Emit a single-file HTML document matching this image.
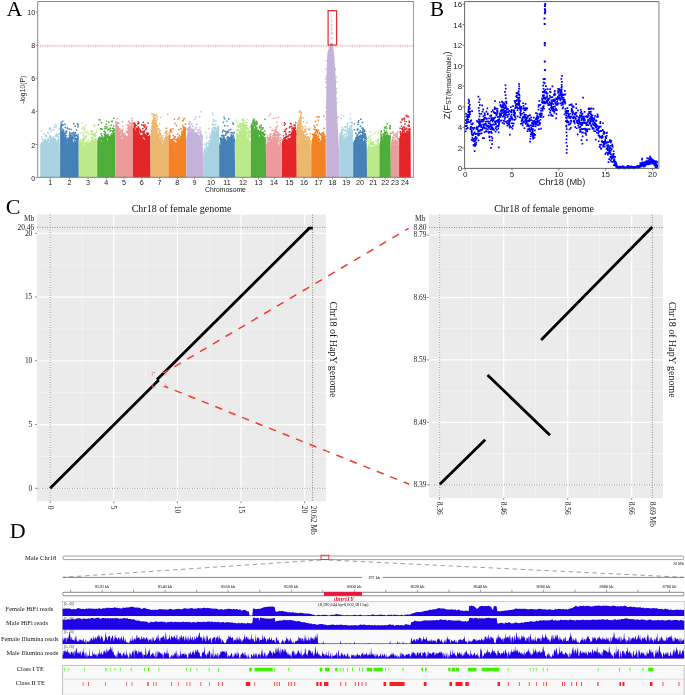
<!DOCTYPE html><html><head><meta charset="utf-8"><title>fig</title><style>
html,body{margin:0;padding:0;background:#fff;width:685px;height:695px;overflow:hidden}
svg{display:block;will-change:transform}
.s{font-family:"Liberation Sans",sans-serif}.r{font-family:"Liberation Serif",serif}
</style></head><body>
<svg width="685" height="695" viewBox="0 0 685 695">
<g id="A">
<path fill="#a9d3e3" d="M40.2 177.6 L40.2 145.5 L40.7 144.4 L41.2 143.6 L41.7 143.8 L42.2 145.5 L42.7 143.9 L43.2 141.4 L43.7 140.2 L44.2 139.1 L44.7 140.5 L45.2 139 L45.7 140.9 L46.2 143 L46.7 139.9 L47.2 140.2 L47.7 139.1 L48.2 142.9 L48.7 143 L49.2 142.2 L49.7 141.5 L50.2 139.1 L50.7 139.7 L51.2 137.8 L51.7 139 L52.2 138.1 L52.7 138.3 L53.2 139.2 L53.7 136.6 L54.2 138.2 L54.7 137.4 L55.2 141.3 L55.7 141.8 L56.2 142.3 L56.7 141.1 L57.2 140 L57.7 140.8 L58.2 141.4 L58.7 141.9 L59.2 142.9 L59.7 139.2 L60.1 177.6 Z"/>
<path fill="#a9d3e3" d="M43.6 142.5h1.5v1.5h-1.5zM41.6 138.4h1.5v1.5h-1.5zM42.9 142.4h1.5v1.5h-1.5zM47.7 132.2h1.5v1.5h-1.5zM42 141.8h1.5v1.5h-1.5zM50.6 130.6h1.5v1.5h-1.5zM55.5 133.4h1.5v1.5h-1.5zM45.6 139.6h1.5v1.5h-1.5zM47.1 132h1.5v1.5h-1.5zM58 141h1.5v1.5h-1.5zM43.7 141.8h1.5v1.5h-1.5zM44.8 139.4h1.5v1.5h-1.5zM51.3 138.2h1.5v1.5h-1.5zM40.6 143.2h1.5v1.5h-1.5zM47.3 137.6h1.5v1.5h-1.5zM57.9 136.7h1.5v1.5h-1.5zM49.9 136h1.5v1.5h-1.5zM52.9 139.6h1.5v1.5h-1.5zM57 135.6h1.5v1.5h-1.5zM56.5 135.5h1.5v1.5h-1.5zM47.7 138.9h1.5v1.5h-1.5zM42.4 139.7h1.5v1.5h-1.5zM41.6 144.3h1.5v1.5h-1.5zM44.3 141.7h1.5v1.5h-1.5zM46.7 141.2h1.5v1.5h-1.5zM40.5 144.9h1.5v1.5h-1.5zM42.4 142.1h1.5v1.5h-1.5zM41 136.3h1.5v1.5h-1.5zM51.7 138.7h1.5v1.5h-1.5zM45.1 140.3h1.5v1.5h-1.5zM47.2 140.7h1.5v1.5h-1.5zM49.4 140h1.5v1.5h-1.5zM42.4 142.2h1.5v1.5h-1.5zM45.3 134.4h1.5v1.5h-1.5zM43.5 143h1.5v1.5h-1.5zM57.9 138.5h1.5v1.5h-1.5zM43.2 140h1.5v1.5h-1.5zM41 141.9h1.5v1.5h-1.5zM58.4 133h1.5v1.5h-1.5zM53.2 138.8h1.5v1.5h-1.5zM47.2 140.5h1.5v1.5h-1.5zM54.6 138h1.5v1.5h-1.5zM54.8 139.7h1.5v1.5h-1.5zM44.6 135.2h1.5v1.5h-1.5zM58.5 133.3h1.5v1.5h-1.5zM55.3 134.5h1.5v1.5h-1.5zM54 139.7h1.5v1.5h-1.5zM50 138.2h1.5v1.5h-1.5zM41 145h1.5v1.5h-1.5zM45.6 140.6h1.5v1.5h-1.5zM53.2 126.6h1.5v1.5h-1.5zM48.7 128.7h1.5v1.5h-1.5zM58.6 128.1h1.5v1.5h-1.5zM47.2 140.2h1.5v1.5h-1.5zM44.7 141.4h1.5v1.5h-1.5zM44.2 138.3h1.5v1.5h-1.5zM57 134.3h1.5v1.5h-1.5zM49.3 135.8h1.5v1.5h-1.5zM55.1 141.3h1.5v1.5h-1.5zM52.6 129.2h1.5v1.5h-1.5zM54.8 135.5h1.5v1.5h-1.5zM49.2 139.6h1.5v1.5h-1.5zM54.9 139.8h1.5v1.5h-1.5zM55.2 126.4h1.5v1.5h-1.5zM47.7 138.8h1.5v1.5h-1.5zM57.8 136.3h1.5v1.5h-1.5zM43.6 142.4h1.5v1.5h-1.5zM43.3 133.2h1.5v1.5h-1.5zM55.3 141.1h1.5v1.5h-1.5zM55.6 125.2h1.5v1.5h-1.5zM52.5 137.7h1.5v1.5h-1.5zM50.5 139.3h1.5v1.5h-1.5zM40.8 130.1h1.5v1.5h-1.5zM52.4 136.2h1.5v1.5h-1.5zM57.6 139.5h1.5v1.5h-1.5zM56.5 134.8h1.5v1.5h-1.5zM44.4 141.2h1.5v1.5h-1.5zM45.9 140.6h1.5v1.5h-1.5zM51.2 138.3h1.5v1.5h-1.5zM48.2 140.3h1.5v1.5h-1.5zM57.2 140.2h1.5v1.5h-1.5zM48.9 136.8h1.5v1.5h-1.5zM57 139.8h1.5v1.5h-1.5zM57.3 139h1.5v1.5h-1.5zM50.2 136.8h1.5v1.5h-1.5zM40.8 142.8h1.5v1.5h-1.5zM43.9 142.8h1.5v1.5h-1.5zM55.1 140.9h1.5v1.5h-1.5zM49.2 134.9h1.5v1.5h-1.5zM50.7 138.1h1.5v1.5h-1.5zM50 136.6h1.5v1.5h-1.5zM54.9 141h1.5v1.5h-1.5zM50.8 138.6h1.5v1.5h-1.5zM45.6 135.6h1.5v1.5h-1.5zM49.8 127.6h1.4v1.4h-1.4zM54.4 124h1.4v1.4h-1.4zM48.6 127.3h1.4v1.4h-1.4zM49.8 128.2h1.4v1.4h-1.4zM53.2 128.7h1.4v1.4h-1.4zM50.3 128.4h1.4v1.4h-1.4z"/>
<path fill="#4381b6" d="M60.1 177.6 L60.1 123.1 L60.6 127.2 L61.1 125.5 L61.6 130 L62.1 131.1 L62.6 131.1 L63.1 128.7 L63.6 133.1 L64.1 133.6 L64.6 135.9 L65.1 137.2 L65.6 138.1 L66.1 137.4 L66.6 138.5 L67.1 141.1 L67.6 142.9 L68.1 139.4 L68.6 139.4 L69.1 140.1 L69.6 141.5 L70.1 136.3 L70.6 134.5 L71.1 134.1 L71.6 136.8 L72.1 136.4 L72.6 137 L73.1 142.7 L73.6 141.3 L74.1 138.8 L74.6 140.3 L75.1 141.5 L75.6 140.5 L76.1 138.6 L76.6 138.4 L77.1 137.4 L77.6 135 L78.1 133.5 L78.6 133.6 L78.8 177.6 Z"/>
<path fill="#4381b6" d="M76.2 137.9h1.5v1.5h-1.5zM62.6 129.4h1.5v1.5h-1.5zM64.5 136.2h1.5v1.5h-1.5zM63.2 133.9h1.5v1.5h-1.5zM63.9 134.3h1.5v1.5h-1.5zM65.6 132.1h1.5v1.5h-1.5zM65.4 134.9h1.5v1.5h-1.5zM63.4 133h1.5v1.5h-1.5zM60.7 126.3h1.5v1.5h-1.5zM60.7 121.8h1.5v1.5h-1.5zM69.8 138h1.5v1.5h-1.5zM68.5 128.3h1.5v1.5h-1.5zM62.2 124.2h1.5v1.5h-1.5zM67.8 137.7h1.5v1.5h-1.5zM74.7 138.4h1.5v1.5h-1.5zM69.1 134.5h1.5v1.5h-1.5zM77.2 136.2h1.5v1.5h-1.5zM74.6 135.2h1.5v1.5h-1.5zM71.3 135.4h1.5v1.5h-1.5zM66.3 139h1.5v1.5h-1.5zM62.6 132.3h1.5v1.5h-1.5zM73.1 137.8h1.5v1.5h-1.5zM63.2 133.8h1.5v1.5h-1.5zM74.8 131.8h1.5v1.5h-1.5zM71.9 136.6h1.5v1.5h-1.5zM64.5 135.3h1.5v1.5h-1.5zM68.3 139.5h1.5v1.5h-1.5zM68 139.2h1.5v1.5h-1.5zM76.8 123h1.5v1.5h-1.5zM69.8 137.7h1.5v1.5h-1.5zM76.9 136.8h1.5v1.5h-1.5zM66.5 139.4h1.5v1.5h-1.5zM66.9 137.2h1.5v1.5h-1.5zM69 138.6h1.5v1.5h-1.5zM69 139.6h1.5v1.5h-1.5zM64.9 136.9h1.5v1.5h-1.5zM67.2 140.2h1.5v1.5h-1.5zM60.8 126.2h1.5v1.5h-1.5zM64.4 132.8h1.5v1.5h-1.5zM69.4 133.2h1.5v1.5h-1.5zM71.6 132.4h1.5v1.5h-1.5zM75.4 138.2h1.5v1.5h-1.5zM72.8 134.4h1.5v1.5h-1.5zM61.1 124.4h1.5v1.5h-1.5zM72.9 131.8h1.5v1.5h-1.5zM62.8 129.9h1.5v1.5h-1.5zM69 131.8h1.5v1.5h-1.5zM74.2 132.5h1.5v1.5h-1.5zM70.4 128.8h1.5v1.5h-1.5zM72.1 133.1h1.5v1.5h-1.5zM64.3 136.4h1.5v1.5h-1.5zM62.7 130.9h1.5v1.5h-1.5zM62.2 123.7h1.5v1.5h-1.5zM70 134.5h1.5v1.5h-1.5zM71.1 132.8h1.5v1.5h-1.5zM68.8 139.8h1.5v1.5h-1.5zM74 134h1.5v1.5h-1.5zM69 136.3h1.5v1.5h-1.5zM71.7 137.6h1.5v1.5h-1.5zM73 137.8h1.5v1.5h-1.5zM61.7 128.8h1.5v1.5h-1.5zM72.9 137.9h1.5v1.5h-1.5zM73.1 123.1h1.5v1.5h-1.5zM68.8 137.7h1.5v1.5h-1.5zM68.6 135h1.5v1.5h-1.5zM73.5 135.4h1.5v1.5h-1.5zM71.4 137.3h1.5v1.5h-1.5zM62.9 132.2h1.5v1.5h-1.5zM73.1 137.6h1.5v1.5h-1.5zM70.1 138.6h1.5v1.5h-1.5zM61.4 128.2h1.5v1.5h-1.5zM71.9 133h1.5v1.5h-1.5zM72 136.6h1.5v1.5h-1.5zM69.2 136.7h1.5v1.5h-1.5zM68.4 139.6h1.5v1.5h-1.5zM75.7 139.1h1.5v1.5h-1.5zM77.1 126.3h1.5v1.5h-1.5zM60.7 124.9h1.5v1.5h-1.5zM74.4 125.5h1.5v1.5h-1.5zM68.1 139.1h1.5v1.5h-1.5zM64 123.6h1.5v1.5h-1.5zM64 132.4h1.5v1.5h-1.5zM62.8 130h1.5v1.5h-1.5zM76.7 138.1h1.5v1.5h-1.5zM74.4 137.2h1.5v1.5h-1.5zM75.6 135h1.5v1.5h-1.5zM64.4 126.8h1.5v1.5h-1.5zM68.7 139.7h1.5v1.5h-1.5zM60.5 124h1.5v1.5h-1.5zM68.1 138.8h1.5v1.5h-1.5zM62.8 131.3h1.5v1.5h-1.5zM65.8 130.6h1.5v1.5h-1.5zM60.4 121.9h1.5v1.5h-1.5zM76.2 133.9h1.5v1.5h-1.5zM75.8 129.3h1.4v1.4h-1.4zM66.8 127.9h1.4v1.4h-1.4zM77.5 124.3h1.4v1.4h-1.4zM66.6 127.2h1.4v1.4h-1.4zM65.1 130.4h1.4v1.4h-1.4zM62.1 120.5h1.4v1.4h-1.4z"/>
<path fill="#bcea8a" d="M78.8 177.6 L78.8 144.5 L79.3 140.8 L79.8 140.5 L80.3 139.4 L80.8 142 L81.3 142.2 L81.8 144.2 L82.3 140 L82.8 138.4 L83.3 142.7 L83.8 145.1 L84.3 146.9 L84.8 143.4 L85.3 144.1 L85.8 144.8 L86.3 146.1 L86.8 145.4 L87.3 146.1 L87.8 145 L88.3 146.3 L88.8 145.2 L89.3 143.2 L89.8 140.5 L90.3 142.4 L90.8 142.5 L91.3 140.9 L91.8 140.5 L92.3 138.5 L92.8 137.7 L93.3 138.5 L93.8 139.4 L94.3 140.7 L94.8 140.9 L95.3 141.1 L95.8 140.3 L96.3 141.6 L96.8 141.4 L97.2 177.6 Z"/>
<path fill="#bcea8a" d="M91 132.1h1.5v1.5h-1.5zM87.1 141.5h1.5v1.5h-1.5zM79.1 142.1h1.5v1.5h-1.5zM94.7 133.1h1.5v1.5h-1.5zM93.5 124.2h1.5v1.5h-1.5zM83.3 141.8h1.5v1.5h-1.5zM81.7 138.7h1.5v1.5h-1.5zM90.6 130h1.5v1.5h-1.5zM91.2 137.1h1.5v1.5h-1.5zM91.9 138.3h1.5v1.5h-1.5zM88.4 144h1.5v1.5h-1.5zM92.2 139.5h1.5v1.5h-1.5zM94.6 136h1.5v1.5h-1.5zM84.2 142.9h1.5v1.5h-1.5zM83.3 138h1.5v1.5h-1.5zM90.8 141.4h1.5v1.5h-1.5zM80.3 140h1.5v1.5h-1.5zM88.9 141.6h1.5v1.5h-1.5zM82.9 137.7h1.5v1.5h-1.5zM79.3 142.5h1.5v1.5h-1.5zM86.8 131.8h1.5v1.5h-1.5zM89.9 133.5h1.5v1.5h-1.5zM87.1 144.2h1.5v1.5h-1.5zM83.3 128.3h1.5v1.5h-1.5zM90.9 140.3h1.5v1.5h-1.5zM79.5 140.9h1.5v1.5h-1.5zM90.4 140h1.5v1.5h-1.5zM83.4 137.7h1.5v1.5h-1.5zM94.6 139.4h1.5v1.5h-1.5zM79.7 141.9h1.5v1.5h-1.5zM86.2 141.2h1.5v1.5h-1.5zM82.4 134.4h1.5v1.5h-1.5zM91.5 138.3h1.5v1.5h-1.5zM82.5 126.2h1.5v1.5h-1.5zM84.3 136.3h1.5v1.5h-1.5zM83 140.8h1.5v1.5h-1.5zM91.9 139.5h1.5v1.5h-1.5zM95.1 138h1.5v1.5h-1.5zM82.2 140.3h1.5v1.5h-1.5zM86.1 141.4h1.5v1.5h-1.5zM95 140.2h1.5v1.5h-1.5zM85.7 144.5h1.5v1.5h-1.5zM95.5 140.6h1.5v1.5h-1.5zM80 143.2h1.5v1.5h-1.5zM85.7 135.7h1.5v1.5h-1.5zM93.9 134.2h1.5v1.5h-1.5zM95.9 130.1h1.5v1.5h-1.5zM84.6 143.2h1.5v1.5h-1.5zM94.8 134.8h1.5v1.5h-1.5zM79.6 139h1.5v1.5h-1.5zM85.5 143.2h1.5v1.5h-1.5zM84.7 143.4h1.5v1.5h-1.5zM79.1 142.8h1.5v1.5h-1.5zM85 131.2h1.5v1.5h-1.5zM81.2 128h1.5v1.5h-1.5zM82.6 139.4h1.5v1.5h-1.5zM92.9 132.7h1.5v1.5h-1.5zM86.4 145.8h1.5v1.5h-1.5zM87.1 143.3h1.5v1.5h-1.5zM94.5 139.5h1.5v1.5h-1.5zM85.2 135.1h1.5v1.5h-1.5zM79.6 141.5h1.5v1.5h-1.5zM92.7 134h1.5v1.5h-1.5zM79.8 143.5h1.5v1.5h-1.5zM80.2 132.4h1.5v1.5h-1.5zM83.4 136.5h1.5v1.5h-1.5zM94.2 138.4h1.5v1.5h-1.5zM83.7 129.2h1.5v1.5h-1.5zM89.5 141.9h1.5v1.5h-1.5zM91.1 140h1.5v1.5h-1.5zM83.7 142.9h1.5v1.5h-1.5zM91.8 130.4h1.5v1.5h-1.5zM89.8 130.6h1.5v1.5h-1.5zM79.5 142.7h1.5v1.5h-1.5zM87.1 131.8h1.5v1.5h-1.5zM95.1 138.9h1.5v1.5h-1.5zM83.3 139.9h1.5v1.5h-1.5zM87.4 133.7h1.5v1.5h-1.5zM82.2 134.5h1.5v1.5h-1.5zM91.5 133.9h1.5v1.5h-1.5zM92.1 136.8h1.5v1.5h-1.5zM84.6 142.4h1.5v1.5h-1.5zM85.2 138.3h1.5v1.5h-1.5zM80.4 142.1h1.5v1.5h-1.5zM91.7 139.9h1.5v1.5h-1.5zM80.2 143.1h1.5v1.5h-1.5zM88.4 142.5h1.5v1.5h-1.5zM95.6 132.1h1.5v1.5h-1.5zM95.7 140.2h1.5v1.5h-1.5zM80.5 142.5h1.5v1.5h-1.5zM87.5 139.6h1.5v1.5h-1.5zM86.6 144.6h1.5v1.5h-1.5zM86.1 141.9h1.5v1.5h-1.5zM90.4 136.4h1.5v1.5h-1.5zM93.3 135h1.5v1.5h-1.5zM81.1 122.2h1.4v1.4h-1.4zM84 127h1.4v1.4h-1.4zM85.4 124.6h1.4v1.4h-1.4zM82.4 130.9h1.4v1.4h-1.4zM83.2 133.1h1.4v1.4h-1.4zM94 125.4h1.4v1.4h-1.4z"/>
<path fill="#4fad3a" d="M97.2 177.6 L97.2 139.1 L97.7 141.3 L98.2 139.4 L98.7 137.3 L99.2 139.2 L99.7 138.8 L100.2 136.4 L100.7 138.9 L101.2 142.2 L101.7 139.2 L102.2 137.3 L102.7 135.4 L103.2 137.9 L103.7 136 L104.2 136.6 L104.7 136.4 L105.2 134.9 L105.7 134.7 L106.2 132.5 L106.7 138.2 L107.2 138.7 L107.7 141.5 L108.2 137.5 L108.7 138.6 L109.2 137 L109.7 134.8 L110.2 137.7 L110.7 135.1 L111.2 133.5 L111.7 133.1 L112.2 134.6 L112.7 134.9 L113.2 131.8 L113.7 132.2 L114.2 130.3 L114.7 133.3 L115.2 132.9 L115.3 177.6 Z"/>
<path fill="#4fad3a" d="M105.1 135.7h1.5v1.5h-1.5zM97.7 138.6h1.5v1.5h-1.5zM108.1 128.8h1.5v1.5h-1.5zM99 136.7h1.5v1.5h-1.5zM103.6 133.6h1.5v1.5h-1.5zM99.9 138.6h1.5v1.5h-1.5zM106.1 126.2h1.5v1.5h-1.5zM99.3 137.7h1.5v1.5h-1.5zM110.8 120.8h1.5v1.5h-1.5zM100.8 138.7h1.5v1.5h-1.5zM113.1 117.6h1.5v1.5h-1.5zM105.5 136.6h1.5v1.5h-1.5zM112.8 131.6h1.5v1.5h-1.5zM112.4 129.7h1.5v1.5h-1.5zM111.1 134.3h1.5v1.5h-1.5zM110.5 134.8h1.5v1.5h-1.5zM104.2 128.1h1.5v1.5h-1.5zM111.2 134.1h1.5v1.5h-1.5zM101.1 136.8h1.5v1.5h-1.5zM106 135.3h1.5v1.5h-1.5zM99.5 139.2h1.5v1.5h-1.5zM109.5 127.5h1.5v1.5h-1.5zM98.2 138.1h1.5v1.5h-1.5zM110 136.4h1.5v1.5h-1.5zM111.3 134.2h1.5v1.5h-1.5zM107.4 135.2h1.5v1.5h-1.5zM107.8 137.4h1.5v1.5h-1.5zM104.4 132.1h1.5v1.5h-1.5zM104.5 131.3h1.5v1.5h-1.5zM104.9 133.8h1.5v1.5h-1.5zM97.9 137.7h1.5v1.5h-1.5zM105.6 135.8h1.5v1.5h-1.5zM110.1 129.9h1.5v1.5h-1.5zM105.1 135.6h1.5v1.5h-1.5zM105.3 136.2h1.5v1.5h-1.5zM99.6 137.9h1.5v1.5h-1.5zM99 138.3h1.5v1.5h-1.5zM105.9 137.1h1.5v1.5h-1.5zM108 138.8h1.5v1.5h-1.5zM109.6 130.6h1.5v1.5h-1.5zM105.9 137h1.5v1.5h-1.5zM105.8 135.1h1.5v1.5h-1.5zM113.2 132.9h1.5v1.5h-1.5zM111.6 120.4h1.5v1.5h-1.5zM100.7 122.1h1.5v1.5h-1.5zM105.6 123.5h1.5v1.5h-1.5zM112.6 133h1.5v1.5h-1.5zM110.5 124.4h1.5v1.5h-1.5zM98.6 139.4h1.5v1.5h-1.5zM110 135.8h1.5v1.5h-1.5zM112.3 132.6h1.5v1.5h-1.5zM111 134.6h1.5v1.5h-1.5zM105.8 126.3h1.5v1.5h-1.5zM100.9 137.8h1.5v1.5h-1.5zM105.8 135.5h1.5v1.5h-1.5zM98.1 140.8h1.5v1.5h-1.5zM100.2 128h1.5v1.5h-1.5zM108.7 128.6h1.5v1.5h-1.5zM100.3 133.1h1.5v1.5h-1.5zM99.4 137.2h1.5v1.5h-1.5zM108 137.2h1.5v1.5h-1.5zM111.9 130.7h1.5v1.5h-1.5zM107.1 129.1h1.5v1.5h-1.5zM99.2 119.3h1.5v1.5h-1.5zM107.9 136.9h1.5v1.5h-1.5zM110.7 134.3h1.5v1.5h-1.5zM113.8 129.5h1.5v1.5h-1.5zM103.4 130.6h1.5v1.5h-1.5zM104.8 135.4h1.5v1.5h-1.5zM109.8 136.6h1.5v1.5h-1.5zM111 133.9h1.5v1.5h-1.5zM108 121.4h1.5v1.5h-1.5zM107.2 133.7h1.5v1.5h-1.5zM102.7 137.5h1.5v1.5h-1.5zM98.1 141h1.5v1.5h-1.5zM107.7 136.4h1.5v1.5h-1.5zM106 127.6h1.5v1.5h-1.5zM99.7 139.1h1.5v1.5h-1.5zM108.3 138.8h1.5v1.5h-1.5zM97.5 140.3h1.5v1.5h-1.5zM99.3 138.7h1.5v1.5h-1.5zM101.2 135.1h1.5v1.5h-1.5zM107.2 137.5h1.5v1.5h-1.5zM107.8 136.2h1.5v1.5h-1.5zM99.7 128.3h1.5v1.5h-1.5zM101.5 137.9h1.5v1.5h-1.5zM99.1 136.4h1.5v1.5h-1.5zM111.9 127.6h1.5v1.5h-1.5zM104.1 134.9h1.5v1.5h-1.5zM97.7 137.6h1.5v1.5h-1.5zM106.8 136.2h1.5v1.5h-1.5zM108.2 136.6h1.5v1.5h-1.5zM113 128h1.5v1.5h-1.5zM101.6 128.4h1.5v1.5h-1.5zM98.2 138.3h1.5v1.5h-1.5zM104.2 126h1.4v1.4h-1.4zM98.5 119.1h1.4v1.4h-1.4zM97.7 124h1.4v1.4h-1.4zM113 125.3h1.4v1.4h-1.4zM100.8 121.7h1.4v1.4h-1.4zM105.9 120.4h1.4v1.4h-1.4z"/>
<path fill="#ec9a9a" d="M115.3 177.6 L115.3 119.7 L115.8 121.9 L116.3 124.1 L116.8 125 L117.3 123 L117.8 126.5 L118.3 129.2 L118.8 132.7 L119.3 130.6 L119.8 132.4 L120.3 134 L120.8 136.3 L121.3 137.7 L121.8 139.1 L122.3 139.2 L122.8 137.5 L123.3 138.2 L123.8 137.1 L124.3 138.6 L124.8 136.3 L125.3 138 L125.8 139.6 L126.3 138.4 L126.8 135.8 L127.3 136.7 L127.8 135 L128.3 132.4 L128.8 131.1 L129.3 130.3 L129.8 126.8 L130.3 125.6 L130.8 125.5 L131.3 123.1 L131.8 122.5 L132.3 121.3 L132.8 119 L132.8 177.6 Z"/>
<path fill="#ec9a9a" d="M116.6 121.9h1.5v1.5h-1.5zM121.4 130.5h1.5v1.5h-1.5zM128.6 121.6h1.5v1.5h-1.5zM116.6 122.7h1.5v1.5h-1.5zM117.3 127h1.5v1.5h-1.5zM117.4 128.1h1.5v1.5h-1.5zM129.1 122.9h1.5v1.5h-1.5zM125.7 130.4h1.5v1.5h-1.5zM125.6 136.5h1.5v1.5h-1.5zM117.2 127.1h1.5v1.5h-1.5zM127.6 132.5h1.5v1.5h-1.5zM120.7 134.1h1.5v1.5h-1.5zM115.9 122.1h1.5v1.5h-1.5zM120.1 129.9h1.5v1.5h-1.5zM121.5 136.3h1.5v1.5h-1.5zM130.9 122.7h1.5v1.5h-1.5zM129.1 125.8h1.5v1.5h-1.5zM116.1 121.7h1.5v1.5h-1.5zM122.5 133h1.5v1.5h-1.5zM121.1 132h1.5v1.5h-1.5zM124.2 137.6h1.5v1.5h-1.5zM129.3 129.2h1.5v1.5h-1.5zM128.6 130.4h1.5v1.5h-1.5zM115.6 121.4h1.5v1.5h-1.5zM123.4 136.1h1.5v1.5h-1.5zM128.3 131.2h1.5v1.5h-1.5zM123.5 137.1h1.5v1.5h-1.5zM128.8 129.4h1.5v1.5h-1.5zM130.6 125.1h1.5v1.5h-1.5zM119 128.1h1.5v1.5h-1.5zM123.5 138.5h1.5v1.5h-1.5zM125.7 137.6h1.5v1.5h-1.5zM128.1 127.2h1.5v1.5h-1.5zM128.1 128.2h1.5v1.5h-1.5zM121.3 135.3h1.5v1.5h-1.5zM121.9 129.2h1.5v1.5h-1.5zM118.9 131.7h1.5v1.5h-1.5zM129.9 125.1h1.5v1.5h-1.5zM121.6 129h1.5v1.5h-1.5zM119.3 131.2h1.5v1.5h-1.5zM124.1 132.7h1.5v1.5h-1.5zM127.6 129.2h1.5v1.5h-1.5zM121.1 135.6h1.5v1.5h-1.5zM118.1 122.5h1.5v1.5h-1.5zM126.1 131.3h1.5v1.5h-1.5zM118.3 128.8h1.5v1.5h-1.5zM127.9 129.2h1.5v1.5h-1.5zM117.6 126.3h1.5v1.5h-1.5zM129.7 127.6h1.5v1.5h-1.5zM118.6 130.9h1.5v1.5h-1.5zM126.8 127.6h1.5v1.5h-1.5zM118.1 129.7h1.5v1.5h-1.5zM119.5 132.6h1.5v1.5h-1.5zM123.9 138h1.5v1.5h-1.5zM120.8 135.8h1.5v1.5h-1.5zM131.1 119.7h1.5v1.5h-1.5zM121.7 120.7h1.5v1.5h-1.5zM128.2 126.4h1.5v1.5h-1.5zM122.5 138.5h1.5v1.5h-1.5zM125.7 137.4h1.5v1.5h-1.5zM118.9 131h1.5v1.5h-1.5zM116.1 121.9h1.5v1.5h-1.5zM128.2 127.2h1.5v1.5h-1.5zM123.6 134.6h1.5v1.5h-1.5zM123 138.6h1.5v1.5h-1.5zM125.2 135.9h1.5v1.5h-1.5zM127.4 123.9h1.5v1.5h-1.5zM122.4 135.8h1.5v1.5h-1.5zM127.5 131.5h1.5v1.5h-1.5zM119.2 128.2h1.5v1.5h-1.5zM129.6 122.5h1.5v1.5h-1.5zM126.7 127.4h1.5v1.5h-1.5zM126.4 132h1.5v1.5h-1.5zM122.8 137.7h1.5v1.5h-1.5zM125.6 137.5h1.5v1.5h-1.5zM122.3 132.9h1.5v1.5h-1.5zM126.9 130.9h1.5v1.5h-1.5zM119.6 132h1.5v1.5h-1.5zM122.8 135.1h1.5v1.5h-1.5zM122.1 134.3h1.5v1.5h-1.5zM130.4 126.2h1.5v1.5h-1.5zM126 130.9h1.5v1.5h-1.5zM121.8 135.7h1.5v1.5h-1.5zM131.1 125.2h1.5v1.5h-1.5zM124.2 137.9h1.5v1.5h-1.5zM128 120.5h1.5v1.5h-1.5zM123.9 138.3h1.5v1.5h-1.5zM124.7 135h1.5v1.5h-1.5zM127 131.9h1.5v1.5h-1.5zM125.8 130.3h1.5v1.5h-1.5zM123.9 136.5h1.5v1.5h-1.5zM130.7 125.3h1.5v1.5h-1.5zM126.5 124.4h1.4v1.4h-1.4zM127.7 125.4h1.4v1.4h-1.4zM131.3 117.7h1.4v1.4h-1.4zM116.5 118h1.4v1.4h-1.4zM122 132.1h1.4v1.4h-1.4zM122.3 125.9h1.4v1.4h-1.4z"/>
<path fill="#e4262a" d="M132.8 177.6 L132.8 126.8 L133.3 128.8 L133.8 128.2 L134.3 126.6 L134.8 126.7 L135.3 130.4 L135.8 129.3 L136.3 128 L136.8 128 L137.3 128.8 L137.8 128.7 L138.3 129.9 L138.8 128.9 L139.3 132.4 L139.8 133.3 L140.3 135.4 L140.8 134.5 L141.3 134.9 L141.8 134.7 L142.3 136.1 L142.8 136.7 L143.3 139.2 L143.8 138.2 L144.3 139.8 L144.8 139.5 L145.3 137 L145.8 134.7 L146.3 135.1 L146.8 139.1 L147.3 135.6 L147.8 137.5 L148.3 138.3 L148.8 138.3 L149.3 138.2 L149.8 139.3 L150.3 140.4 L150.6 177.6 Z"/>
<path fill="#e4262a" d="M147.6 133h1.5v1.5h-1.5zM146.7 138.1h1.5v1.5h-1.5zM144.3 134.7h1.5v1.5h-1.5zM145.1 135.8h1.5v1.5h-1.5zM147.4 136.1h1.5v1.5h-1.5zM137.4 127.9h1.5v1.5h-1.5zM135.4 124.7h1.5v1.5h-1.5zM134 124.9h1.5v1.5h-1.5zM135.4 124.7h1.5v1.5h-1.5zM141.2 131h1.5v1.5h-1.5zM147.1 139.2h1.5v1.5h-1.5zM146.7 136.3h1.5v1.5h-1.5zM142.2 131.1h1.5v1.5h-1.5zM146.7 137h1.5v1.5h-1.5zM143.4 133.1h1.5v1.5h-1.5zM133.6 123.6h1.5v1.5h-1.5zM144.2 126.3h1.5v1.5h-1.5zM141 124.2h1.5v1.5h-1.5zM133.6 122.2h1.5v1.5h-1.5zM143.2 135.4h1.5v1.5h-1.5zM147.1 137.3h1.5v1.5h-1.5zM140.8 130.6h1.5v1.5h-1.5zM145.6 137.5h1.5v1.5h-1.5zM140.2 130.5h1.5v1.5h-1.5zM142.1 128h1.5v1.5h-1.5zM137.8 122.1h1.5v1.5h-1.5zM139.6 129.2h1.5v1.5h-1.5zM137.5 126.2h1.5v1.5h-1.5zM148.9 136.4h1.5v1.5h-1.5zM145.9 137h1.5v1.5h-1.5zM138.2 128.7h1.5v1.5h-1.5zM142.6 132h1.5v1.5h-1.5zM145.8 138.5h1.5v1.5h-1.5zM144.8 128.8h1.5v1.5h-1.5zM141.9 135.2h1.5v1.5h-1.5zM138 129.8h1.5v1.5h-1.5zM143.8 131h1.5v1.5h-1.5zM147.8 135.9h1.5v1.5h-1.5zM143.1 132.8h1.5v1.5h-1.5zM144.4 134.1h1.5v1.5h-1.5zM144.1 136.8h1.5v1.5h-1.5zM143.9 135.1h1.5v1.5h-1.5zM145.5 138h1.5v1.5h-1.5zM136 127.5h1.5v1.5h-1.5zM145.6 128h1.5v1.5h-1.5zM143.7 135.7h1.5v1.5h-1.5zM146.4 132.3h1.5v1.5h-1.5zM142.2 134.5h1.5v1.5h-1.5zM138 127.5h1.5v1.5h-1.5zM138.3 127.8h1.5v1.5h-1.5zM143.5 125.9h1.5v1.5h-1.5zM134 124h1.5v1.5h-1.5zM133.7 127.1h1.5v1.5h-1.5zM146.2 135.1h1.5v1.5h-1.5zM148 137.5h1.5v1.5h-1.5zM133.3 125.5h1.5v1.5h-1.5zM142.7 124.5h1.5v1.5h-1.5zM149 138.2h1.5v1.5h-1.5zM139.8 131.9h1.5v1.5h-1.5zM143.5 136.6h1.5v1.5h-1.5zM135.6 127.6h1.5v1.5h-1.5zM133.2 122.7h1.5v1.5h-1.5zM147.2 138.7h1.5v1.5h-1.5zM133.4 122.2h1.5v1.5h-1.5zM137 122.9h1.5v1.5h-1.5zM136.1 127.4h1.5v1.5h-1.5zM145.6 133.2h1.5v1.5h-1.5zM147 133.5h1.5v1.5h-1.5zM134.5 123.4h1.5v1.5h-1.5zM144.6 135.4h1.5v1.5h-1.5zM148.2 139h1.5v1.5h-1.5zM148.7 135.3h1.5v1.5h-1.5zM133.3 127.6h1.5v1.5h-1.5zM143.6 130.3h1.5v1.5h-1.5zM134.4 126h1.5v1.5h-1.5zM144.9 137.4h1.5v1.5h-1.5zM147 136.3h1.5v1.5h-1.5zM134.1 125.6h1.5v1.5h-1.5zM142.4 133.6h1.5v1.5h-1.5zM144.1 137.1h1.5v1.5h-1.5zM146 136.8h1.5v1.5h-1.5zM143.5 133.3h1.5v1.5h-1.5zM139.9 130.4h1.5v1.5h-1.5zM145.8 126.2h1.5v1.5h-1.5zM145.8 135h1.5v1.5h-1.5zM137.8 129.4h1.5v1.5h-1.5zM148.9 135.7h1.5v1.5h-1.5zM146.5 137.2h1.5v1.5h-1.5zM142.9 124.3h1.5v1.5h-1.5zM138.1 127.6h1.5v1.5h-1.5zM147.5 137.6h1.5v1.5h-1.5zM144.2 124.3h1.4v1.4h-1.4zM147.6 122.3h1.4v1.4h-1.4zM137.7 122.8h1.4v1.4h-1.4zM137.4 121.2h1.4v1.4h-1.4zM142.6 121.5h1.4v1.4h-1.4zM147.5 132.4h1.4v1.4h-1.4z"/>
<path fill="#ecb86e" d="M150.6 177.6 L150.6 128 L151.1 129.7 L151.6 125.1 L152.1 126.1 L152.6 124.1 L153.1 119.6 L153.6 118.4 L154.1 120.8 L154.6 120.4 L155.1 120.9 L155.6 121.7 L156.1 123.4 L156.6 124.3 L157.1 126.9 L157.6 129.3 L158.1 133.5 L158.6 133.9 L159.1 132.6 L159.6 136.8 L160.1 140.1 L160.6 139 L161.1 139.8 L161.6 141.4 L162.1 143.9 L162.6 143.7 L163.1 141.4 L163.6 140.6 L164.1 142 L164.6 140.8 L165.1 137.6 L165.6 134.4 L166.1 138.2 L166.6 139 L167.1 136.8 L167.6 136 L168.1 134.8 L168.4 177.6 Z"/>
<path fill="#ecb86e" d="M151.7 123h1.5v1.5h-1.5zM165 138.2h1.5v1.5h-1.5zM166.2 127.6h1.5v1.5h-1.5zM151.9 121.9h1.5v1.5h-1.5zM157.3 128h1.5v1.5h-1.5zM166.4 136.2h1.5v1.5h-1.5zM160 133.8h1.5v1.5h-1.5zM166.4 132.8h1.5v1.5h-1.5zM157.3 125.8h1.5v1.5h-1.5zM153.5 114.2h1.5v1.5h-1.5zM151.5 125.8h1.5v1.5h-1.5zM156.6 116.5h1.5v1.5h-1.5zM165.6 131.7h1.5v1.5h-1.5zM151.7 120h1.5v1.5h-1.5zM162.4 137.8h1.5v1.5h-1.5zM166.9 136.2h1.5v1.5h-1.5zM153.2 116.2h1.5v1.5h-1.5zM166.1 133.4h1.5v1.5h-1.5zM155.7 120.2h1.5v1.5h-1.5zM163.2 141.5h1.5v1.5h-1.5zM156.1 123.9h1.5v1.5h-1.5zM152.9 120.3h1.5v1.5h-1.5zM153.6 120h1.5v1.5h-1.5zM153.2 117.4h1.5v1.5h-1.5zM151.1 122.8h1.5v1.5h-1.5zM154.1 119.8h1.5v1.5h-1.5zM165.9 137.6h1.5v1.5h-1.5zM166 129.8h1.5v1.5h-1.5zM165.3 139.5h1.5v1.5h-1.5zM158.1 130.7h1.5v1.5h-1.5zM165.9 130.7h1.5v1.5h-1.5zM161.1 139.5h1.5v1.5h-1.5zM156.4 118.5h1.5v1.5h-1.5zM158.6 128.8h1.5v1.5h-1.5zM153.2 121.2h1.5v1.5h-1.5zM151.8 120.8h1.5v1.5h-1.5zM159.9 136.9h1.5v1.5h-1.5zM165 139.5h1.5v1.5h-1.5zM157.6 128.5h1.5v1.5h-1.5zM155.3 115h1.5v1.5h-1.5zM156.3 124.9h1.5v1.5h-1.5zM158.9 132.2h1.5v1.5h-1.5zM165.5 139.1h1.5v1.5h-1.5zM166.8 136.5h1.5v1.5h-1.5zM165.4 135.1h1.5v1.5h-1.5zM154.3 117.3h1.5v1.5h-1.5zM155.5 122.2h1.5v1.5h-1.5zM154.2 117.7h1.5v1.5h-1.5zM167 113.5h1.5v1.5h-1.5zM155.6 113.9h1.5v1.5h-1.5zM151.8 120.6h1.5v1.5h-1.5zM164 139.8h1.5v1.5h-1.5zM153.2 122.4h1.5v1.5h-1.5zM164.4 138.2h1.5v1.5h-1.5zM153.9 117.9h1.5v1.5h-1.5zM165.7 138.2h1.5v1.5h-1.5zM160.2 138h1.5v1.5h-1.5zM153.8 114.3h1.5v1.5h-1.5zM162.4 141.4h1.5v1.5h-1.5zM152.2 124.8h1.5v1.5h-1.5zM160.8 138h1.5v1.5h-1.5zM155.3 122h1.5v1.5h-1.5zM160.8 135.8h1.5v1.5h-1.5zM164 137.8h1.5v1.5h-1.5zM154.2 119.4h1.5v1.5h-1.5zM162.8 139.9h1.5v1.5h-1.5zM162.6 142h1.5v1.5h-1.5zM164 139.8h1.5v1.5h-1.5zM164.5 132.7h1.5v1.5h-1.5zM158.9 133.9h1.5v1.5h-1.5zM165.6 136.5h1.5v1.5h-1.5zM165 139.4h1.5v1.5h-1.5zM153.5 119.4h1.5v1.5h-1.5zM160.5 140.1h1.5v1.5h-1.5zM159.3 133h1.5v1.5h-1.5zM159.3 134.8h1.5v1.5h-1.5zM162.5 135h1.5v1.5h-1.5zM164.9 139.3h1.5v1.5h-1.5zM162.4 140.2h1.5v1.5h-1.5zM163.1 141.7h1.5v1.5h-1.5zM165 127.5h1.5v1.5h-1.5zM158.9 131h1.5v1.5h-1.5zM159.5 132.9h1.5v1.5h-1.5zM151.2 113.1h1.5v1.5h-1.5zM154.5 119.8h1.5v1.5h-1.5zM152.6 122.9h1.5v1.5h-1.5zM164.1 141.4h1.5v1.5h-1.5zM152.5 119.2h1.5v1.5h-1.5zM154.1 119.9h1.5v1.5h-1.5zM160.6 136.7h1.5v1.5h-1.5zM159.4 130.5h1.5v1.5h-1.5zM152.6 115.4h1.5v1.5h-1.5zM162.5 142.1h1.5v1.5h-1.5zM152.9 114h1.4v1.4h-1.4zM159 123.2h1.4v1.4h-1.4zM152.9 114.5h1.4v1.4h-1.4zM153.1 113.3h1.4v1.4h-1.4zM164.8 131.1h1.4v1.4h-1.4zM160.2 116.7h1.4v1.4h-1.4z"/>
<path fill="#f28226" d="M168.4 177.6 L168.4 135.4 L168.9 133.8 L169.4 134.3 L169.9 136.8 L170.4 141.9 L170.9 138.8 L171.4 141.6 L171.9 140.8 L172.4 139.5 L172.9 141.5 L173.4 142.1 L173.9 142.2 L174.4 144.7 L174.9 143.3 L175.4 142.1 L175.9 142.6 L176.4 141.5 L176.9 143.7 L177.4 142.1 L177.9 143 L178.4 145 L178.9 142 L179.4 139.7 L179.9 139.4 L180.4 139.5 L180.9 136.1 L181.4 136.9 L181.9 133.8 L182.4 131.6 L182.9 130.7 L183.4 131.1 L183.9 131.1 L184.4 128.3 L184.9 126.5 L185.4 126.7 L185.9 130.5 L186.2 177.6 Z"/>
<path fill="#f28226" d="M178.6 138.3h1.5v1.5h-1.5zM179.2 139.9h1.5v1.5h-1.5zM180.2 135.9h1.5v1.5h-1.5zM177.6 139.2h1.5v1.5h-1.5zM176.3 143.5h1.5v1.5h-1.5zM172.6 141h1.5v1.5h-1.5zM177 142h1.5v1.5h-1.5zM178.2 142.4h1.5v1.5h-1.5zM174.4 136.1h1.5v1.5h-1.5zM172.6 138.5h1.5v1.5h-1.5zM176.7 143.1h1.5v1.5h-1.5zM184.7 129.5h1.5v1.5h-1.5zM181.2 135.5h1.5v1.5h-1.5zM169.8 130.3h1.5v1.5h-1.5zM175.8 145.5h1.5v1.5h-1.5zM175 142.9h1.5v1.5h-1.5zM180.6 137.1h1.5v1.5h-1.5zM172.3 128h1.5v1.5h-1.5zM180.7 136.8h1.5v1.5h-1.5zM174.2 142.4h1.5v1.5h-1.5zM179.6 135.8h1.5v1.5h-1.5zM182.5 125.9h1.5v1.5h-1.5zM177.1 138.2h1.5v1.5h-1.5zM180.7 131.2h1.5v1.5h-1.5zM176.4 138.3h1.5v1.5h-1.5zM180.2 128h1.5v1.5h-1.5zM170.8 131.3h1.5v1.5h-1.5zM168.8 132h1.5v1.5h-1.5zM178.2 139.5h1.5v1.5h-1.5zM184.3 127.7h1.5v1.5h-1.5zM175.5 139.5h1.5v1.5h-1.5zM182.8 128.7h1.5v1.5h-1.5zM174.8 142.6h1.5v1.5h-1.5zM176.1 139.8h1.5v1.5h-1.5zM173.4 141.1h1.5v1.5h-1.5zM177.7 141h1.5v1.5h-1.5zM173.9 137.3h1.5v1.5h-1.5zM182.5 130.3h1.5v1.5h-1.5zM175.9 144.8h1.5v1.5h-1.5zM173.6 142.8h1.5v1.5h-1.5zM178 138.9h1.5v1.5h-1.5zM170.1 128.6h1.5v1.5h-1.5zM173.9 136h1.5v1.5h-1.5zM182.3 120h1.5v1.5h-1.5zM172 138.9h1.5v1.5h-1.5zM183.5 132.1h1.5v1.5h-1.5zM169.5 135.3h1.5v1.5h-1.5zM176.8 133.5h1.5v1.5h-1.5zM181.2 132.9h1.5v1.5h-1.5zM184.9 127.7h1.5v1.5h-1.5zM177.1 139h1.5v1.5h-1.5zM175 143.5h1.5v1.5h-1.5zM178.3 140.4h1.5v1.5h-1.5zM184.1 126.7h1.5v1.5h-1.5zM177.2 143.4h1.5v1.5h-1.5zM174.8 142.9h1.5v1.5h-1.5zM177.8 139.3h1.5v1.5h-1.5zM183 118.3h1.5v1.5h-1.5zM176.6 142.2h1.5v1.5h-1.5zM177.3 136.4h1.5v1.5h-1.5zM171.5 139.1h1.5v1.5h-1.5zM184.6 123.6h1.5v1.5h-1.5zM177 143.6h1.5v1.5h-1.5zM183.2 127.4h1.5v1.5h-1.5zM182 120.1h1.5v1.5h-1.5zM171.2 139h1.5v1.5h-1.5zM177 141.1h1.5v1.5h-1.5zM171.7 140.1h1.5v1.5h-1.5zM178.9 137.5h1.5v1.5h-1.5zM174.4 122.8h1.5v1.5h-1.5zM179 141.1h1.5v1.5h-1.5zM175.4 139.3h1.5v1.5h-1.5zM173.7 138.5h1.5v1.5h-1.5zM168.8 136.7h1.5v1.5h-1.5zM182.3 129.8h1.5v1.5h-1.5zM179.5 139.2h1.5v1.5h-1.5zM176.8 141h1.5v1.5h-1.5zM173 138.2h1.5v1.5h-1.5zM177.3 118.5h1.5v1.5h-1.5zM178 140.4h1.5v1.5h-1.5zM170.7 139.3h1.5v1.5h-1.5zM181 136.2h1.5v1.5h-1.5zM170.3 138.9h1.5v1.5h-1.5zM177.2 136.4h1.5v1.5h-1.5zM178.6 134.7h1.5v1.5h-1.5zM169.7 139h1.5v1.5h-1.5zM181.2 134.6h1.5v1.5h-1.5zM180.3 136.5h1.5v1.5h-1.5zM171.4 139.4h1.5v1.5h-1.5zM170.3 129.6h1.5v1.5h-1.5zM178.1 140.7h1.5v1.5h-1.5zM176 143.4h1.5v1.5h-1.5zM169.6 129.5h1.5v1.5h-1.5zM178.1 128.7h1.5v1.5h-1.5zM175.8 125h1.4v1.4h-1.4zM172.7 134.8h1.4v1.4h-1.4zM183.8 117.7h1.4v1.4h-1.4zM173.8 118.5h1.4v1.4h-1.4zM181.9 124.4h1.4v1.4h-1.4zM178.5 117.1h1.4v1.4h-1.4z"/>
<path fill="#c5b2da" d="M186.2 177.6 L186.2 139 L186.7 136.3 L187.2 133.7 L187.7 132.8 L188.2 132.4 L188.7 132.3 L189.2 132.6 L189.7 129.9 L190.2 133.5 L190.7 131.9 L191.2 132.5 L191.7 130.6 L192.2 133.3 L192.7 131.2 L193.2 131.5 L193.7 133.3 L194.2 134 L194.7 135 L195.2 135.3 L195.7 135.9 L196.2 134.7 L196.7 134.9 L197.2 133.8 L197.7 133.5 L198.2 135.4 L198.7 136.2 L199.2 135.5 L199.7 136.9 L200.2 137.7 L200.7 138.4 L201.2 140.8 L201.7 141.6 L202.2 141.1 L202.7 139.7 L203.1 177.6 Z"/>
<path fill="#c5b2da" d="M195.2 133.2h1.5v1.5h-1.5zM192.5 133.1h1.5v1.5h-1.5zM189.2 124.3h1.5v1.5h-1.5zM191.4 128.3h1.5v1.5h-1.5zM188.2 129.9h1.5v1.5h-1.5zM192 130.3h1.5v1.5h-1.5zM191 132.5h1.5v1.5h-1.5zM191.3 131.8h1.5v1.5h-1.5zM188.4 127.8h1.5v1.5h-1.5zM190.8 130.5h1.5v1.5h-1.5zM200.4 133.3h1.5v1.5h-1.5zM200 130.6h1.5v1.5h-1.5zM188.5 131.7h1.5v1.5h-1.5zM187 129.8h1.5v1.5h-1.5zM196.7 133.8h1.5v1.5h-1.5zM192.8 129h1.5v1.5h-1.5zM197.2 135h1.5v1.5h-1.5zM199.5 136.6h1.5v1.5h-1.5zM196.1 134.4h1.5v1.5h-1.5zM188.3 122.9h1.5v1.5h-1.5zM197.7 131.4h1.5v1.5h-1.5zM187.1 134.3h1.5v1.5h-1.5zM189 131.7h1.5v1.5h-1.5zM191.1 130.8h1.5v1.5h-1.5zM187.1 132.9h1.5v1.5h-1.5zM196.3 134.5h1.5v1.5h-1.5zM199.3 134.7h1.5v1.5h-1.5zM197.5 135.2h1.5v1.5h-1.5zM193.2 128.9h1.5v1.5h-1.5zM191.8 133.2h1.5v1.5h-1.5zM199.3 131.8h1.5v1.5h-1.5zM190.9 132.5h1.5v1.5h-1.5zM199.6 134.5h1.5v1.5h-1.5zM187.2 133.2h1.5v1.5h-1.5zM188.2 126.7h1.5v1.5h-1.5zM189.7 121.6h1.5v1.5h-1.5zM198 136.6h1.5v1.5h-1.5zM197.1 134h1.5v1.5h-1.5zM197.9 129.4h1.5v1.5h-1.5zM190.8 132.3h1.5v1.5h-1.5zM201 138.2h1.5v1.5h-1.5zM200.7 135.1h1.5v1.5h-1.5zM197.8 129.2h1.5v1.5h-1.5zM196.1 132.7h1.5v1.5h-1.5zM187.3 129.1h1.5v1.5h-1.5zM193.1 130.7h1.5v1.5h-1.5zM200.7 139.6h1.5v1.5h-1.5zM198.2 137h1.5v1.5h-1.5zM197.3 129.2h1.5v1.5h-1.5zM190.5 129.1h1.5v1.5h-1.5zM201.3 136.7h1.5v1.5h-1.5zM194.8 133.4h1.5v1.5h-1.5zM187.4 132.3h1.5v1.5h-1.5zM192.8 132.7h1.5v1.5h-1.5zM191.3 132.3h1.5v1.5h-1.5zM197.3 131.6h1.5v1.5h-1.5zM190.1 131.2h1.5v1.5h-1.5zM194.4 131.9h1.5v1.5h-1.5zM200.8 138.5h1.5v1.5h-1.5zM191.1 123.5h1.5v1.5h-1.5zM188.7 129.4h1.5v1.5h-1.5zM191.6 125.8h1.5v1.5h-1.5zM194.9 128.5h1.5v1.5h-1.5zM189.1 127.8h1.5v1.5h-1.5zM195.7 132.4h1.5v1.5h-1.5zM198.2 129.6h1.5v1.5h-1.5zM188.3 131.9h1.5v1.5h-1.5zM192 132.3h1.5v1.5h-1.5zM187.4 132.8h1.5v1.5h-1.5zM189.5 126.9h1.5v1.5h-1.5zM193.4 133.4h1.5v1.5h-1.5zM191.5 130.3h1.5v1.5h-1.5zM192.1 132.5h1.5v1.5h-1.5zM187.6 134h1.5v1.5h-1.5zM201.7 135.6h1.5v1.5h-1.5zM187.8 128.4h1.5v1.5h-1.5zM201.5 137.7h1.5v1.5h-1.5zM188.2 130.6h1.5v1.5h-1.5zM193.1 132.9h1.5v1.5h-1.5zM194.8 134.6h1.5v1.5h-1.5zM200.6 135.5h1.5v1.5h-1.5zM196.1 123.5h1.5v1.5h-1.5zM196.5 134.3h1.5v1.5h-1.5zM190.3 131.8h1.5v1.5h-1.5zM186.9 128.3h1.5v1.5h-1.5zM199.3 136.8h1.5v1.5h-1.5zM189.3 127.9h1.5v1.5h-1.5zM199.4 127.2h1.5v1.5h-1.5zM189.1 126h1.5v1.5h-1.5zM199.2 132.4h1.5v1.5h-1.5zM191.5 132.1h1.5v1.5h-1.5zM199.1 136.5h1.5v1.5h-1.5zM192.1 129.9h1.5v1.5h-1.5zM192.1 125.7h1.5v1.5h-1.5zM190.2 132.2h1.5v1.5h-1.5zM195.2 116.6h1.4v1.4h-1.4zM199 116.1h1.4v1.4h-1.4zM200.3 111h1.4v1.4h-1.4zM194.1 118.7h1.4v1.4h-1.4zM188.9 121.2h1.4v1.4h-1.4zM195.4 126.8h1.4v1.4h-1.4z"/>
<path fill="#a9d3e3" d="M203.1 177.6 L203.1 151.6 L203.6 151.7 L204.1 154.7 L204.6 151.7 L205.1 150.3 L205.6 151.3 L206.1 150.8 L206.6 149.5 L207.1 149.1 L207.6 147.6 L208.1 144.2 L208.6 147.3 L209.1 144.8 L209.6 145.5 L210.1 142.4 L210.6 136 L211.1 137.4 L211.6 134.3 L212.1 131.3 L212.6 127.3 L213.1 129.6 L213.6 131.4 L214.1 130.9 L214.6 131.6 L215.1 133 L215.6 131.8 L216.1 134 L216.6 133.2 L217.1 131.9 L217.6 129.7 L218.1 128 L218.6 125.7 L219.1 122.7 L219.2 177.6 Z"/>
<path fill="#a9d3e3" d="M215.9 133.2h1.5v1.5h-1.5zM204.8 148.7h1.5v1.5h-1.5zM207 146.7h1.5v1.5h-1.5zM211.4 133.7h1.5v1.5h-1.5zM211.7 132.9h1.5v1.5h-1.5zM210.8 134h1.5v1.5h-1.5zM204.6 149.8h1.5v1.5h-1.5zM204.5 149.6h1.5v1.5h-1.5zM215.9 131h1.5v1.5h-1.5zM213.8 123.9h1.5v1.5h-1.5zM205.1 131.7h1.5v1.5h-1.5zM213.9 129.8h1.5v1.5h-1.5zM215.4 131.3h1.5v1.5h-1.5zM205.9 137.5h1.5v1.5h-1.5zM211.6 127.7h1.5v1.5h-1.5zM205.4 145.2h1.5v1.5h-1.5zM204.2 151h1.5v1.5h-1.5zM208.8 146h1.5v1.5h-1.5zM212 130.7h1.5v1.5h-1.5zM207.7 142.9h1.5v1.5h-1.5zM209.6 134.9h1.5v1.5h-1.5zM212.4 120.9h1.5v1.5h-1.5zM211.6 123.4h1.5v1.5h-1.5zM216 133.7h1.5v1.5h-1.5zM214.2 129.1h1.5v1.5h-1.5zM214.5 126.6h1.5v1.5h-1.5zM215.4 132.8h1.5v1.5h-1.5zM208.8 140.3h1.5v1.5h-1.5zM217.1 126.1h1.5v1.5h-1.5zM204 148.3h1.5v1.5h-1.5zM204.8 148.5h1.5v1.5h-1.5zM215 132.1h1.5v1.5h-1.5zM216.8 127.6h1.5v1.5h-1.5zM207.1 148.6h1.5v1.5h-1.5zM209.9 134.9h1.5v1.5h-1.5zM211.8 132.2h1.5v1.5h-1.5zM203.7 152h1.5v1.5h-1.5zM215 131.7h1.5v1.5h-1.5zM211.4 133.3h1.5v1.5h-1.5zM213.4 127.1h1.5v1.5h-1.5zM205.5 142.6h1.5v1.5h-1.5zM211.2 130.9h1.5v1.5h-1.5zM215.1 120h1.5v1.5h-1.5zM203.6 150.7h1.5v1.5h-1.5zM205.6 148.5h1.5v1.5h-1.5zM216.1 127.4h1.5v1.5h-1.5zM203.9 151.5h1.5v1.5h-1.5zM215.3 128.2h1.5v1.5h-1.5zM209.1 142.6h1.5v1.5h-1.5zM205.7 143.4h1.5v1.5h-1.5zM209.1 136.5h1.5v1.5h-1.5zM212.3 130.2h1.5v1.5h-1.5zM208.2 146.3h1.5v1.5h-1.5zM216.4 129.8h1.5v1.5h-1.5zM204 151.5h1.5v1.5h-1.5zM208.6 143.6h1.5v1.5h-1.5zM211.8 130.9h1.5v1.5h-1.5zM208.5 146.6h1.5v1.5h-1.5zM211.8 131.1h1.5v1.5h-1.5zM203.7 149.8h1.5v1.5h-1.5zM217.7 129.9h1.5v1.5h-1.5zM205.5 146.8h1.5v1.5h-1.5zM207.4 147.6h1.5v1.5h-1.5zM210.7 137.5h1.5v1.5h-1.5zM211.6 130.4h1.5v1.5h-1.5zM211.5 127.9h1.5v1.5h-1.5zM216 128h1.5v1.5h-1.5zM212.6 124.5h1.5v1.5h-1.5zM208.7 144.9h1.5v1.5h-1.5zM214.9 123.5h1.5v1.5h-1.5zM217 127h1.5v1.5h-1.5zM207.8 141.9h1.5v1.5h-1.5zM214.1 127.7h1.5v1.5h-1.5zM212.6 126.9h1.5v1.5h-1.5zM211.4 132.8h1.5v1.5h-1.5zM204.3 150.4h1.5v1.5h-1.5zM208.1 128.3h1.5v1.5h-1.5zM210.4 138.2h1.5v1.5h-1.5zM206.9 148.7h1.5v1.5h-1.5zM208.5 146.1h1.5v1.5h-1.5zM203.5 143.8h1.5v1.5h-1.5zM210 139.8h1.5v1.5h-1.5zM211.6 132.1h1.5v1.5h-1.5zM205.8 151.1h1.5v1.5h-1.5zM207.8 146.5h1.5v1.5h-1.5zM213.9 126.9h1.5v1.5h-1.5zM217 130.2h1.5v1.5h-1.5zM216.8 128.8h1.5v1.5h-1.5zM204.6 151.2h1.5v1.5h-1.5zM211.8 114h1.5v1.5h-1.5zM208.6 140.1h1.5v1.5h-1.5zM209.6 135.4h1.5v1.5h-1.5zM204.4 149.3h1.5v1.5h-1.5zM216.4 132h1.5v1.5h-1.5zM207.1 142.1h1.4v1.4h-1.4zM205.8 135.4h1.4v1.4h-1.4zM213.6 120.2h1.4v1.4h-1.4zM209.2 132.8h1.4v1.4h-1.4zM212.1 111.8h1.4v1.4h-1.4zM212.8 119.1h1.4v1.4h-1.4z"/>
<path fill="#4381b6" d="M219.2 177.6 L219.2 142.5 L219.7 143.6 L220.2 145.2 L220.7 142.6 L221.2 141.7 L221.7 139.5 L222.2 141.5 L222.7 140.7 L223.2 138.4 L223.7 139.5 L224.2 137.1 L224.7 137.9 L225.2 141 L225.7 140.2 L226.2 140.8 L226.7 141.5 L227.2 138.5 L227.7 140.5 L228.2 140.6 L228.7 141.3 L229.2 140.7 L229.7 138 L230.2 137.4 L230.7 136.5 L231.2 135.9 L231.7 137 L232.2 136.9 L232.7 139.7 L233.2 140.6 L233.7 140.4 L234.2 142.4 L234.7 141.6 L235.1 177.6 Z"/>
<path fill="#4381b6" d="M226.3 137h1.5v1.5h-1.5zM230.6 137.5h1.5v1.5h-1.5zM233.7 140.3h1.5v1.5h-1.5zM230.3 139.1h1.5v1.5h-1.5zM219.9 142h1.5v1.5h-1.5zM220.4 138.9h1.5v1.5h-1.5zM227.4 140.2h1.5v1.5h-1.5zM232.9 138.3h1.5v1.5h-1.5zM221.6 139h1.5v1.5h-1.5zM230 128.7h1.5v1.5h-1.5zM221.8 139.5h1.5v1.5h-1.5zM230.6 138.2h1.5v1.5h-1.5zM233.5 138.3h1.5v1.5h-1.5zM228.6 138.6h1.5v1.5h-1.5zM230.9 136.6h1.5v1.5h-1.5zM224.1 130.5h1.5v1.5h-1.5zM221 135.1h1.5v1.5h-1.5zM220.4 137.3h1.5v1.5h-1.5zM225.2 133.1h1.5v1.5h-1.5zM220.4 138.3h1.5v1.5h-1.5zM225.4 131h1.5v1.5h-1.5zM233 136.2h1.5v1.5h-1.5zM222.7 137.8h1.5v1.5h-1.5zM223.3 137.2h1.5v1.5h-1.5zM222.8 138.2h1.5v1.5h-1.5zM230.4 135.1h1.5v1.5h-1.5zM223.8 117.9h1.5v1.5h-1.5zM222.6 135.3h1.5v1.5h-1.5zM221.7 131.1h1.5v1.5h-1.5zM231.9 137.4h1.5v1.5h-1.5zM230.2 132.1h1.5v1.5h-1.5zM223.5 138.2h1.5v1.5h-1.5zM226.4 132h1.5v1.5h-1.5zM221.8 134.7h1.5v1.5h-1.5zM228 138.1h1.5v1.5h-1.5zM227.8 131.6h1.5v1.5h-1.5zM222.5 129.6h1.5v1.5h-1.5zM224.7 134.6h1.5v1.5h-1.5zM231.8 137.9h1.5v1.5h-1.5zM219.8 142.1h1.5v1.5h-1.5zM233.4 141h1.5v1.5h-1.5zM232.5 139h1.5v1.5h-1.5zM230 139.3h1.5v1.5h-1.5zM221.9 134.5h1.5v1.5h-1.5zM220.8 139.4h1.5v1.5h-1.5zM232.6 134.4h1.5v1.5h-1.5zM232.1 122.2h1.5v1.5h-1.5zM220 141.3h1.5v1.5h-1.5zM230.8 134.2h1.5v1.5h-1.5zM220 139.3h1.5v1.5h-1.5zM222.8 136.7h1.5v1.5h-1.5zM221 140.8h1.5v1.5h-1.5zM233.7 139.8h1.5v1.5h-1.5zM232.1 138.4h1.5v1.5h-1.5zM226.5 140.9h1.5v1.5h-1.5zM225.6 141.1h1.5v1.5h-1.5zM229.3 139.4h1.5v1.5h-1.5zM230.1 136.7h1.5v1.5h-1.5zM221.1 138.8h1.5v1.5h-1.5zM226.6 130.7h1.5v1.5h-1.5zM224.5 139.9h1.5v1.5h-1.5zM233.3 131.7h1.5v1.5h-1.5zM230 138.4h1.5v1.5h-1.5zM222 137.9h1.5v1.5h-1.5zM220.5 141.5h1.5v1.5h-1.5zM226.8 139.1h1.5v1.5h-1.5zM227.5 139.1h1.5v1.5h-1.5zM219.7 138h1.5v1.5h-1.5zM228.8 136.9h1.5v1.5h-1.5zM227.3 136h1.5v1.5h-1.5zM233.5 132.3h1.5v1.5h-1.5zM229.8 137.6h1.5v1.5h-1.5zM224.1 138.1h1.5v1.5h-1.5zM233.4 138.9h1.5v1.5h-1.5zM225 139.2h1.5v1.5h-1.5zM228.2 129.4h1.5v1.5h-1.5zM223.1 135.4h1.5v1.5h-1.5zM224.9 140.1h1.5v1.5h-1.5zM222.3 138.2h1.5v1.5h-1.5zM231.6 132.3h1.5v1.5h-1.5zM232.5 139.4h1.5v1.5h-1.5zM229.4 138.3h1.5v1.5h-1.5zM228.7 136.9h1.5v1.5h-1.5zM224 125.1h1.5v1.5h-1.5zM219.5 137.3h1.5v1.5h-1.5zM231.7 135.7h1.5v1.5h-1.5zM228 118.2h1.5v1.5h-1.5zM222.9 134.9h1.5v1.5h-1.5zM230.1 137.6h1.5v1.5h-1.5zM229.7 137.7h1.5v1.5h-1.5zM227 137.2h1.5v1.5h-1.5zM229.2 138.5h1.5v1.5h-1.5zM228.5 137.1h1.5v1.5h-1.5zM222.7 121.6h1.4v1.4h-1.4zM223.3 116.4h1.4v1.4h-1.4zM226.3 120.4h1.4v1.4h-1.4zM227 125.2h1.4v1.4h-1.4zM222.7 129.9h1.4v1.4h-1.4zM232.8 123.5h1.4v1.4h-1.4z"/>
<path fill="#bcea8a" d="M235.1 177.6 L235.1 139.2 L235.6 140.4 L236.1 138.5 L236.6 137.1 L237.1 137 L237.6 134.3 L238.1 131.4 L238.6 134.6 L239.1 132.3 L239.6 129.2 L240.1 132.7 L240.6 130.1 L241.1 128 L241.6 129.9 L242.1 126.4 L242.6 126.3 L243.1 125.9 L243.6 126.3 L244.1 124.3 L244.6 123.3 L245.1 125.9 L245.6 127 L246.1 130 L246.6 131.8 L247.1 132.9 L247.6 138.7 L248.1 133.8 L248.6 136 L249.1 137.9 L249.6 141.7 L250.1 140.4 L250.6 140.3 L250.8 177.6 Z"/>
<path fill="#bcea8a" d="M246.8 130.5h1.5v1.5h-1.5zM240.8 125.4h1.5v1.5h-1.5zM248.4 135.3h1.5v1.5h-1.5zM249.1 132.2h1.5v1.5h-1.5zM240.7 124.8h1.5v1.5h-1.5zM240 130.4h1.5v1.5h-1.5zM246.1 128.3h1.5v1.5h-1.5zM242.8 124.2h1.5v1.5h-1.5zM248.1 129.4h1.5v1.5h-1.5zM235.8 134.6h1.5v1.5h-1.5zM241.9 125h1.5v1.5h-1.5zM247.2 131.2h1.5v1.5h-1.5zM242.1 118.1h1.5v1.5h-1.5zM241.6 124.9h1.5v1.5h-1.5zM242.6 119.8h1.5v1.5h-1.5zM244.9 121.4h1.5v1.5h-1.5zM241.1 128.4h1.5v1.5h-1.5zM245 124h1.5v1.5h-1.5zM246.2 124.5h1.5v1.5h-1.5zM237.1 135.4h1.5v1.5h-1.5zM236.5 130h1.5v1.5h-1.5zM236.8 136.4h1.5v1.5h-1.5zM246 126.7h1.5v1.5h-1.5zM236.2 132.9h1.5v1.5h-1.5zM245.4 125.8h1.5v1.5h-1.5zM236.2 132.8h1.5v1.5h-1.5zM241.3 124.4h1.5v1.5h-1.5zM249.5 131.1h1.5v1.5h-1.5zM247.7 134h1.5v1.5h-1.5zM240.1 127.5h1.5v1.5h-1.5zM235.5 119.6h1.5v1.5h-1.5zM239.3 131.1h1.5v1.5h-1.5zM239.8 130h1.5v1.5h-1.5zM247.5 130.7h1.5v1.5h-1.5zM242.6 125h1.5v1.5h-1.5zM236.1 136.4h1.5v1.5h-1.5zM247.6 127.5h1.5v1.5h-1.5zM247.5 132.8h1.5v1.5h-1.5zM238.2 134.3h1.5v1.5h-1.5zM243 125.1h1.5v1.5h-1.5zM241.9 124.8h1.5v1.5h-1.5zM243.6 124.8h1.5v1.5h-1.5zM246.7 131.1h1.5v1.5h-1.5zM248.4 132.6h1.5v1.5h-1.5zM236.1 136.3h1.5v1.5h-1.5zM242.9 124.9h1.5v1.5h-1.5zM243.4 125.2h1.5v1.5h-1.5zM239.3 125.6h1.5v1.5h-1.5zM239.5 126.6h1.5v1.5h-1.5zM246.7 128.2h1.5v1.5h-1.5zM247.8 134.6h1.5v1.5h-1.5zM241.5 123.5h1.5v1.5h-1.5zM236.1 129.4h1.5v1.5h-1.5zM236.4 133.6h1.5v1.5h-1.5zM237.9 124h1.5v1.5h-1.5zM243.3 120h1.5v1.5h-1.5zM242.4 122.6h1.5v1.5h-1.5zM244.9 125.8h1.5v1.5h-1.5zM238.4 126.4h1.5v1.5h-1.5zM237.5 125.1h1.5v1.5h-1.5zM238.3 133.9h1.5v1.5h-1.5zM236.7 130.3h1.5v1.5h-1.5zM248.8 134.7h1.5v1.5h-1.5zM244.7 125.5h1.5v1.5h-1.5zM248.2 130.7h1.5v1.5h-1.5zM237.6 135.4h1.5v1.5h-1.5zM245.2 127.9h1.5v1.5h-1.5zM247.2 131.8h1.5v1.5h-1.5zM238.7 129.9h1.5v1.5h-1.5zM239.9 127.5h1.5v1.5h-1.5zM237.6 125.2h1.5v1.5h-1.5zM240 123h1.5v1.5h-1.5zM237.5 128.8h1.5v1.5h-1.5zM249.2 135.7h1.5v1.5h-1.5zM235.9 136.3h1.5v1.5h-1.5zM244.4 125.3h1.5v1.5h-1.5zM243.1 126.6h1.5v1.5h-1.5zM241.9 122h1.5v1.5h-1.5zM241.5 123h1.5v1.5h-1.5zM237 128.9h1.5v1.5h-1.5zM237.1 125.3h1.5v1.5h-1.5zM249.4 126.3h1.5v1.5h-1.5zM242.8 125.7h1.5v1.5h-1.5zM240.3 124.2h1.5v1.5h-1.5zM242.2 118.9h1.5v1.5h-1.5zM243.8 123.3h1.5v1.5h-1.5zM236.6 136.4h1.5v1.5h-1.5zM239.2 122.9h1.5v1.5h-1.5zM247.3 132.6h1.5v1.5h-1.5zM248.4 136.1h1.5v1.5h-1.5zM248.7 132.2h1.5v1.5h-1.5zM236.1 136.2h1.5v1.5h-1.5zM241.7 119.5h1.4v1.4h-1.4zM245.9 121.7h1.4v1.4h-1.4zM246.5 121.9h1.4v1.4h-1.4zM236.4 121.8h1.4v1.4h-1.4zM236.7 121.7h1.4v1.4h-1.4zM246.5 118.8h1.4v1.4h-1.4z"/>
<path fill="#4fad3a" d="M250.8 177.6 L250.8 123.2 L251.3 124.1 L251.8 124.3 L252.3 125.1 L252.8 124.1 L253.3 125.6 L253.8 125.6 L254.3 128.9 L254.8 127.6 L255.3 130.1 L255.8 127.6 L256.3 128.6 L256.8 128.7 L257.3 129.8 L257.8 130.9 L258.3 131.5 L258.8 135.5 L259.3 136.9 L259.8 136 L260.3 133.5 L260.8 133.9 L261.3 133.4 L261.8 135.7 L262.3 137.2 L262.8 138.9 L263.3 139.5 L263.8 138.8 L264.3 140.8 L264.8 141.8 L265.3 141.8 L265.8 139.9 L266.1 177.6 Z"/>
<path fill="#4fad3a" d="M264.6 140.2h1.5v1.5h-1.5zM259.6 130.5h1.5v1.5h-1.5zM262.3 136.9h1.5v1.5h-1.5zM262.2 136h1.5v1.5h-1.5zM263.7 139.9h1.5v1.5h-1.5zM264 137.8h1.5v1.5h-1.5zM256.7 130.5h1.5v1.5h-1.5zM254.5 121.6h1.5v1.5h-1.5zM260.4 136h1.5v1.5h-1.5zM255.8 128.8h1.5v1.5h-1.5zM253.8 125.2h1.5v1.5h-1.5zM255.6 123.6h1.5v1.5h-1.5zM257.7 129.5h1.5v1.5h-1.5zM261.8 127.9h1.5v1.5h-1.5zM261.4 133.4h1.5v1.5h-1.5zM253.8 122h1.5v1.5h-1.5zM262.7 132.5h1.5v1.5h-1.5zM261.3 137h1.5v1.5h-1.5zM262.4 127h1.5v1.5h-1.5zM263.5 133.9h1.5v1.5h-1.5zM262.5 132h1.5v1.5h-1.5zM259.2 132.5h1.5v1.5h-1.5zM262.4 132.2h1.5v1.5h-1.5zM263 138h1.5v1.5h-1.5zM264.3 136.9h1.5v1.5h-1.5zM264.1 139.6h1.5v1.5h-1.5zM264.4 133.6h1.5v1.5h-1.5zM253.8 123.6h1.5v1.5h-1.5zM254.3 124.2h1.5v1.5h-1.5zM263.5 134.8h1.5v1.5h-1.5zM260.8 135h1.5v1.5h-1.5zM261.8 131.4h1.5v1.5h-1.5zM260.5 124.5h1.5v1.5h-1.5zM262.4 136.6h1.5v1.5h-1.5zM252.3 120.1h1.5v1.5h-1.5zM262.6 137.2h1.5v1.5h-1.5zM259.2 127.3h1.5v1.5h-1.5zM262 138.4h1.5v1.5h-1.5zM257.8 132.6h1.5v1.5h-1.5zM259.4 132.6h1.5v1.5h-1.5zM255.7 128.2h1.5v1.5h-1.5zM255.9 121.7h1.5v1.5h-1.5zM259.6 134.1h1.5v1.5h-1.5zM252.3 123.3h1.5v1.5h-1.5zM260.7 134.5h1.5v1.5h-1.5zM260.2 129.3h1.5v1.5h-1.5zM252.8 120.2h1.5v1.5h-1.5zM263.3 137.5h1.5v1.5h-1.5zM264.6 139.5h1.5v1.5h-1.5zM262.5 138.2h1.5v1.5h-1.5zM258.3 133.5h1.5v1.5h-1.5zM262.2 137.4h1.5v1.5h-1.5zM255.9 129.2h1.5v1.5h-1.5zM258.7 125.6h1.5v1.5h-1.5zM258.1 131.2h1.5v1.5h-1.5zM263.8 130.3h1.5v1.5h-1.5zM260.2 136.2h1.5v1.5h-1.5zM259.6 133.2h1.5v1.5h-1.5zM264.2 138.2h1.5v1.5h-1.5zM260.2 132.1h1.5v1.5h-1.5zM256.2 127h1.5v1.5h-1.5zM260.4 126.4h1.5v1.5h-1.5zM257.9 130.9h1.5v1.5h-1.5zM264.5 140.1h1.5v1.5h-1.5zM262.5 134h1.5v1.5h-1.5zM258.7 131.7h1.5v1.5h-1.5zM261.4 128.2h1.5v1.5h-1.5zM261.1 131.5h1.5v1.5h-1.5zM251.6 122.1h1.5v1.5h-1.5zM253 120.4h1.5v1.5h-1.5zM259.1 131.2h1.5v1.5h-1.5zM251.7 121.9h1.5v1.5h-1.5zM261.3 133.3h1.5v1.5h-1.5zM254.9 121.9h1.5v1.5h-1.5zM255.1 124.9h1.5v1.5h-1.5zM262.1 133.7h1.5v1.5h-1.5zM256.3 123.1h1.5v1.5h-1.5zM254.9 127.2h1.5v1.5h-1.5zM259 127.1h1.5v1.5h-1.5zM262 136.5h1.5v1.5h-1.5zM253 122.3h1.5v1.5h-1.5zM263.1 138.8h1.5v1.5h-1.5zM261.2 136.8h1.5v1.5h-1.5zM255.4 128.5h1.5v1.5h-1.5zM255.2 126.4h1.5v1.5h-1.5zM264.3 118.6h1.4v1.4h-1.4zM253.7 119h1.4v1.4h-1.4zM264 130.4h1.4v1.4h-1.4zM255.5 120.4h1.4v1.4h-1.4zM252.6 118.2h1.4v1.4h-1.4zM256.5 121.7h1.4v1.4h-1.4z"/>
<path fill="#ec9a9a" d="M266.1 177.6 L266.1 143.7 L266.6 144.1 L267.1 143.4 L267.6 139.5 L268.1 144.9 L268.6 142.7 L269.1 143.4 L269.6 143.3 L270.1 142.2 L270.6 139.6 L271.1 138.6 L271.6 140.3 L272.1 139.6 L272.6 138.7 L273.1 138.1 L273.6 138.4 L274.1 138.6 L274.6 135.2 L275.1 137 L275.6 135.3 L276.1 137.4 L276.6 138.7 L277.1 138.7 L277.6 139.4 L278.1 140.7 L278.6 143.3 L279.1 146.2 L279.6 142 L280.1 143.4 L280.6 142.7 L281.1 142.8 L281.6 144.2 L282 177.6 Z"/>
<path fill="#ec9a9a" d="M272.2 134.7h1.5v1.5h-1.5zM270.3 133.2h1.5v1.5h-1.5zM277.7 132.6h1.5v1.5h-1.5zM268.6 138.8h1.5v1.5h-1.5zM277.2 136.5h1.5v1.5h-1.5zM279.2 133.7h1.5v1.5h-1.5zM277 131.7h1.5v1.5h-1.5zM275.7 127.2h1.5v1.5h-1.5zM268.3 138.6h1.5v1.5h-1.5zM276.5 133.9h1.5v1.5h-1.5zM270.3 140.9h1.5v1.5h-1.5zM275 129.1h1.5v1.5h-1.5zM270.3 140.2h1.5v1.5h-1.5zM269.6 141.9h1.5v1.5h-1.5zM276.1 121.3h1.5v1.5h-1.5zM277.9 138.9h1.5v1.5h-1.5zM276.4 137.5h1.5v1.5h-1.5zM278.4 140.3h1.5v1.5h-1.5zM266.4 141.5h1.5v1.5h-1.5zM268.4 142.4h1.5v1.5h-1.5zM267.2 142.4h1.5v1.5h-1.5zM274.3 129.8h1.5v1.5h-1.5zM267 137.7h1.5v1.5h-1.5zM268 143.1h1.5v1.5h-1.5zM275.4 134.6h1.5v1.5h-1.5zM271.1 136.3h1.5v1.5h-1.5zM269.5 135.7h1.5v1.5h-1.5zM269.4 134.8h1.5v1.5h-1.5zM278 137.8h1.5v1.5h-1.5zM266.8 138.9h1.5v1.5h-1.5zM266.8 142.4h1.5v1.5h-1.5zM272.5 137.6h1.5v1.5h-1.5zM275.4 130.8h1.5v1.5h-1.5zM274.8 134.5h1.5v1.5h-1.5zM273.7 133.4h1.5v1.5h-1.5zM269.6 133.6h1.5v1.5h-1.5zM280.6 138.7h1.5v1.5h-1.5zM280.1 143.2h1.5v1.5h-1.5zM280.5 145.2h1.5v1.5h-1.5zM273.2 136.9h1.5v1.5h-1.5zM272.9 132.7h1.5v1.5h-1.5zM276.5 135.5h1.5v1.5h-1.5zM271.3 138.8h1.5v1.5h-1.5zM272.2 136.9h1.5v1.5h-1.5zM269.2 137.2h1.5v1.5h-1.5zM273.8 134.7h1.5v1.5h-1.5zM269.2 137.7h1.5v1.5h-1.5zM269.2 141.6h1.5v1.5h-1.5zM274.4 131.7h1.5v1.5h-1.5zM280.3 139.3h1.5v1.5h-1.5zM280 133.8h1.5v1.5h-1.5zM276.7 133h1.5v1.5h-1.5zM267.3 143.9h1.5v1.5h-1.5zM266.6 137.1h1.5v1.5h-1.5zM276.7 134.2h1.5v1.5h-1.5zM270.2 139.6h1.5v1.5h-1.5zM268.7 139.1h1.5v1.5h-1.5zM280.6 144h1.5v1.5h-1.5zM267 144.4h1.5v1.5h-1.5zM271.5 129.5h1.5v1.5h-1.5zM277.9 138.3h1.5v1.5h-1.5zM267.9 143.8h1.5v1.5h-1.5zM268.6 137.1h1.5v1.5h-1.5zM273.1 117.5h1.5v1.5h-1.5zM279.4 137h1.5v1.5h-1.5zM273.2 130.1h1.5v1.5h-1.5zM268.2 143.4h1.5v1.5h-1.5zM274.5 133.8h1.5v1.5h-1.5zM269.4 141.4h1.5v1.5h-1.5zM266.7 135.2h1.5v1.5h-1.5zM276.6 125.6h1.5v1.5h-1.5zM280.4 142.9h1.5v1.5h-1.5zM276.9 136.7h1.5v1.5h-1.5zM278 133.2h1.5v1.5h-1.5zM268.3 143.8h1.5v1.5h-1.5zM269.5 138.8h1.5v1.5h-1.5zM271.8 138.8h1.5v1.5h-1.5zM278.3 135.1h1.5v1.5h-1.5zM273 137.4h1.5v1.5h-1.5zM279.1 140h1.5v1.5h-1.5zM267.4 143.1h1.5v1.5h-1.5zM275.3 127.1h1.5v1.5h-1.5zM273.3 133h1.5v1.5h-1.5zM269.3 141.5h1.5v1.5h-1.5zM279.4 141.6h1.5v1.5h-1.5zM267.9 140.4h1.5v1.5h-1.5zM268.2 143h1.5v1.5h-1.5zM272.9 133.8h1.5v1.5h-1.5zM275.5 131h1.5v1.5h-1.5zM272.7 137.5h1.5v1.5h-1.5zM276.8 138.3h1.5v1.5h-1.5zM273.1 135.3h1.5v1.5h-1.5zM276 131.6h1.5v1.5h-1.5zM269.8 137.5h1.5v1.5h-1.5zM276.3 134.8h1.5v1.5h-1.5zM268.4 115.2h1.4v1.4h-1.4zM275 128.9h1.4v1.4h-1.4zM269.8 113.3h1.4v1.4h-1.4zM269.7 126.8h1.4v1.4h-1.4zM277.7 116.7h1.4v1.4h-1.4zM275.5 117.4h1.4v1.4h-1.4z"/>
<path fill="#e4262a" d="M282 177.6 L282 141.3 L282.5 140.6 L283 138.6 L283.5 139.9 L284 139.7 L284.5 139.4 L285 140.7 L285.5 138.2 L286 139.2 L286.5 139.2 L287 139.3 L287.5 143.3 L288 141.5 L288.5 142.8 L289 139.8 L289.5 138.3 L290 137.7 L290.5 137.8 L291 132.9 L291.5 134.3 L292 132.3 L292.5 130.3 L293 128.4 L293.5 128.1 L294 127.6 L294.5 129.4 L295 128.3 L295.5 133.5 L296 131.7 L296.5 135.7 L296.8 177.6 Z"/>
<path fill="#e4262a" d="M287.2 142.1h1.5v1.5h-1.5zM292.4 133h1.5v1.5h-1.5zM290.3 123h1.5v1.5h-1.5zM283.3 141.6h1.5v1.5h-1.5zM291.4 131.4h1.5v1.5h-1.5zM289.2 138.4h1.5v1.5h-1.5zM287.7 140.2h1.5v1.5h-1.5zM290.9 125.6h1.5v1.5h-1.5zM292 127.5h1.5v1.5h-1.5zM294.3 124.6h1.5v1.5h-1.5zM291.8 134.6h1.5v1.5h-1.5zM291.3 127.4h1.5v1.5h-1.5zM288 135.3h1.5v1.5h-1.5zM284.7 129h1.5v1.5h-1.5zM288.1 138.6h1.5v1.5h-1.5zM285.6 140.4h1.5v1.5h-1.5zM286.9 141.7h1.5v1.5h-1.5zM283.6 139.5h1.5v1.5h-1.5zM295.2 129.8h1.5v1.5h-1.5zM294.6 126.8h1.5v1.5h-1.5zM293.3 124.3h1.5v1.5h-1.5zM285.6 139.6h1.5v1.5h-1.5zM282.6 141.4h1.5v1.5h-1.5zM292.5 127.1h1.5v1.5h-1.5zM294 124.9h1.5v1.5h-1.5zM289.3 140.1h1.5v1.5h-1.5zM293.2 130.7h1.5v1.5h-1.5zM290.6 135.1h1.5v1.5h-1.5zM289.4 125.9h1.5v1.5h-1.5zM284.4 138.2h1.5v1.5h-1.5zM290.9 132.9h1.5v1.5h-1.5zM294.7 130.9h1.5v1.5h-1.5zM294.4 127.4h1.5v1.5h-1.5zM295.1 133.6h1.5v1.5h-1.5zM285.1 139.9h1.5v1.5h-1.5zM294.3 132.2h1.5v1.5h-1.5zM285.7 136.6h1.5v1.5h-1.5zM295.4 133.8h1.5v1.5h-1.5zM288.1 139.1h1.5v1.5h-1.5zM291.4 129.4h1.5v1.5h-1.5zM292.2 132.7h1.5v1.5h-1.5zM285.7 141.9h1.5v1.5h-1.5zM291.4 134.3h1.5v1.5h-1.5zM285.7 127.7h1.5v1.5h-1.5zM290.8 132.6h1.5v1.5h-1.5zM291 132.2h1.5v1.5h-1.5zM291.5 133.7h1.5v1.5h-1.5zM283.1 141.9h1.5v1.5h-1.5zM282.5 140.6h1.5v1.5h-1.5zM284.2 141.1h1.5v1.5h-1.5zM288.8 127h1.5v1.5h-1.5zM291.4 134h1.5v1.5h-1.5zM292.5 132.7h1.5v1.5h-1.5zM283.6 140.4h1.5v1.5h-1.5zM287.7 139.2h1.5v1.5h-1.5zM288.2 138.2h1.5v1.5h-1.5zM283.6 130.4h1.5v1.5h-1.5zM286.8 135.6h1.5v1.5h-1.5zM282.7 134.9h1.5v1.5h-1.5zM285.3 133.2h1.5v1.5h-1.5zM292.9 128.1h1.5v1.5h-1.5zM286 142.3h1.5v1.5h-1.5zM284.8 131.2h1.5v1.5h-1.5zM284.4 136.9h1.5v1.5h-1.5zM290 133.9h1.5v1.5h-1.5zM284.7 140.7h1.5v1.5h-1.5zM283.6 124.5h1.5v1.5h-1.5zM287.4 139.3h1.5v1.5h-1.5zM289.8 138.1h1.5v1.5h-1.5zM283.2 142.1h1.5v1.5h-1.5zM293.6 131.1h1.5v1.5h-1.5zM295 131.9h1.5v1.5h-1.5zM291.8 134h1.5v1.5h-1.5zM292.7 131.9h1.5v1.5h-1.5zM287.1 140.4h1.5v1.5h-1.5zM283.8 140.6h1.5v1.5h-1.5zM292.8 131.5h1.5v1.5h-1.5zM287.3 137.6h1.5v1.5h-1.5zM285.3 140.6h1.5v1.5h-1.5zM285.2 139.4h1.5v1.5h-1.5zM287.1 139.2h1.5v1.5h-1.5zM288.5 134h1.5v1.5h-1.5zM283 137.6h1.5v1.5h-1.5zM293.3 130.9h1.5v1.5h-1.5zM282.7 140h1.5v1.5h-1.5zM283.8 139.2h1.5v1.5h-1.5zM291.7 134.4h1.5v1.5h-1.5zM283.9 139h1.5v1.5h-1.5zM284.6 140.3h1.5v1.5h-1.5zM288.1 143.4h1.5v1.5h-1.5zM283.2 140.2h1.5v1.5h-1.5zM288.5 131h1.5v1.5h-1.5zM289.6 139.4h1.5v1.5h-1.5zM285.2 135.6h1.5v1.5h-1.5zM289.7 122.8h1.4v1.4h-1.4zM295 122.2h1.4v1.4h-1.4zM283.8 122.1h1.4v1.4h-1.4zM289.2 131.1h1.4v1.4h-1.4zM284.6 123.2h1.4v1.4h-1.4zM285.1 133.6h1.4v1.4h-1.4z"/>
<path fill="#ecb86e" d="M296.8 177.6 L296.8 127.7 L297.3 122 L297.8 126.2 L298.3 124 L298.8 120.8 L299.3 119.1 L299.8 121.5 L300.3 122.8 L300.8 126.8 L301.3 129.4 L301.8 128.5 L302.3 129 L302.8 132.5 L303.3 134.2 L303.8 132.5 L304.3 135.5 L304.8 136.9 L305.3 139.3 L305.8 140.6 L306.3 140.9 L306.8 141.7 L307.3 141.8 L307.8 143 L308.3 143.3 L308.8 142.1 L309.3 143 L309.8 142 L310.3 144.5 L310.8 144.3 L311.2 177.6 Z"/>
<path fill="#ecb86e" d="M309.9 140.2h1.5v1.5h-1.5zM302.3 131.6h1.5v1.5h-1.5zM305.7 139.7h1.5v1.5h-1.5zM301.9 130.7h1.5v1.5h-1.5zM307.7 142.1h1.5v1.5h-1.5zM304.9 137.3h1.5v1.5h-1.5zM302.9 131.6h1.5v1.5h-1.5zM306.2 139.8h1.5v1.5h-1.5zM300.2 123.1h1.5v1.5h-1.5zM309.4 142.1h1.5v1.5h-1.5zM298.9 120h1.5v1.5h-1.5zM304.5 128.6h1.5v1.5h-1.5zM297.8 124.4h1.5v1.5h-1.5zM299.2 118.5h1.5v1.5h-1.5zM302.9 132.9h1.5v1.5h-1.5zM308.5 138.2h1.5v1.5h-1.5zM308.1 129.1h1.5v1.5h-1.5zM300.5 113h1.5v1.5h-1.5zM302.3 133.2h1.5v1.5h-1.5zM308.8 142.4h1.5v1.5h-1.5zM297.3 125.3h1.5v1.5h-1.5zM300.8 111.8h1.5v1.5h-1.5zM308.2 140.4h1.5v1.5h-1.5zM303.9 128.7h1.5v1.5h-1.5zM307.4 137.3h1.5v1.5h-1.5zM303.7 135.9h1.5v1.5h-1.5zM300.2 119.2h1.5v1.5h-1.5zM304.6 131.1h1.5v1.5h-1.5zM308.6 128.7h1.5v1.5h-1.5zM299.6 121.3h1.5v1.5h-1.5zM308.6 139.2h1.5v1.5h-1.5zM299.4 116.9h1.5v1.5h-1.5zM300.4 123.4h1.5v1.5h-1.5zM301.8 127.8h1.5v1.5h-1.5zM305.8 139.6h1.5v1.5h-1.5zM306.6 136.6h1.5v1.5h-1.5zM303.1 130.8h1.5v1.5h-1.5zM307.3 141.7h1.5v1.5h-1.5zM303.2 130.8h1.5v1.5h-1.5zM306.2 135.9h1.5v1.5h-1.5zM299.4 110.9h1.5v1.5h-1.5zM302.6 121h1.5v1.5h-1.5zM299.8 119.4h1.5v1.5h-1.5zM309.4 132.9h1.5v1.5h-1.5zM300.1 117.4h1.5v1.5h-1.5zM301.7 125.9h1.5v1.5h-1.5zM306.9 140.6h1.5v1.5h-1.5zM299.9 121.5h1.5v1.5h-1.5zM300.5 125h1.5v1.5h-1.5zM298.8 121h1.5v1.5h-1.5zM302.5 133.9h1.5v1.5h-1.5zM304.6 125.7h1.5v1.5h-1.5zM304.5 136h1.5v1.5h-1.5zM306.1 137.8h1.5v1.5h-1.5zM299.3 119.3h1.5v1.5h-1.5zM297.3 121.9h1.5v1.5h-1.5zM299.2 120.5h1.5v1.5h-1.5zM309.4 136.6h1.5v1.5h-1.5zM307.8 137.8h1.5v1.5h-1.5zM305.2 133.9h1.5v1.5h-1.5zM309.5 141.9h1.5v1.5h-1.5zM306.9 139.7h1.5v1.5h-1.5zM300.4 117.1h1.5v1.5h-1.5zM304.8 130.3h1.5v1.5h-1.5zM308.3 139h1.5v1.5h-1.5zM299.6 121.4h1.5v1.5h-1.5zM303.9 131.4h1.5v1.5h-1.5zM300.6 125.2h1.5v1.5h-1.5zM297.2 126.3h1.5v1.5h-1.5zM306 140.2h1.5v1.5h-1.5zM300 121.7h1.5v1.5h-1.5zM306.2 121.7h1.5v1.5h-1.5zM297.3 126.2h1.5v1.5h-1.5zM309.1 127.8h1.5v1.5h-1.5zM299 121.1h1.5v1.5h-1.5zM303.8 135h1.5v1.5h-1.5zM302.4 131.2h1.5v1.5h-1.5zM300.4 124.4h1.5v1.5h-1.5zM298.2 124h1.5v1.5h-1.5zM298.3 120.4h1.5v1.5h-1.5zM306 138.9h1.5v1.5h-1.5zM307.2 136h1.5v1.5h-1.5zM301.5 126.7h1.5v1.5h-1.5zM299.5 110.3h1.5v1.5h-1.5zM304.3 137.3h1.5v1.5h-1.5zM299.1 117.7h1.5v1.5h-1.5zM302 126.7h1.5v1.5h-1.5zM300 116.1h1.5v1.5h-1.5zM307.4 141.3h1.5v1.5h-1.5zM304.6 137.2h1.5v1.5h-1.5zM306.2 133.3h1.5v1.5h-1.5zM307.2 140.5h1.5v1.5h-1.5zM298.3 119.8h1.5v1.5h-1.5zM304.3 137h1.5v1.5h-1.5zM299.6 111h1.4v1.4h-1.4zM298.5 111.5h1.4v1.4h-1.4zM300.2 114.7h1.4v1.4h-1.4zM302.5 117.3h1.4v1.4h-1.4zM306.4 133.2h1.4v1.4h-1.4zM306.4 128.3h1.4v1.4h-1.4z"/>
<path fill="#f28226" d="M311.2 177.6 L311.2 144.1 L311.7 142 L312.2 138.2 L312.7 137.6 L313.2 138.7 L313.7 135.2 L314.2 136.1 L314.7 137.2 L315.2 134.5 L315.7 135.7 L316.2 136.2 L316.7 136.1 L317.2 135.6 L317.7 136.7 L318.2 140.6 L318.7 138 L319.2 140.5 L319.7 142.8 L320.2 141.7 L320.7 140.8 L321.2 140.9 L321.7 141.4 L322.2 141.9 L322.7 138.6 L323.2 138.2 L323.7 137.8 L324.2 137 L324.7 136.3 L325.2 139.5 L325.7 141.3 L325.9 177.6 Z"/>
<path fill="#f28226" d="M317.6 135.4h1.5v1.5h-1.5zM315.4 136.5h1.5v1.5h-1.5zM321.3 135.9h1.5v1.5h-1.5zM317.2 138.6h1.5v1.5h-1.5zM316.7 137.8h1.5v1.5h-1.5zM324.1 140.8h1.5v1.5h-1.5zM315.3 130.4h1.5v1.5h-1.5zM313.3 136.9h1.5v1.5h-1.5zM312.4 138.5h1.5v1.5h-1.5zM318.5 133.3h1.5v1.5h-1.5zM313.7 135.5h1.5v1.5h-1.5zM321.5 139.6h1.5v1.5h-1.5zM315.9 136.8h1.5v1.5h-1.5zM314.7 120.7h1.5v1.5h-1.5zM313 136.6h1.5v1.5h-1.5zM321.2 132.8h1.5v1.5h-1.5zM323.3 137.8h1.5v1.5h-1.5zM324 137h1.5v1.5h-1.5zM315.3 134h1.5v1.5h-1.5zM320.9 137h1.5v1.5h-1.5zM313.2 136.6h1.5v1.5h-1.5zM324.1 140.5h1.5v1.5h-1.5zM322.2 139.5h1.5v1.5h-1.5zM314.7 134.8h1.5v1.5h-1.5zM317.6 119.6h1.5v1.5h-1.5zM313.4 128.7h1.5v1.5h-1.5zM315.7 136.3h1.5v1.5h-1.5zM321.3 140.5h1.5v1.5h-1.5zM314 133.5h1.5v1.5h-1.5zM322.3 132.6h1.5v1.5h-1.5zM319 142h1.5v1.5h-1.5zM321.5 138h1.5v1.5h-1.5zM323.3 127.5h1.5v1.5h-1.5zM315.8 129.1h1.5v1.5h-1.5zM322.2 139.9h1.5v1.5h-1.5zM316.3 135.8h1.5v1.5h-1.5zM316.1 135.6h1.5v1.5h-1.5zM312.9 137h1.5v1.5h-1.5zM323.4 138.3h1.5v1.5h-1.5zM319.8 134h1.5v1.5h-1.5zM321.4 140.9h1.5v1.5h-1.5zM323.5 133.7h1.5v1.5h-1.5zM324.5 135.6h1.5v1.5h-1.5zM321.4 134.9h1.5v1.5h-1.5zM314.8 131.6h1.5v1.5h-1.5zM316.5 130.2h1.5v1.5h-1.5zM313.3 134.1h1.5v1.5h-1.5zM315.9 130h1.5v1.5h-1.5zM316 129.5h1.5v1.5h-1.5zM322.6 131.7h1.5v1.5h-1.5zM313.3 125.3h1.5v1.5h-1.5zM321.2 137.4h1.5v1.5h-1.5zM320 143.4h1.5v1.5h-1.5zM322.9 137h1.5v1.5h-1.5zM317.5 137.6h1.5v1.5h-1.5zM321.8 135.2h1.5v1.5h-1.5zM322.9 139.4h1.5v1.5h-1.5zM316 136.2h1.5v1.5h-1.5zM312.8 136.7h1.5v1.5h-1.5zM311.8 133.7h1.5v1.5h-1.5zM314.5 135.5h1.5v1.5h-1.5zM312.4 133.5h1.5v1.5h-1.5zM314.1 132.8h1.5v1.5h-1.5zM316.8 131.4h1.5v1.5h-1.5zM324 139.4h1.5v1.5h-1.5zM319.8 133.6h1.5v1.5h-1.5zM317.7 129.8h1.5v1.5h-1.5zM321.1 140.8h1.5v1.5h-1.5zM322.9 136.7h1.5v1.5h-1.5zM312.9 134.4h1.5v1.5h-1.5zM322.4 137.9h1.5v1.5h-1.5zM317.8 137.7h1.5v1.5h-1.5zM323 135.7h1.5v1.5h-1.5zM314.2 133.6h1.5v1.5h-1.5zM316.3 124.1h1.5v1.5h-1.5zM320.6 142.4h1.5v1.5h-1.5zM323.5 140.5h1.5v1.5h-1.5zM319.2 139.9h1.5v1.5h-1.5zM320.9 140.3h1.5v1.5h-1.5zM312.7 135.4h1.5v1.5h-1.5zM322.2 134.5h1.5v1.5h-1.5zM316.2 136.6h1.5v1.5h-1.5zM321.3 135.3h1.5v1.5h-1.5zM314.4 126.4h1.5v1.5h-1.5zM324.5 138.8h1.5v1.5h-1.5zM316.5 132.7h1.5v1.5h-1.5zM323.7 139.8h1.5v1.5h-1.5zM315.5 135.2h1.5v1.5h-1.5zM321.1 141.6h1.5v1.5h-1.5zM318.7 138.4h1.5v1.5h-1.5zM320.3 142.7h1.5v1.5h-1.5zM321.9 140.7h1.5v1.5h-1.5zM323.4 137.2h1.5v1.5h-1.5zM321.4 133.3h1.5v1.5h-1.5zM316.2 116h1.4v1.4h-1.4zM314.2 128.5h1.4v1.4h-1.4zM318.1 116.6h1.4v1.4h-1.4zM323.3 115.6h1.4v1.4h-1.4zM318.2 116h1.4v1.4h-1.4zM318.8 132.1h1.4v1.4h-1.4z"/>
<path fill="#c5b2da" d="M326.2 177.6 L326.2 104.9 L326.5 79 L327.3 53 L329.5 46.5 L330.2 43.5 L332.4 43.5 L333 46.5 L334.1 53 L335.8 79 L336.7 104.9 L337.6 124 L339.1 152.8 L339.3 177.6 Z"/>
<path fill="#c5b2da" d="M331.4 43.8h1.1v1.1h-1.1zM331 43.4h1.1v1.1h-1.1zM331.2 33.2h1.1v1.1h-1.1zM331.3 20.8h1.1v1.1h-1.1zM331.6 28.7h1.1v1.1h-1.1zM331.1 27.6h1.1v1.1h-1.1zM330.7 43h1.1v1.1h-1.1zM331.3 23.8h1.1v1.1h-1.1zM331.1 18.9h1.1v1.1h-1.1zM331.3 38.5h1.1v1.1h-1.1zM331.3 25.6h1.1v1.1h-1.1zM331.4 30.4h1.1v1.1h-1.1zM331.5 31.9h1.1v1.1h-1.1zM330.9 16.4h1.1v1.1h-1.1zM331.7 43.6h1.1v1.1h-1.1zM331.4 44.5h1.1v1.1h-1.1zM331.5 32.7h1.1v1.1h-1.1zM331.3 42.3h1.1v1.1h-1.1zM331.4 46.3h1.1v1.1h-1.1zM331 44.7h1.1v1.1h-1.1zM331.6 44.8h1.1v1.1h-1.1zM330.3 37.4h1.1v1.1h-1.1zM331.5 37.2h1.1v1.1h-1.1zM331 18.9h1.1v1.1h-1.1zM331.2 33.6h1.1v1.1h-1.1zM331.3 45.5h1.1v1.1h-1.1zM325.7 75.7h1.3v1.3h-1.3zM336 101.6h1.3v1.3h-1.3zM335.2 75.4h1.3v1.3h-1.3zM326 93.3h1.3v1.3h-1.3zM334.6 69.5h1.3v1.3h-1.3zM335.8 81h1.3v1.3h-1.3zM325.6 81.8h1.3v1.3h-1.3zM325.2 78.6h1.3v1.3h-1.3zM337.1 117.1h1.3v1.3h-1.3zM336.2 98.3h1.3v1.3h-1.3zM335.5 77.5h1.3v1.3h-1.3zM337 116.3h1.3v1.3h-1.3zM325.3 106.7h1.3v1.3h-1.3zM325.5 68.3h1.3v1.3h-1.3zM334.7 67.9h1.3v1.3h-1.3zM325.7 100.9h1.3v1.3h-1.3zM335.8 88.3h1.3v1.3h-1.3zM335.5 92.4h1.3v1.3h-1.3zM334.8 82.5h1.3v1.3h-1.3zM325.7 68.4h1.3v1.3h-1.3zM325.8 60h1.3v1.3h-1.3zM335.9 103.2h1.3v1.3h-1.3zM325.9 76.6h1.3v1.3h-1.3zM325.9 112.3h1.3v1.3h-1.3zM325.7 111h1.3v1.3h-1.3zM325.2 118.9h1.3v1.3h-1.3zM325.4 86.9h1.3v1.3h-1.3zM326 116.9h1.3v1.3h-1.3zM335.6 90.9h1.3v1.3h-1.3zM325.5 81.1h1.3v1.3h-1.3z"/>
<path fill="#a9d3e3" d="M339.2 177.6 L339.2 134 L339.7 134.1 L340.2 136.4 L340.7 135.6 L341.2 135.7 L341.7 134.7 L342.2 136.4 L342.7 137.2 L343.2 138.8 L343.7 138.9 L344.2 138.4 L344.7 139.8 L345.2 140.4 L345.7 137.3 L346.2 137.8 L346.7 136.5 L347.2 136.8 L347.7 136.8 L348.2 134 L348.7 134 L349.2 127.5 L349.7 126.2 L350.2 127.9 L350.7 130.3 L351.2 130.7 L351.7 133.6 L352.2 134.8 L352.7 138.1 L353.2 140.8 L353.2 177.6 Z"/>
<path fill="#a9d3e3" d="M344.6 126.4h1.5v1.5h-1.5zM351.3 123h1.5v1.5h-1.5zM347.1 136h1.5v1.5h-1.5zM344.2 138.6h1.5v1.5h-1.5zM350.7 124.9h1.5v1.5h-1.5zM349.3 125.7h1.5v1.5h-1.5zM351.8 131.2h1.5v1.5h-1.5zM343.4 133.5h1.5v1.5h-1.5zM342.8 135.1h1.5v1.5h-1.5zM341.5 129.7h1.5v1.5h-1.5zM345.6 138.1h1.5v1.5h-1.5zM350.9 132.3h1.5v1.5h-1.5zM351 127h1.5v1.5h-1.5zM341.3 131.8h1.5v1.5h-1.5zM346.6 128h1.5v1.5h-1.5zM346.8 135.6h1.5v1.5h-1.5zM351.1 132.8h1.5v1.5h-1.5zM349.1 133h1.5v1.5h-1.5zM342.9 138.7h1.5v1.5h-1.5zM350.3 128.2h1.5v1.5h-1.5zM348.5 133.6h1.5v1.5h-1.5zM348.6 130.3h1.5v1.5h-1.5zM340.7 134.3h1.5v1.5h-1.5zM348.5 134h1.5v1.5h-1.5zM347.6 135.6h1.5v1.5h-1.5zM344.1 129.1h1.5v1.5h-1.5zM346.6 131.1h1.5v1.5h-1.5zM348.9 131.3h1.5v1.5h-1.5zM350.2 128.7h1.5v1.5h-1.5zM351.3 131.3h1.5v1.5h-1.5zM341 131.5h1.5v1.5h-1.5zM341.3 133h1.5v1.5h-1.5zM340.2 117.4h1.5v1.5h-1.5zM346.2 132.9h1.5v1.5h-1.5zM341.1 133.3h1.5v1.5h-1.5zM344.2 138.8h1.5v1.5h-1.5zM349.6 132.2h1.5v1.5h-1.5zM345.4 139.2h1.5v1.5h-1.5zM350.1 121.6h1.5v1.5h-1.5zM339.9 133.6h1.5v1.5h-1.5zM345.3 134.3h1.5v1.5h-1.5zM348.5 133h1.5v1.5h-1.5zM351.1 132.3h1.5v1.5h-1.5zM341.2 130.5h1.5v1.5h-1.5zM341 136.6h1.5v1.5h-1.5zM345.7 137.5h1.5v1.5h-1.5zM341.5 126.7h1.5v1.5h-1.5zM345.4 133h1.5v1.5h-1.5zM342.6 128.6h1.5v1.5h-1.5zM342.2 128.7h1.5v1.5h-1.5zM347.1 122.4h1.5v1.5h-1.5zM349.1 129.3h1.5v1.5h-1.5zM346.1 130.5h1.5v1.5h-1.5zM345 139.7h1.5v1.5h-1.5zM350.8 125.2h1.5v1.5h-1.5zM348 130.3h1.5v1.5h-1.5zM342.4 136.3h1.5v1.5h-1.5zM349.7 118h1.5v1.5h-1.5zM350.9 131.9h1.5v1.5h-1.5zM348 132.7h1.5v1.5h-1.5zM344.5 139.4h1.5v1.5h-1.5zM341.2 135h1.5v1.5h-1.5zM345.6 138.1h1.5v1.5h-1.5zM344.1 136.4h1.5v1.5h-1.5zM348.9 130h1.5v1.5h-1.5zM341.5 128.8h1.5v1.5h-1.5zM344.1 126.1h1.5v1.5h-1.5zM351.7 135h1.5v1.5h-1.5zM346.7 123.4h1.5v1.5h-1.5zM344.3 136.6h1.5v1.5h-1.5zM343.4 139.4h1.5v1.5h-1.5zM342 138.2h1.5v1.5h-1.5zM343 135h1.5v1.5h-1.5zM346.5 125.6h1.5v1.5h-1.5zM348 134.2h1.5v1.5h-1.5zM351.3 129.7h1.5v1.5h-1.5zM346.2 130.1h1.5v1.5h-1.5zM347.8 134.6h1.5v1.5h-1.5zM347 136.2h1.5v1.5h-1.5zM351.5 133.9h1.5v1.5h-1.5zM351.6 135h1.5v1.5h-1.5zM339.6 132.4h1.5v1.5h-1.5zM342.1 135.7h1.5v1.5h-1.5zM341 129.7h1.5v1.5h-1.5zM347.8 131.6h1.5v1.5h-1.5zM348.3 135.3h1.5v1.5h-1.5zM340.1 134.1h1.5v1.5h-1.5zM351.5 133.4h1.5v1.5h-1.5zM346.5 138.3h1.5v1.5h-1.5zM344.7 130.3h1.5v1.5h-1.5zM346.8 130.5h1.5v1.5h-1.5zM339.7 135h1.5v1.5h-1.5zM341.7 130.7h1.5v1.5h-1.5zM340.8 114.2h1.4v1.4h-1.4zM342.8 115.4h1.4v1.4h-1.4zM345.9 126.2h1.4v1.4h-1.4zM351.5 122.1h1.4v1.4h-1.4zM348.1 128.1h1.4v1.4h-1.4zM349.8 113.3h1.4v1.4h-1.4z"/>
<path fill="#4381b6" d="M353.2 177.6 L353.2 142.7 L353.7 141.4 L354.2 141.5 L354.7 141 L355.2 141.5 L355.7 139.9 L356.2 134.2 L356.7 138.8 L357.2 137 L357.7 137.1 L358.2 137.8 L358.7 138.1 L359.2 136.9 L359.7 139.2 L360.2 138.9 L360.7 134.3 L361.2 135.2 L361.7 134.6 L362.2 134.4 L362.7 135.5 L363.2 139.8 L363.7 141.2 L364.2 139.7 L364.7 138.2 L365.2 141.7 L365.7 141.5 L366.2 143.5 L366.7 142.2 L367 177.6 Z"/>
<path fill="#4381b6" d="M359.7 125.4h1.5v1.5h-1.5zM356.5 139.8h1.5v1.5h-1.5zM357.2 138h1.5v1.5h-1.5zM364.6 134.7h1.5v1.5h-1.5zM358.7 137.1h1.5v1.5h-1.5zM354.1 142.9h1.5v1.5h-1.5zM363.8 134.6h1.5v1.5h-1.5zM355.4 137.6h1.5v1.5h-1.5zM354.2 140.2h1.5v1.5h-1.5zM357.6 138.8h1.5v1.5h-1.5zM362.6 132.1h1.5v1.5h-1.5zM359.7 136.5h1.5v1.5h-1.5zM361.7 134h1.5v1.5h-1.5zM361.6 135.9h1.5v1.5h-1.5zM364.5 139.8h1.5v1.5h-1.5zM356.2 138.7h1.5v1.5h-1.5zM355.9 140.8h1.5v1.5h-1.5zM356.7 135.5h1.5v1.5h-1.5zM356.2 138.7h1.5v1.5h-1.5zM361.9 134.3h1.5v1.5h-1.5zM355.4 141.5h1.5v1.5h-1.5zM360.1 118.5h1.5v1.5h-1.5zM359.6 134.5h1.5v1.5h-1.5zM355.9 136.5h1.5v1.5h-1.5zM359.5 130.3h1.5v1.5h-1.5zM357.1 128.2h1.5v1.5h-1.5zM363.4 135.8h1.5v1.5h-1.5zM355.2 139.2h1.5v1.5h-1.5zM355.1 137.3h1.5v1.5h-1.5zM362 133.1h1.5v1.5h-1.5zM365.4 140.7h1.5v1.5h-1.5zM362.2 130.2h1.5v1.5h-1.5zM354.9 140.8h1.5v1.5h-1.5zM354.2 139.6h1.5v1.5h-1.5zM362.3 135.4h1.5v1.5h-1.5zM362 134.9h1.5v1.5h-1.5zM362.2 135.7h1.5v1.5h-1.5zM365.4 138.5h1.5v1.5h-1.5zM353.5 143.7h1.5v1.5h-1.5zM362.4 128.7h1.5v1.5h-1.5zM361.3 135.6h1.5v1.5h-1.5zM364.1 134h1.5v1.5h-1.5zM354.9 140.4h1.5v1.5h-1.5zM361.7 136.5h1.5v1.5h-1.5zM354 141.6h1.5v1.5h-1.5zM364.6 133.3h1.5v1.5h-1.5zM364.1 135.5h1.5v1.5h-1.5zM365.3 136.4h1.5v1.5h-1.5zM365.1 136.9h1.5v1.5h-1.5zM355.9 138.1h1.5v1.5h-1.5zM359.4 135.7h1.5v1.5h-1.5zM358.1 135.6h1.5v1.5h-1.5zM360.7 135.6h1.5v1.5h-1.5zM356.9 137.1h1.5v1.5h-1.5zM359.6 135h1.5v1.5h-1.5zM361.6 135.5h1.5v1.5h-1.5zM360 135.7h1.5v1.5h-1.5zM362.9 132.7h1.5v1.5h-1.5zM363 134.9h1.5v1.5h-1.5zM356.5 129.3h1.5v1.5h-1.5zM359.7 135.2h1.5v1.5h-1.5zM357 137.7h1.5v1.5h-1.5zM362.1 129.7h1.5v1.5h-1.5zM359.4 131.8h1.5v1.5h-1.5zM356.1 138.4h1.5v1.5h-1.5zM357.9 137.3h1.5v1.5h-1.5zM357.9 132.8h1.5v1.5h-1.5zM362.4 136.4h1.5v1.5h-1.5zM356.4 134.1h1.5v1.5h-1.5zM361.5 131.4h1.5v1.5h-1.5zM361.2 131.3h1.5v1.5h-1.5zM356.8 139.9h1.5v1.5h-1.5zM357.9 138.7h1.5v1.5h-1.5zM365.2 137.5h1.5v1.5h-1.5zM361.7 121.8h1.5v1.5h-1.5zM363.3 137.3h1.5v1.5h-1.5zM357.6 138.7h1.5v1.5h-1.5zM363.2 132.5h1.5v1.5h-1.5zM359.4 135.5h1.5v1.5h-1.5zM356.8 137.3h1.5v1.5h-1.5zM362.2 127.4h1.5v1.5h-1.5zM363.9 130.4h1.5v1.5h-1.5zM358.9 135.4h1.5v1.5h-1.5zM357.3 123.8h1.5v1.5h-1.5zM355.7 140.7h1.5v1.5h-1.5zM356.9 129h1.5v1.5h-1.5zM363.9 137.4h1.5v1.5h-1.5zM363.9 129.6h1.5v1.5h-1.5zM358.7 137h1.5v1.5h-1.5zM362.9 135.9h1.5v1.5h-1.5zM355 132.4h1.5v1.5h-1.5zM358.9 135.6h1.5v1.5h-1.5zM360.8 135.4h1.5v1.5h-1.5zM353.7 129.1h1.4v1.4h-1.4zM358.1 131.8h1.4v1.4h-1.4zM358 120.1h1.4v1.4h-1.4zM357.6 121.6h1.4v1.4h-1.4zM361.1 127.3h1.4v1.4h-1.4zM353.7 123.2h1.4v1.4h-1.4z"/>
<path fill="#bcea8a" d="M367 177.6 L367 147.4 L367.5 148.7 L368 146 L368.5 143.6 L369 145.6 L369.5 146.7 L370 149.6 L370.5 149.2 L371 150.7 L371.5 149.5 L372 151.1 L372.5 147.8 L373 149.6 L373.5 150.2 L374 149.3 L374.5 149 L375 148.4 L375.5 147.6 L376 149.4 L376.5 144.6 L377 142.2 L377.5 140.5 L378 145 L378.5 143 L379 145.8 L379.5 145.7 L379.5 177.6 Z"/>
<path fill="#bcea8a" d="M368.3 147.4h1.5v1.5h-1.5zM371.3 147.4h1.5v1.5h-1.5zM372.8 148.8h1.5v1.5h-1.5zM375 146.6h1.5v1.5h-1.5zM378 146.8h1.5v1.5h-1.5zM372.9 147.4h1.5v1.5h-1.5zM371.4 141.4h1.5v1.5h-1.5zM369.6 139.7h1.5v1.5h-1.5zM371.2 148h1.5v1.5h-1.5zM374 146.7h1.5v1.5h-1.5zM370.4 148.9h1.5v1.5h-1.5zM377.7 145.5h1.5v1.5h-1.5zM368.5 143.4h1.5v1.5h-1.5zM373.1 148.6h1.5v1.5h-1.5zM370.9 141.5h1.5v1.5h-1.5zM371 147.3h1.5v1.5h-1.5zM377.7 145.5h1.5v1.5h-1.5zM371.7 149.3h1.5v1.5h-1.5zM374.5 145.6h1.5v1.5h-1.5zM372.2 148.1h1.5v1.5h-1.5zM369.8 142.1h1.5v1.5h-1.5zM372.3 142.6h1.5v1.5h-1.5zM371.4 144.2h1.5v1.5h-1.5zM367.6 146.3h1.5v1.5h-1.5zM377.8 142.6h1.5v1.5h-1.5zM374.7 147.1h1.5v1.5h-1.5zM372.4 149.3h1.5v1.5h-1.5zM369.2 144h1.5v1.5h-1.5zM374.9 148.5h1.5v1.5h-1.5zM374.3 149.7h1.5v1.5h-1.5zM374 149.5h1.5v1.5h-1.5zM372.9 148.7h1.5v1.5h-1.5zM373.3 149.7h1.5v1.5h-1.5zM372.6 146.2h1.5v1.5h-1.5zM368.8 146.6h1.5v1.5h-1.5zM374.7 146.6h1.5v1.5h-1.5zM374 143.8h1.5v1.5h-1.5zM373.5 149.2h1.5v1.5h-1.5zM372.1 142.7h1.5v1.5h-1.5zM373.5 144.3h1.5v1.5h-1.5zM371.3 147.2h1.5v1.5h-1.5zM377.9 140.1h1.5v1.5h-1.5zM374.4 149.8h1.5v1.5h-1.5zM374 150.1h1.5v1.5h-1.5zM377.5 131.9h1.5v1.5h-1.5zM375.2 148h1.5v1.5h-1.5zM376.5 146.8h1.5v1.5h-1.5zM376.3 144.7h1.5v1.5h-1.5zM367.5 137.8h1.5v1.5h-1.5zM372.1 142.7h1.5v1.5h-1.5zM374.8 146.6h1.5v1.5h-1.5zM376.7 146.4h1.5v1.5h-1.5zM377.1 145.3h1.5v1.5h-1.5zM367.6 145.6h1.5v1.5h-1.5zM368 147.3h1.5v1.5h-1.5zM374.1 149.7h1.5v1.5h-1.5zM369 146.8h1.5v1.5h-1.5zM370.3 138.3h1.5v1.5h-1.5zM377.2 138.3h1.5v1.5h-1.5zM378.1 145.2h1.5v1.5h-1.5zM376 146.9h1.5v1.5h-1.5zM377.4 140.1h1.5v1.5h-1.5zM375.3 148.1h1.5v1.5h-1.5zM368.3 136.7h1.5v1.5h-1.5zM373.3 146.2h1.5v1.5h-1.5zM376.7 146.7h1.5v1.5h-1.5zM374.9 147h1.5v1.5h-1.5zM375.9 145.9h1.5v1.5h-1.5zM369.4 135.1h1.5v1.5h-1.5zM370.4 143.3h1.5v1.5h-1.5zM376.4 146.6h1.5v1.5h-1.5zM374.9 147.6h1.5v1.5h-1.5zM369.7 147.7h1.5v1.5h-1.5zM377.7 145.5h1.5v1.5h-1.5zM372.9 147.3h1.5v1.5h-1.5zM367.6 141.3h1.5v1.5h-1.5zM375.4 140.1h1.5v1.5h-1.5zM371.2 148.7h1.5v1.5h-1.5zM371.1 144h1.5v1.5h-1.5zM374.5 148.1h1.5v1.5h-1.5zM373 149.6h1.5v1.5h-1.5zM377.3 144.4h1.5v1.5h-1.5zM372.8 143.6h1.5v1.5h-1.5zM369.5 143.1h1.5v1.5h-1.5zM371.2 142.5h1.5v1.5h-1.5zM368.3 146.5h1.5v1.5h-1.5zM374.2 147.5h1.5v1.5h-1.5zM371.4 146.2h1.5v1.5h-1.5zM369.7 146.3h1.5v1.5h-1.5zM367.3 140.3h1.5v1.5h-1.5zM370.1 141.4h1.5v1.5h-1.5zM373.3 146.3h1.5v1.5h-1.5zM374.1 149.7h1.5v1.5h-1.5zM375.8 147.1h1.5v1.5h-1.5zM376.7 140.7h1.5v1.5h-1.5zM374.7 132.2h1.4v1.4h-1.4zM372.1 134.2h1.4v1.4h-1.4zM377.7 138.7h1.4v1.4h-1.4zM368.4 136.5h1.4v1.4h-1.4zM372.9 141.6h1.4v1.4h-1.4zM369.7 131.3h1.4v1.4h-1.4z"/>
<path fill="#4fad3a" d="M379.5 177.6 L379.5 144.6 L380 142.8 L380.5 142.2 L381 139 L381.5 138.6 L382 138.3 L382.5 139.6 L383 138.7 L383.5 141.8 L384 138.1 L384.5 134 L385 137 L385.5 137.6 L386 138.4 L386.5 138.4 L387 140.6 L387.5 139.7 L388 139.2 L388.5 137.9 L389 138.3 L389.5 137.5 L390 137 L390.5 137.9 L390.9 177.6 Z"/>
<path fill="#4fad3a" d="M380.9 141.4h1.5v1.5h-1.5zM379.9 142.2h1.5v1.5h-1.5zM380.9 137.4h1.5v1.5h-1.5zM380.2 137.5h1.5v1.5h-1.5zM383.8 126.7h1.5v1.5h-1.5zM383.6 136.9h1.5v1.5h-1.5zM380.5 130.3h1.5v1.5h-1.5zM384.8 135.9h1.5v1.5h-1.5zM384.1 131.6h1.5v1.5h-1.5zM387.9 135.6h1.5v1.5h-1.5zM381.5 139.3h1.5v1.5h-1.5zM388.5 135.7h1.5v1.5h-1.5zM386.3 136h1.5v1.5h-1.5zM384.3 134.4h1.5v1.5h-1.5zM382.2 137.1h1.5v1.5h-1.5zM388.3 137.8h1.5v1.5h-1.5zM383.4 129.7h1.5v1.5h-1.5zM389.4 137.3h1.5v1.5h-1.5zM385.9 134.9h1.5v1.5h-1.5zM388.1 135.6h1.5v1.5h-1.5zM381.1 140.7h1.5v1.5h-1.5zM386.8 133.6h1.5v1.5h-1.5zM381.8 136.7h1.5v1.5h-1.5zM386.2 134.8h1.5v1.5h-1.5zM380 141.2h1.5v1.5h-1.5zM383 135.5h1.5v1.5h-1.5zM383.1 138.7h1.5v1.5h-1.5zM386.4 138.1h1.5v1.5h-1.5zM387.5 137.1h1.5v1.5h-1.5zM385.1 131.6h1.5v1.5h-1.5zM380.9 136.8h1.5v1.5h-1.5zM380.5 131.2h1.5v1.5h-1.5zM380 138.2h1.5v1.5h-1.5zM383.4 138h1.5v1.5h-1.5zM383.7 135.5h1.5v1.5h-1.5zM383.9 137.6h1.5v1.5h-1.5zM384.9 137h1.5v1.5h-1.5zM389.3 135.3h1.5v1.5h-1.5zM384.1 136.8h1.5v1.5h-1.5zM389.3 135.7h1.5v1.5h-1.5zM386.1 131.7h1.5v1.5h-1.5zM383.7 132.4h1.5v1.5h-1.5zM382.5 139.6h1.5v1.5h-1.5zM380.2 140.9h1.5v1.5h-1.5zM388.4 137.1h1.5v1.5h-1.5zM384.1 131.7h1.5v1.5h-1.5zM382.5 139.4h1.5v1.5h-1.5zM384.9 136.1h1.5v1.5h-1.5zM389 127.8h1.5v1.5h-1.5zM382.1 137.1h1.5v1.5h-1.5zM383.9 138h1.5v1.5h-1.5zM384.2 127.3h1.5v1.5h-1.5zM382.8 136h1.5v1.5h-1.5zM386.8 138.9h1.5v1.5h-1.5zM388.9 137.2h1.5v1.5h-1.5zM382.8 134.4h1.5v1.5h-1.5zM380 141.8h1.5v1.5h-1.5zM381 139.5h1.5v1.5h-1.5zM380 143.1h1.5v1.5h-1.5zM382 140.5h1.5v1.5h-1.5zM380.7 141.8h1.5v1.5h-1.5zM384.9 137.8h1.5v1.5h-1.5zM387.8 136.1h1.5v1.5h-1.5zM382.3 139.3h1.5v1.5h-1.5zM388 138.1h1.5v1.5h-1.5zM387.1 138.6h1.5v1.5h-1.5zM389.1 135.3h1.5v1.5h-1.5zM385.7 130.5h1.5v1.5h-1.5zM380.8 142.4h1.5v1.5h-1.5zM386.6 135.5h1.5v1.5h-1.5zM386.9 137.8h1.5v1.5h-1.5zM384.7 137.4h1.5v1.5h-1.5zM384.1 136.5h1.5v1.5h-1.5zM385.5 137.4h1.5v1.5h-1.5zM382.5 135.7h1.5v1.5h-1.5zM380.6 135.9h1.5v1.5h-1.5zM384.7 137.2h1.5v1.5h-1.5zM380.9 139.4h1.5v1.5h-1.5zM384.7 132.9h1.5v1.5h-1.5zM383.5 136.5h1.5v1.5h-1.5zM388.5 136.6h1.5v1.5h-1.5zM389.4 127.7h1.5v1.5h-1.5zM389.5 124.9h1.5v1.5h-1.5zM382.3 133.2h1.5v1.5h-1.5zM385.8 138.2h1.5v1.5h-1.5zM389.6 132.7h1.5v1.5h-1.5zM387.7 135h1.5v1.5h-1.5zM380.6 134.4h1.5v1.5h-1.5zM381.5 140.3h1.5v1.5h-1.5zM385.8 138.2h1.5v1.5h-1.5zM384.3 132.7h1.5v1.5h-1.5zM380.7 138h1.5v1.5h-1.5zM380.8 139.8h1.5v1.5h-1.5zM386.2 134.4h1.5v1.5h-1.5zM380.2 133.6h1.4v1.4h-1.4zM389.2 126.5h1.4v1.4h-1.4zM384 127h1.4v1.4h-1.4zM386.6 123.1h1.4v1.4h-1.4zM386.2 127.5h1.4v1.4h-1.4zM385.4 125.8h1.4v1.4h-1.4z"/>
<path fill="#ec9a9a" d="M390.9 177.6 L390.9 147.5 L391.4 144.5 L391.9 139.7 L392.4 138 L392.9 141.6 L393.4 142.6 L393.9 146.4 L394.4 146.9 L394.9 146.6 L395.4 146.2 L395.9 147.4 L396.4 144.5 L396.9 146.7 L397.4 145 L397.9 147.6 L398.4 146.3 L398.9 149.5 L399.1 177.6 Z"/>
<path fill="#ec9a9a" d="M396.8 144.8h1.5v1.5h-1.5zM393 142.8h1.5v1.5h-1.5zM391.3 143.8h1.5v1.5h-1.5zM393.7 147.2h1.5v1.5h-1.5zM396.9 144.4h1.5v1.5h-1.5zM391.2 132.5h1.5v1.5h-1.5zM392.7 142.9h1.5v1.5h-1.5zM391.4 145.6h1.5v1.5h-1.5zM395.9 141.6h1.5v1.5h-1.5zM394.5 146.7h1.5v1.5h-1.5zM397.7 137.9h1.5v1.5h-1.5zM392 136.6h1.5v1.5h-1.5zM391.3 140.8h1.5v1.5h-1.5zM396.5 140.9h1.5v1.5h-1.5zM394.8 140.1h1.5v1.5h-1.5zM392.2 141h1.5v1.5h-1.5zM393 142.7h1.5v1.5h-1.5zM392.5 138.5h1.5v1.5h-1.5zM395 140.5h1.5v1.5h-1.5zM395.3 142.3h1.5v1.5h-1.5zM397.3 139.6h1.5v1.5h-1.5zM394.9 145.4h1.5v1.5h-1.5zM397.3 144.8h1.5v1.5h-1.5zM391.9 143.3h1.5v1.5h-1.5zM395.9 133.8h1.5v1.5h-1.5zM395.5 141.4h1.5v1.5h-1.5zM397.4 140.4h1.5v1.5h-1.5zM394.1 145.9h1.5v1.5h-1.5zM396.2 144.1h1.5v1.5h-1.5zM391.9 140.8h1.5v1.5h-1.5zM396.5 144.8h1.5v1.5h-1.5zM395.7 135.9h1.5v1.5h-1.5zM392 144h1.5v1.5h-1.5zM394.5 146.3h1.5v1.5h-1.5zM396.4 141.6h1.5v1.5h-1.5zM391.7 142.8h1.5v1.5h-1.5zM391.3 143.3h1.5v1.5h-1.5zM393.9 134.6h1.5v1.5h-1.5zM393.9 139.7h1.5v1.5h-1.5zM396.3 142.1h1.5v1.5h-1.5zM392.8 142.8h1.5v1.5h-1.5zM394.4 145.9h1.5v1.5h-1.5zM395.5 143h1.5v1.5h-1.5zM393.3 142.1h1.5v1.5h-1.5zM397.8 146.3h1.5v1.5h-1.5zM393.4 146.3h1.5v1.5h-1.5zM391.8 144.9h1.5v1.5h-1.5zM394 140.3h1.5v1.5h-1.5zM395.8 134.2h1.5v1.5h-1.5zM395 146.9h1.5v1.5h-1.5zM393.7 146h1.5v1.5h-1.5zM395.3 146.1h1.5v1.5h-1.5zM394.8 145.4h1.5v1.5h-1.5zM394.4 145.9h1.5v1.5h-1.5zM391.9 139.4h1.5v1.5h-1.5zM396.5 142.1h1.5v1.5h-1.5zM392 140.9h1.5v1.5h-1.5zM396.9 131.5h1.5v1.5h-1.5zM397 141.8h1.5v1.5h-1.5zM393 134.3h1.5v1.5h-1.5zM396.7 136.5h1.5v1.5h-1.5zM392.8 140.9h1.5v1.5h-1.5zM393.7 145.7h1.5v1.5h-1.5zM396.2 141.6h1.5v1.5h-1.5zM393.4 142.9h1.5v1.5h-1.5zM397.3 143.2h1.5v1.5h-1.5zM397.2 143.2h1.5v1.5h-1.5zM397.7 147.1h1.5v1.5h-1.5zM394.2 145.1h1.5v1.5h-1.5zM394.4 144h1.5v1.5h-1.5zM394.7 142.3h1.5v1.5h-1.5zM397.4 146.9h1.5v1.5h-1.5zM393.3 137h1.5v1.5h-1.5zM391.6 138.9h1.5v1.5h-1.5zM391.4 141.5h1.5v1.5h-1.5zM396.5 144.8h1.5v1.5h-1.5zM393.7 146.1h1.5v1.5h-1.5zM395.9 142.1h1.5v1.5h-1.5zM395.2 144.9h1.5v1.5h-1.5zM395.1 133.5h1.5v1.5h-1.5zM396.3 132.8h1.5v1.5h-1.5zM392.8 141.4h1.5v1.5h-1.5zM393.7 145.5h1.5v1.5h-1.5zM396.5 145.2h1.5v1.5h-1.5zM394.9 140.8h1.5v1.5h-1.5zM397.4 146.8h1.5v1.5h-1.5zM393 142.1h1.5v1.5h-1.5zM397.4 146.1h1.5v1.5h-1.5zM396.7 144.1h1.5v1.5h-1.5zM394.8 136h1.5v1.5h-1.5zM391.6 143.8h1.5v1.5h-1.5zM392.2 136.6h1.4v1.4h-1.4zM393.2 132.4h1.4v1.4h-1.4zM395 139h1.4v1.4h-1.4zM396.5 134.4h1.4v1.4h-1.4zM392.1 131.1h1.4v1.4h-1.4zM396.6 137.4h1.4v1.4h-1.4z"/>
<path fill="#e4262a" d="M399.1 177.6 L399.1 137.1 L399.6 137.9 L400.1 137.9 L400.6 135.6 L401.1 132.4 L401.6 135.8 L402.1 132.6 L402.6 132.6 L403.1 135.1 L403.6 139 L404.1 135.8 L404.6 139 L405.1 139 L405.6 134.1 L406.1 134.4 L406.6 135.3 L407.1 135.1 L407.6 135 L408.1 133.4 L408.6 134.5 L409.1 132.1 L409.6 131.5 L410.1 131.1 L410.6 131.8 L410.8 177.6 Z"/>
<path fill="#e4262a" d="M401.9 130.5h1.5v1.5h-1.5zM408.2 131h1.5v1.5h-1.5zM403.9 137.6h1.5v1.5h-1.5zM402.8 135.4h1.5v1.5h-1.5zM407.4 129.1h1.5v1.5h-1.5zM407.3 131.3h1.5v1.5h-1.5zM406.5 135.2h1.5v1.5h-1.5zM403.3 135.7h1.5v1.5h-1.5zM402.3 129.9h1.5v1.5h-1.5zM401.6 133.1h1.5v1.5h-1.5zM402.3 127.1h1.5v1.5h-1.5zM405.8 133.6h1.5v1.5h-1.5zM403.2 126.2h1.5v1.5h-1.5zM408.9 130h1.5v1.5h-1.5zM405.1 128.4h1.5v1.5h-1.5zM402 134.1h1.5v1.5h-1.5zM400.4 134.4h1.5v1.5h-1.5zM407.2 134h1.5v1.5h-1.5zM403.8 117.8h1.5v1.5h-1.5zM404.3 135.5h1.5v1.5h-1.5zM407.9 124.2h1.5v1.5h-1.5zM403.2 136.5h1.5v1.5h-1.5zM405.8 130.6h1.5v1.5h-1.5zM408.7 128.1h1.5v1.5h-1.5zM402.5 133h1.5v1.5h-1.5zM402.3 133.3h1.5v1.5h-1.5zM404.1 127.2h1.5v1.5h-1.5zM408.5 121.6h1.5v1.5h-1.5zM404.2 123.2h1.5v1.5h-1.5zM400.8 125.4h1.5v1.5h-1.5zM405.9 127.5h1.5v1.5h-1.5zM403.6 117.4h1.5v1.5h-1.5zM399.7 131.5h1.5v1.5h-1.5zM407.7 132h1.5v1.5h-1.5zM407.8 132.9h1.5v1.5h-1.5zM407 132.3h1.5v1.5h-1.5zM403.6 136.6h1.5v1.5h-1.5zM407.5 128.7h1.5v1.5h-1.5zM400.3 121.4h1.5v1.5h-1.5zM401.6 132.8h1.5v1.5h-1.5zM403.6 133.9h1.5v1.5h-1.5zM408.4 120.5h1.5v1.5h-1.5zM405.8 134.5h1.5v1.5h-1.5zM400.5 137h1.5v1.5h-1.5zM404.6 133.5h1.5v1.5h-1.5zM403.9 120.4h1.5v1.5h-1.5zM403.6 135.7h1.5v1.5h-1.5zM403.6 136.8h1.5v1.5h-1.5zM408.9 128.8h1.5v1.5h-1.5zM404.9 134.7h1.5v1.5h-1.5zM401.9 133.6h1.5v1.5h-1.5zM404.4 134.9h1.5v1.5h-1.5zM409.3 128.8h1.5v1.5h-1.5zM401.5 134.4h1.5v1.5h-1.5zM401 134h1.5v1.5h-1.5zM407.3 125.1h1.5v1.5h-1.5zM401.8 128.5h1.5v1.5h-1.5zM403.9 134.5h1.5v1.5h-1.5zM404.8 137h1.5v1.5h-1.5zM400.1 133.7h1.5v1.5h-1.5zM406.4 133.8h1.5v1.5h-1.5zM408.7 125.4h1.5v1.5h-1.5zM402.4 135.7h1.5v1.5h-1.5zM405 132.5h1.5v1.5h-1.5zM401.7 134.7h1.5v1.5h-1.5zM404.3 137.3h1.5v1.5h-1.5zM406.8 131h1.5v1.5h-1.5zM402.2 133.1h1.5v1.5h-1.5zM401.8 134.1h1.5v1.5h-1.5zM401.2 127.9h1.5v1.5h-1.5zM404 132.3h1.5v1.5h-1.5zM402.9 129.6h1.5v1.5h-1.5zM405.4 132.2h1.5v1.5h-1.5zM403.4 133.7h1.5v1.5h-1.5zM401.3 119.2h1.5v1.5h-1.5zM406.2 132.9h1.5v1.5h-1.5zM405.9 136h1.5v1.5h-1.5zM402.8 135.3h1.5v1.5h-1.5zM407.9 133.6h1.5v1.5h-1.5zM403.9 129.1h1.5v1.5h-1.5zM407.3 129.1h1.5v1.5h-1.5zM402.4 134.9h1.5v1.5h-1.5zM406.5 134.1h1.5v1.5h-1.5zM406.7 133.5h1.5v1.5h-1.5zM407.1 131.2h1.5v1.5h-1.5zM407.6 115.8h1.5v1.5h-1.5zM403.2 118.6h1.5v1.5h-1.5zM399.5 131h1.5v1.5h-1.5zM399.7 136.1h1.5v1.5h-1.5zM403.3 130.9h1.5v1.5h-1.5zM402.6 135.2h1.5v1.5h-1.5zM407.3 131.1h1.5v1.5h-1.5zM407 132h1.5v1.5h-1.5zM399.8 132.9h1.5v1.5h-1.5zM401.6 132.1h1.5v1.5h-1.5zM399.4 127.5h1.4v1.4h-1.4zM406.1 114.4h1.4v1.4h-1.4zM405.8 120.9h1.4v1.4h-1.4zM406.8 116h1.4v1.4h-1.4zM401.5 118.2h1.4v1.4h-1.4zM405.4 115.3h1.4v1.4h-1.4z"/>
<line x1="37.4" y1="45.9" x2="413.3" y2="45.9" stroke="#f07070" stroke-width="0.9" stroke-dasharray="1.3 1.1"/>
<rect x="328.1" y="10.6" width="8.5" height="34.4" fill="none" stroke="#e3302c" stroke-width="1.25"/>
<path d="M37.7 177.3 V1.5 H413.5 M37.7 177.3 H413.5" fill="none" stroke="#7c7c7c" stroke-width="0.9"/>
<path d="M413.5 1.1 V177.7" fill="none" stroke="#a2a2a2" stroke-width="1.1"/>
<line x1="35.6" y1="177.6" x2="37.7" y2="177.6" stroke="#666" stroke-width="0.7"/>
<text x="35.3" y="180.6" class="s" font-size="7.2" fill="#222" text-anchor="end">0</text>
<line x1="35.6" y1="144.5" x2="37.7" y2="144.5" stroke="#666" stroke-width="0.7"/>
<text x="35.3" y="147.5" class="s" font-size="7.2" fill="#222" text-anchor="end">2</text>
<line x1="35.6" y1="111.4" x2="37.7" y2="111.4" stroke="#666" stroke-width="0.7"/>
<text x="35.3" y="114.4" class="s" font-size="7.2" fill="#222" text-anchor="end">4</text>
<line x1="35.6" y1="78.3" x2="37.7" y2="78.3" stroke="#666" stroke-width="0.7"/>
<text x="35.3" y="81.3" class="s" font-size="7.2" fill="#222" text-anchor="end">6</text>
<line x1="35.6" y1="45.2" x2="37.7" y2="45.2" stroke="#666" stroke-width="0.7"/>
<text x="35.3" y="48.2" class="s" font-size="7.2" fill="#222" text-anchor="end">8</text>
<line x1="35.6" y1="12.1" x2="37.7" y2="12.1" stroke="#666" stroke-width="0.7"/>
<text x="35.3" y="15.1" class="s" font-size="7.2" fill="#222" text-anchor="end">10</text>
<line x1="50.2" y1="177.6" x2="50.2" y2="179.4" stroke="#555" stroke-width="0.6"/>
<text x="50.2" y="185.0" class="s" font-size="7.2" fill="#222" text-anchor="middle">1</text>
<line x1="69.5" y1="177.6" x2="69.5" y2="179.4" stroke="#555" stroke-width="0.6"/>
<text x="69.5" y="185.0" class="s" font-size="7.2" fill="#222" text-anchor="middle">2</text>
<line x1="88" y1="177.6" x2="88" y2="179.4" stroke="#555" stroke-width="0.6"/>
<text x="88" y="185.0" class="s" font-size="7.2" fill="#222" text-anchor="middle">3</text>
<line x1="106.2" y1="177.6" x2="106.2" y2="179.4" stroke="#555" stroke-width="0.6"/>
<text x="106.2" y="185.0" class="s" font-size="7.2" fill="#222" text-anchor="middle">4</text>
<line x1="124.1" y1="177.6" x2="124.1" y2="179.4" stroke="#555" stroke-width="0.6"/>
<text x="124.1" y="185.0" class="s" font-size="7.2" fill="#222" text-anchor="middle">5</text>
<line x1="141.7" y1="177.6" x2="141.7" y2="179.4" stroke="#555" stroke-width="0.6"/>
<text x="141.7" y="185.0" class="s" font-size="7.2" fill="#222" text-anchor="middle">6</text>
<line x1="159.5" y1="177.6" x2="159.5" y2="179.4" stroke="#555" stroke-width="0.6"/>
<text x="159.5" y="185.0" class="s" font-size="7.2" fill="#222" text-anchor="middle">7</text>
<line x1="177.3" y1="177.6" x2="177.3" y2="179.4" stroke="#555" stroke-width="0.6"/>
<text x="177.3" y="185.0" class="s" font-size="7.2" fill="#222" text-anchor="middle">8</text>
<line x1="194.6" y1="177.6" x2="194.6" y2="179.4" stroke="#555" stroke-width="0.6"/>
<text x="194.6" y="185.0" class="s" font-size="7.2" fill="#222" text-anchor="middle">9</text>
<line x1="211.1" y1="177.6" x2="211.1" y2="179.4" stroke="#555" stroke-width="0.6"/>
<text x="211.1" y="185.0" class="s" font-size="7.2" fill="#222" text-anchor="middle">10</text>
<line x1="227.1" y1="177.6" x2="227.1" y2="179.4" stroke="#555" stroke-width="0.6"/>
<text x="227.1" y="185.0" class="s" font-size="7.2" fill="#222" text-anchor="middle">11</text>
<line x1="242.9" y1="177.6" x2="242.9" y2="179.4" stroke="#555" stroke-width="0.6"/>
<text x="242.9" y="185.0" class="s" font-size="7.2" fill="#222" text-anchor="middle">12</text>
<line x1="258.5" y1="177.6" x2="258.5" y2="179.4" stroke="#555" stroke-width="0.6"/>
<text x="258.5" y="185.0" class="s" font-size="7.2" fill="#222" text-anchor="middle">13</text>
<line x1="274.1" y1="177.6" x2="274.1" y2="179.4" stroke="#555" stroke-width="0.6"/>
<text x="274.1" y="185.0" class="s" font-size="7.2" fill="#222" text-anchor="middle">14</text>
<line x1="289.4" y1="177.6" x2="289.4" y2="179.4" stroke="#555" stroke-width="0.6"/>
<text x="289.4" y="185.0" class="s" font-size="7.2" fill="#222" text-anchor="middle">15</text>
<line x1="304" y1="177.6" x2="304" y2="179.4" stroke="#555" stroke-width="0.6"/>
<text x="304" y="185.0" class="s" font-size="7.2" fill="#222" text-anchor="middle">16</text>
<line x1="318.5" y1="177.6" x2="318.5" y2="179.4" stroke="#555" stroke-width="0.6"/>
<text x="318.5" y="185.0" class="s" font-size="7.2" fill="#222" text-anchor="middle">17</text>
<line x1="332.5" y1="177.6" x2="332.5" y2="179.4" stroke="#555" stroke-width="0.6"/>
<text x="332.5" y="185.0" class="s" font-size="7.2" fill="#222" text-anchor="middle">18</text>
<line x1="346.2" y1="177.6" x2="346.2" y2="179.4" stroke="#555" stroke-width="0.6"/>
<text x="346.2" y="185.0" class="s" font-size="7.2" fill="#222" text-anchor="middle">19</text>
<line x1="360.1" y1="177.6" x2="360.1" y2="179.4" stroke="#555" stroke-width="0.6"/>
<text x="360.1" y="185.0" class="s" font-size="7.2" fill="#222" text-anchor="middle">20</text>
<line x1="373.2" y1="177.6" x2="373.2" y2="179.4" stroke="#555" stroke-width="0.6"/>
<text x="373.2" y="185.0" class="s" font-size="7.2" fill="#222" text-anchor="middle">21</text>
<line x1="385.2" y1="177.6" x2="385.2" y2="179.4" stroke="#555" stroke-width="0.6"/>
<text x="385.2" y="185.0" class="s" font-size="7.2" fill="#222" text-anchor="middle">22</text>
<line x1="395" y1="177.6" x2="395" y2="179.4" stroke="#555" stroke-width="0.6"/>
<text x="395" y="185.0" class="s" font-size="7.2" fill="#222" text-anchor="middle">23</text>
<line x1="405" y1="177.6" x2="405" y2="179.4" stroke="#555" stroke-width="0.6"/>
<text x="405" y="185.0" class="s" font-size="7.2" fill="#222" text-anchor="middle">24</text>
<text x="225.5" y="192.2" class="s" font-size="6.8" fill="#222" text-anchor="middle">Chromosome</text>
<text transform="translate(24.9 89.7) rotate(-90)" class="s" font-size="6.8" fill="#222" text-anchor="middle">-log10(P)</text>
</g>
<text x="6.5" y="15.8" class="r" font-size="22" fill="#000">A</text>
<path fill="#0000ff" d="M464.5 125.2h1.7v1.7h-1.7zM464.7 125.1h1.7v1.7h-1.7zM464.8 130.6h1.7v1.7h-1.7zM465 119.2h1.7v1.7h-1.7zM465.1 122.2h1.7v1.7h-1.7zM465.2 112.9h1.7v1.7h-1.7zM465.4 115.7h1.7v1.7h-1.7zM465.5 128h1.7v1.7h-1.7zM465.7 125.3h1.7v1.7h-1.7zM465.8 121.3h1.7v1.7h-1.7zM465.9 124.7h1.7v1.7h-1.7zM466.1 122.2h1.7v1.7h-1.7zM466.3 118.3h1.7v1.7h-1.7zM466.4 120.4h1.7v1.7h-1.7zM466.5 114.1h1.7v1.7h-1.7zM466.6 115.1h1.7v1.7h-1.7zM466.8 126.9h1.7v1.7h-1.7zM466.9 127.2h1.7v1.7h-1.7zM467.1 116.7h1.7v1.7h-1.7zM467.2 121h1.7v1.7h-1.7zM467.4 118.9h1.7v1.7h-1.7zM467.6 109.4h1.7v1.7h-1.7zM467.7 111.6h1.7v1.7h-1.7zM467.9 107.5h1.7v1.7h-1.7zM468 114.1h1.7v1.7h-1.7zM468.2 111.1h1.7v1.7h-1.7zM468.2 106h1.7v1.7h-1.7zM468.3 115.5h1.7v1.7h-1.7zM468.5 116h1.7v1.7h-1.7zM468.6 121.2h1.7v1.7h-1.7zM468.8 111.7h1.7v1.7h-1.7zM469 107.7h1.7v1.7h-1.7zM469.1 113.4h1.7v1.7h-1.7zM469.3 110.9h1.7v1.7h-1.7zM469.5 128.3h1.7v1.7h-1.7zM469.6 120.8h1.7v1.7h-1.7zM469.7 126.8h1.7v1.7h-1.7zM469.9 120h1.7v1.7h-1.7zM469.9 126.3h1.7v1.7h-1.7zM470.1 126.1h1.7v1.7h-1.7zM470.2 128.8h1.7v1.7h-1.7zM470.4 119.6h1.7v1.7h-1.7zM470.5 123.3h1.7v1.7h-1.7zM470.7 130.8h1.7v1.7h-1.7zM470.8 139h1.7v1.7h-1.7zM470.9 132h1.7v1.7h-1.7zM471.1 133.6h1.7v1.7h-1.7zM471.1 130.6h1.7v1.7h-1.7zM471.2 110.3h1.7v1.7h-1.7zM471.4 123.5h1.7v1.7h-1.7zM471.5 136.7h1.7v1.7h-1.7zM471.6 127h1.7v1.7h-1.7zM471.7 134.1h1.7v1.7h-1.7zM471.9 122.6h1.7v1.7h-1.7zM472.1 134h1.7v1.7h-1.7zM472.2 134.4h1.7v1.7h-1.7zM472.3 138.7h1.7v1.7h-1.7zM472.4 140.1h1.7v1.7h-1.7zM472.5 128.5h1.7v1.7h-1.7zM472.7 143.9h1.7v1.7h-1.7zM472.8 144.6h1.7v1.7h-1.7zM472.9 139.1h1.7v1.7h-1.7zM473 132.8h1.7v1.7h-1.7zM473.1 138h1.7v1.7h-1.7zM473.2 144.8h1.7v1.7h-1.7zM473.4 127h1.7v1.7h-1.7zM473.5 140.9h1.7v1.7h-1.7zM473.7 131.8h1.7v1.7h-1.7zM473.8 150.2h1.7v1.7h-1.7zM473.9 131.4h1.7v1.7h-1.7zM474.1 143.1h1.7v1.7h-1.7zM474.2 137.5h1.7v1.7h-1.7zM474.4 145h1.7v1.7h-1.7zM474.6 139.9h1.7v1.7h-1.7zM474.7 133.2h1.7v1.7h-1.7zM474.8 136.2h1.7v1.7h-1.7zM474.9 135.9h1.7v1.7h-1.7zM475.1 138.5h1.7v1.7h-1.7zM475.1 143.7h1.7v1.7h-1.7zM475.3 141.8h1.7v1.7h-1.7zM475.4 132.9h1.7v1.7h-1.7zM475.5 128.1h1.7v1.7h-1.7zM475.7 126.3h1.7v1.7h-1.7zM475.8 126.6h1.7v1.7h-1.7zM476 137.4h1.7v1.7h-1.7zM476.1 120.1h1.7v1.7h-1.7zM476.3 132.8h1.7v1.7h-1.7zM476.4 128.6h1.7v1.7h-1.7zM476.5 126.4h1.7v1.7h-1.7zM476.7 121h1.7v1.7h-1.7zM476.8 128.3h1.7v1.7h-1.7zM477 132.8h1.7v1.7h-1.7zM477.2 129.8h1.7v1.7h-1.7zM477.3 134.6h1.7v1.7h-1.7zM477.4 125.9h1.7v1.7h-1.7zM477.6 130.9h1.7v1.7h-1.7zM477.6 139.5h1.7v1.7h-1.7zM477.8 133h1.7v1.7h-1.7zM478 125.3h1.7v1.7h-1.7zM478.1 134.4h1.7v1.7h-1.7zM478.2 122.6h1.7v1.7h-1.7zM478.3 121h1.7v1.7h-1.7zM478.5 130.3h1.7v1.7h-1.7zM478.6 119.3h1.7v1.7h-1.7zM478.7 122.8h1.7v1.7h-1.7zM478.9 124.4h1.7v1.7h-1.7zM479 121.8h1.7v1.7h-1.7zM479.1 132.8h1.7v1.7h-1.7zM479.2 122.5h1.7v1.7h-1.7zM479.4 125.4h1.7v1.7h-1.7zM479.5 128.9h1.7v1.7h-1.7zM479.6 124.8h1.7v1.7h-1.7zM479.7 129.7h1.7v1.7h-1.7zM479.9 125.7h1.7v1.7h-1.7zM480 120.9h1.7v1.7h-1.7zM480.1 125.3h1.7v1.7h-1.7zM480.3 124.3h1.7v1.7h-1.7zM480.4 113h1.7v1.7h-1.7zM480.5 120.4h1.7v1.7h-1.7zM480.6 119h1.7v1.7h-1.7zM480.8 132.6h1.7v1.7h-1.7zM481 126.3h1.7v1.7h-1.7zM481.1 118.9h1.7v1.7h-1.7zM481.2 129h1.7v1.7h-1.7zM481.3 104.6h1.7v1.7h-1.7zM481.5 120.7h1.7v1.7h-1.7zM481.7 110.7h1.7v1.7h-1.7zM481.7 128.1h1.7v1.7h-1.7zM481.9 120.8h1.7v1.7h-1.7zM482 137.3h1.7v1.7h-1.7zM482.2 126.8h1.7v1.7h-1.7zM482.3 108.6h1.7v1.7h-1.7zM482.3 123.6h1.7v1.7h-1.7zM482.4 118.9h1.7v1.7h-1.7zM482.5 115.3h1.7v1.7h-1.7zM482.7 123.9h1.7v1.7h-1.7zM482.9 120h1.7v1.7h-1.7zM483 125h1.7v1.7h-1.7zM483.1 137.2h1.7v1.7h-1.7zM483.2 117.6h1.7v1.7h-1.7zM483.3 118.2h1.7v1.7h-1.7zM483.5 124.3h1.7v1.7h-1.7zM483.6 127.1h1.7v1.7h-1.7zM483.7 131.2h1.7v1.7h-1.7zM483.8 112.5h1.7v1.7h-1.7zM483.9 116.8h1.7v1.7h-1.7zM484 114.3h1.7v1.7h-1.7zM484.1 122.9h1.7v1.7h-1.7zM484.3 116.8h1.7v1.7h-1.7zM484.5 127.5h1.7v1.7h-1.7zM484.6 123.5h1.7v1.7h-1.7zM484.8 117h1.7v1.7h-1.7zM484.9 123h1.7v1.7h-1.7zM485 121.1h1.7v1.7h-1.7zM485.1 130.3h1.7v1.7h-1.7zM485.3 117.9h1.7v1.7h-1.7zM485.5 127.4h1.7v1.7h-1.7zM485.6 110.8h1.7v1.7h-1.7zM485.7 125.2h1.7v1.7h-1.7zM485.8 124.6h1.7v1.7h-1.7zM486 118.1h1.7v1.7h-1.7zM486.1 130.9h1.7v1.7h-1.7zM486.3 120.5h1.7v1.7h-1.7zM486.4 128.6h1.7v1.7h-1.7zM486.5 107.5h1.7v1.7h-1.7zM486.6 128.6h1.7v1.7h-1.7zM486.7 125.6h1.7v1.7h-1.7zM486.9 113.5h1.7v1.7h-1.7zM487 112.8h1.7v1.7h-1.7zM487.1 128.5h1.7v1.7h-1.7zM487.3 120.4h1.7v1.7h-1.7zM487.4 124.8h1.7v1.7h-1.7zM487.5 125.6h1.7v1.7h-1.7zM487.7 126.2h1.7v1.7h-1.7zM487.8 122.3h1.7v1.7h-1.7zM488 132h1.7v1.7h-1.7zM488.1 130.9h1.7v1.7h-1.7zM488.2 117.6h1.7v1.7h-1.7zM488.4 126.9h1.7v1.7h-1.7zM488.5 136.3h1.7v1.7h-1.7zM488.6 135.6h1.7v1.7h-1.7zM488.8 131.2h1.7v1.7h-1.7zM488.9 139.5h1.7v1.7h-1.7zM489 125.4h1.7v1.7h-1.7zM489.1 122.9h1.7v1.7h-1.7zM489.2 120.9h1.7v1.7h-1.7zM489.3 115.1h1.7v1.7h-1.7zM489.5 125.9h1.7v1.7h-1.7zM489.6 128.3h1.7v1.7h-1.7zM489.8 124.2h1.7v1.7h-1.7zM490 119.4h1.7v1.7h-1.7zM490.1 115.3h1.7v1.7h-1.7zM490.3 130.9h1.7v1.7h-1.7zM490.4 117.2h1.7v1.7h-1.7zM490.5 114.4h1.7v1.7h-1.7zM490.6 125.9h1.7v1.7h-1.7zM490.7 110.9h1.7v1.7h-1.7zM490.9 127.4h1.7v1.7h-1.7zM491 119.1h1.7v1.7h-1.7zM491.1 124.1h1.7v1.7h-1.7zM491.3 126.6h1.7v1.7h-1.7zM491.5 119.4h1.7v1.7h-1.7zM491.6 137.4h1.7v1.7h-1.7zM491.7 117.9h1.7v1.7h-1.7zM491.8 120.7h1.7v1.7h-1.7zM491.9 109.6h1.7v1.7h-1.7zM492 117.2h1.7v1.7h-1.7zM492.2 128.9h1.7v1.7h-1.7zM492.3 127.4h1.7v1.7h-1.7zM492.5 123.5h1.7v1.7h-1.7zM492.6 119.3h1.7v1.7h-1.7zM492.8 117.6h1.7v1.7h-1.7zM493 111.2h1.7v1.7h-1.7zM493.1 129.1h1.7v1.7h-1.7zM493.3 123.8h1.7v1.7h-1.7zM493.4 117.3h1.7v1.7h-1.7zM493.6 112.2h1.7v1.7h-1.7zM493.8 108.2h1.7v1.7h-1.7zM493.9 106.6h1.7v1.7h-1.7zM494 120.7h1.7v1.7h-1.7zM494.1 100.2h1.7v1.7h-1.7zM494.3 112h1.7v1.7h-1.7zM494.4 116.6h1.7v1.7h-1.7zM494.5 121.2h1.7v1.7h-1.7zM494.7 130.7h1.7v1.7h-1.7zM494.8 127.5h1.7v1.7h-1.7zM494.9 122.8h1.7v1.7h-1.7zM495.1 123.3h1.7v1.7h-1.7zM495.2 120.5h1.7v1.7h-1.7zM495.3 126h1.7v1.7h-1.7zM495.4 113.8h1.7v1.7h-1.7zM495.5 107.8h1.7v1.7h-1.7zM495.7 120h1.7v1.7h-1.7zM495.8 125.5h1.7v1.7h-1.7zM495.9 114.5h1.7v1.7h-1.7zM496 128.9h1.7v1.7h-1.7zM496.1 112.6h1.7v1.7h-1.7zM496.2 110.1h1.7v1.7h-1.7zM496.4 112.5h1.7v1.7h-1.7zM496.5 110.9h1.7v1.7h-1.7zM496.6 108h1.7v1.7h-1.7zM496.7 110.3h1.7v1.7h-1.7zM496.9 116.2h1.7v1.7h-1.7zM497 121.1h1.7v1.7h-1.7zM497.1 125h1.7v1.7h-1.7zM497.2 119.2h1.7v1.7h-1.7zM497.4 119.1h1.7v1.7h-1.7zM497.5 127.7h1.7v1.7h-1.7zM497.7 125.6h1.7v1.7h-1.7zM497.8 131.5h1.7v1.7h-1.7zM497.9 146.5h1.7v1.7h-1.7zM498 124h1.7v1.7h-1.7zM498.2 122.6h1.7v1.7h-1.7zM498.3 118.3h1.7v1.7h-1.7zM498.4 119.1h1.7v1.7h-1.7zM498.5 120.9h1.7v1.7h-1.7zM498.6 115.6h1.7v1.7h-1.7zM498.7 112.6h1.7v1.7h-1.7zM498.9 101.6h1.7v1.7h-1.7zM499 113.2h1.7v1.7h-1.7zM499.1 115h1.7v1.7h-1.7zM499.3 112.4h1.7v1.7h-1.7zM499.4 116.2h1.7v1.7h-1.7zM499.5 104.9h1.7v1.7h-1.7zM499.7 104h1.7v1.7h-1.7zM499.8 114.2h1.7v1.7h-1.7zM499.9 110.2h1.7v1.7h-1.7zM500.1 119.9h1.7v1.7h-1.7zM500.2 105.3h1.7v1.7h-1.7zM500.3 114h1.7v1.7h-1.7zM500.4 112.4h1.7v1.7h-1.7zM500.5 106.1h1.7v1.7h-1.7zM500.6 109.3h1.7v1.7h-1.7zM500.7 106.6h1.7v1.7h-1.7zM500.8 119.5h1.7v1.7h-1.7zM501 112.3h1.7v1.7h-1.7zM501.1 100.8h1.7v1.7h-1.7zM501.2 110.1h1.7v1.7h-1.7zM501.4 105.4h1.7v1.7h-1.7zM501.5 108.7h1.7v1.7h-1.7zM501.6 115.7h1.7v1.7h-1.7zM501.8 122.1h1.7v1.7h-1.7zM502 101.5h1.7v1.7h-1.7zM502.1 103.6h1.7v1.7h-1.7zM502.3 105h1.7v1.7h-1.7zM502.4 106.4h1.7v1.7h-1.7zM502.5 111.8h1.7v1.7h-1.7zM502.7 108.3h1.7v1.7h-1.7zM502.8 115.3h1.7v1.7h-1.7zM503 120h1.7v1.7h-1.7zM503.1 113.7h1.7v1.7h-1.7zM503.2 110h1.7v1.7h-1.7zM503.3 122.9h1.7v1.7h-1.7zM503.4 102.8h1.7v1.7h-1.7zM503.6 115.9h1.7v1.7h-1.7zM503.7 110.8h1.7v1.7h-1.7zM503.8 118h1.7v1.7h-1.7zM504 106.6h1.7v1.7h-1.7zM504.1 107.5h1.7v1.7h-1.7zM504.3 112.2h1.7v1.7h-1.7zM504.4 120.8h1.7v1.7h-1.7zM504.6 113.8h1.7v1.7h-1.7zM504.7 116.6h1.7v1.7h-1.7zM504.8 104.3h1.7v1.7h-1.7zM504.9 110h1.7v1.7h-1.7zM505 105.6h1.7v1.7h-1.7zM505.1 110.5h1.7v1.7h-1.7zM505.2 106.6h1.7v1.7h-1.7zM505.3 111.8h1.7v1.7h-1.7zM505.5 120.8h1.7v1.7h-1.7zM505.6 100.7h1.7v1.7h-1.7zM505.7 102.4h1.7v1.7h-1.7zM505.9 107.5h1.7v1.7h-1.7zM506 108.7h1.7v1.7h-1.7zM506.1 122.2h1.7v1.7h-1.7zM506.3 114.3h1.7v1.7h-1.7zM506.4 124.7h1.7v1.7h-1.7zM506.5 107.9h1.7v1.7h-1.7zM506.6 111.3h1.7v1.7h-1.7zM506.8 124.7h1.7v1.7h-1.7zM506.9 116h1.7v1.7h-1.7zM507.1 120.1h1.7v1.7h-1.7zM507.2 108.2h1.7v1.7h-1.7zM507.3 111.2h1.7v1.7h-1.7zM507.4 123.3h1.7v1.7h-1.7zM507.6 122.2h1.7v1.7h-1.7zM507.7 113.7h1.7v1.7h-1.7zM507.8 113.9h1.7v1.7h-1.7zM508 119.6h1.7v1.7h-1.7zM508.1 123.7h1.7v1.7h-1.7zM508.2 113.2h1.7v1.7h-1.7zM508.3 110h1.7v1.7h-1.7zM508.4 121.6h1.7v1.7h-1.7zM508.5 118.1h1.7v1.7h-1.7zM508.7 122.9h1.7v1.7h-1.7zM508.8 126.8h1.7v1.7h-1.7zM509 133.7h1.7v1.7h-1.7zM509.2 125.3h1.7v1.7h-1.7zM509.3 120h1.7v1.7h-1.7zM509.5 110.9h1.7v1.7h-1.7zM509.6 118h1.7v1.7h-1.7zM509.8 115.8h1.7v1.7h-1.7zM509.9 106.2h1.7v1.7h-1.7zM510.1 116h1.7v1.7h-1.7zM510.2 111.1h1.7v1.7h-1.7zM510.3 110.7h1.7v1.7h-1.7zM510.4 111.3h1.7v1.7h-1.7zM510.6 109.1h1.7v1.7h-1.7zM510.7 113.8h1.7v1.7h-1.7zM510.8 126.4h1.7v1.7h-1.7zM510.9 116.3h1.7v1.7h-1.7zM511 122.4h1.7v1.7h-1.7zM511.1 117.6h1.7v1.7h-1.7zM511.2 117.4h1.7v1.7h-1.7zM511.4 118.8h1.7v1.7h-1.7zM511.6 127.9h1.7v1.7h-1.7zM511.8 118.6h1.7v1.7h-1.7zM511.9 122.5h1.7v1.7h-1.7zM512 125.1h1.7v1.7h-1.7zM512.2 105.4h1.7v1.7h-1.7zM512.3 105.2h1.7v1.7h-1.7zM512.4 110h1.7v1.7h-1.7zM512.6 111.9h1.7v1.7h-1.7zM512.7 109.2h1.7v1.7h-1.7zM512.9 122.7h1.7v1.7h-1.7zM513 114.2h1.7v1.7h-1.7zM513.2 111.8h1.7v1.7h-1.7zM513.3 109.6h1.7v1.7h-1.7zM513.4 110h1.7v1.7h-1.7zM513.6 119.1h1.7v1.7h-1.7zM513.7 113.8h1.7v1.7h-1.7zM513.8 100.1h1.7v1.7h-1.7zM513.9 115.3h1.7v1.7h-1.7zM514.1 113.1h1.7v1.7h-1.7zM514.2 111.9h1.7v1.7h-1.7zM514.3 101.7h1.7v1.7h-1.7zM514.4 107.3h1.7v1.7h-1.7zM514.5 116.2h1.7v1.7h-1.7zM514.6 118.3h1.7v1.7h-1.7zM514.8 105.1h1.7v1.7h-1.7zM514.9 104.8h1.7v1.7h-1.7zM515.1 106.7h1.7v1.7h-1.7zM515.2 103.3h1.7v1.7h-1.7zM515.3 95.5h1.7v1.7h-1.7zM515.5 103.8h1.7v1.7h-1.7zM515.6 100.3h1.7v1.7h-1.7zM515.7 92.3h1.7v1.7h-1.7zM515.8 99.5h1.7v1.7h-1.7zM516 96.2h1.7v1.7h-1.7zM516.1 94.4h1.7v1.7h-1.7zM516.3 91.9h1.7v1.7h-1.7zM516.4 102.7h1.7v1.7h-1.7zM516.4 106.6h1.7v1.7h-1.7zM516.6 109.4h1.7v1.7h-1.7zM516.6 99.3h1.7v1.7h-1.7zM516.8 115.5h1.7v1.7h-1.7zM516.9 104.1h1.7v1.7h-1.7zM517.1 107.5h1.7v1.7h-1.7zM517.3 102.4h1.7v1.7h-1.7zM517.4 92.3h1.7v1.7h-1.7zM517.5 98.5h1.7v1.7h-1.7zM517.6 97h1.7v1.7h-1.7zM517.7 97.9h1.7v1.7h-1.7zM517.9 99.8h1.7v1.7h-1.7zM518 93.8h1.7v1.7h-1.7zM518.2 102.9h1.7v1.7h-1.7zM518.2 87.9h1.7v1.7h-1.7zM518.3 93.9h1.7v1.7h-1.7zM518.5 101.9h1.7v1.7h-1.7zM518.7 105h1.7v1.7h-1.7zM518.8 107.1h1.7v1.7h-1.7zM518.9 116.6h1.7v1.7h-1.7zM519.1 100.1h1.7v1.7h-1.7zM519.2 108.8h1.7v1.7h-1.7zM519.3 111.8h1.7v1.7h-1.7zM519.4 116.5h1.7v1.7h-1.7zM519.6 106.4h1.7v1.7h-1.7zM519.7 113.2h1.7v1.7h-1.7zM519.9 114.2h1.7v1.7h-1.7zM520 122.9h1.7v1.7h-1.7zM520.1 110.1h1.7v1.7h-1.7zM520.3 107.5h1.7v1.7h-1.7zM520.4 106.1h1.7v1.7h-1.7zM520.6 106.5h1.7v1.7h-1.7zM520.8 120.1h1.7v1.7h-1.7zM520.8 108.1h1.7v1.7h-1.7zM520.9 120.4h1.7v1.7h-1.7zM521.1 122.5h1.7v1.7h-1.7zM521.2 119.1h1.7v1.7h-1.7zM521.4 118.3h1.7v1.7h-1.7zM521.4 112.7h1.7v1.7h-1.7zM521.6 117.9h1.7v1.7h-1.7zM521.8 119.2h1.7v1.7h-1.7zM521.8 124.5h1.7v1.7h-1.7zM522 116.6h1.7v1.7h-1.7zM522.1 121.8h1.7v1.7h-1.7zM522.2 102.4h1.7v1.7h-1.7zM522.3 102.4h1.7v1.7h-1.7zM522.5 116h1.7v1.7h-1.7zM522.7 105h1.7v1.7h-1.7zM522.8 107.3h1.7v1.7h-1.7zM523 111.7h1.7v1.7h-1.7zM523.1 121.1h1.7v1.7h-1.7zM523.2 116.8h1.7v1.7h-1.7zM523.4 109h1.7v1.7h-1.7zM523.5 114h1.7v1.7h-1.7zM523.6 127.2h1.7v1.7h-1.7zM523.8 107.3h1.7v1.7h-1.7zM523.9 113.9h1.7v1.7h-1.7zM524 115.6h1.7v1.7h-1.7zM524.2 119.5h1.7v1.7h-1.7zM524.3 109.2h1.7v1.7h-1.7zM524.5 116.7h1.7v1.7h-1.7zM524.6 121.7h1.7v1.7h-1.7zM524.7 118.6h1.7v1.7h-1.7zM524.8 103.1h1.7v1.7h-1.7zM524.9 123h1.7v1.7h-1.7zM524.9 119.8h1.7v1.7h-1.7zM525.1 114h1.7v1.7h-1.7zM525.3 118.1h1.7v1.7h-1.7zM525.4 108.8h1.7v1.7h-1.7zM525.5 107.3h1.7v1.7h-1.7zM525.6 121.4h1.7v1.7h-1.7zM525.7 116.6h1.7v1.7h-1.7zM525.8 119.5h1.7v1.7h-1.7zM526 122.8h1.7v1.7h-1.7zM526.1 120.7h1.7v1.7h-1.7zM526.3 125.2h1.7v1.7h-1.7zM526.4 107.5h1.7v1.7h-1.7zM526.6 130.2h1.7v1.7h-1.7zM526.7 117h1.7v1.7h-1.7zM526.7 124.2h1.7v1.7h-1.7zM526.9 125.1h1.7v1.7h-1.7zM527 115.6h1.7v1.7h-1.7zM527.1 123.5h1.7v1.7h-1.7zM527.2 128.4h1.7v1.7h-1.7zM527.4 128.2h1.7v1.7h-1.7zM527.5 120.3h1.7v1.7h-1.7zM527.6 114.9h1.7v1.7h-1.7zM527.8 124.4h1.7v1.7h-1.7zM527.9 119.4h1.7v1.7h-1.7zM528.1 120.6h1.7v1.7h-1.7zM528.2 125.4h1.7v1.7h-1.7zM528.4 127.4h1.7v1.7h-1.7zM528.5 124.8h1.7v1.7h-1.7zM528.6 129.8h1.7v1.7h-1.7zM528.8 119.8h1.7v1.7h-1.7zM528.9 117.7h1.7v1.7h-1.7zM529.1 114.2h1.7v1.7h-1.7zM529.2 129.1h1.7v1.7h-1.7zM529.3 140.7h1.7v1.7h-1.7zM529.5 137.9h1.7v1.7h-1.7zM529.6 130.6h1.7v1.7h-1.7zM529.8 135.4h1.7v1.7h-1.7zM529.9 124.4h1.7v1.7h-1.7zM530 133.2h1.7v1.7h-1.7zM530.2 126.7h1.7v1.7h-1.7zM530.3 116.5h1.7v1.7h-1.7zM530.5 119.3h1.7v1.7h-1.7zM530.6 133.2h1.7v1.7h-1.7zM530.7 128.3h1.7v1.7h-1.7zM530.9 127.9h1.7v1.7h-1.7zM530.9 132.1h1.7v1.7h-1.7zM531.1 121.9h1.7v1.7h-1.7zM531.2 128.3h1.7v1.7h-1.7zM531.3 123h1.7v1.7h-1.7zM531.4 133.8h1.7v1.7h-1.7zM531.5 125.5h1.7v1.7h-1.7zM531.7 129.9h1.7v1.7h-1.7zM531.7 132.4h1.7v1.7h-1.7zM531.9 125.1h1.7v1.7h-1.7zM532 128.2h1.7v1.7h-1.7zM532.1 120.3h1.7v1.7h-1.7zM532.2 133.4h1.7v1.7h-1.7zM532.4 121.5h1.7v1.7h-1.7zM532.5 136.6h1.7v1.7h-1.7zM532.7 125.2h1.7v1.7h-1.7zM532.8 122.4h1.7v1.7h-1.7zM532.9 116.7h1.7v1.7h-1.7zM533 123.3h1.7v1.7h-1.7zM533.1 134.8h1.7v1.7h-1.7zM533.2 134.2h1.7v1.7h-1.7zM533.3 133h1.7v1.7h-1.7zM533.4 121.9h1.7v1.7h-1.7zM533.6 120.1h1.7v1.7h-1.7zM533.7 136.9h1.7v1.7h-1.7zM533.8 120.6h1.7v1.7h-1.7zM533.9 121.7h1.7v1.7h-1.7zM534.1 129.5h1.7v1.7h-1.7zM534.3 134h1.7v1.7h-1.7zM534.4 121.4h1.7v1.7h-1.7zM534.6 125.4h1.7v1.7h-1.7zM534.8 118.6h1.7v1.7h-1.7zM534.9 123.5h1.7v1.7h-1.7zM534.9 125.5h1.7v1.7h-1.7zM535.1 112.3h1.7v1.7h-1.7zM535.2 122.5h1.7v1.7h-1.7zM535.4 121.8h1.7v1.7h-1.7zM535.5 121.1h1.7v1.7h-1.7zM535.6 116.7h1.7v1.7h-1.7zM535.7 123.5h1.7v1.7h-1.7zM535.9 117.6h1.7v1.7h-1.7zM536 118.7h1.7v1.7h-1.7zM536.2 118.8h1.7v1.7h-1.7zM536.3 115h1.7v1.7h-1.7zM536.4 121.6h1.7v1.7h-1.7zM536.5 112.7h1.7v1.7h-1.7zM536.7 120.4h1.7v1.7h-1.7zM536.8 117.9h1.7v1.7h-1.7zM536.9 120.2h1.7v1.7h-1.7zM537 115.8h1.7v1.7h-1.7zM537.1 124.2h1.7v1.7h-1.7zM537.3 124.2h1.7v1.7h-1.7zM537.4 117.2h1.7v1.7h-1.7zM537.6 108.8h1.7v1.7h-1.7zM537.7 105.9h1.7v1.7h-1.7zM537.8 115.7h1.7v1.7h-1.7zM537.9 104.2h1.7v1.7h-1.7zM538.1 128.2h1.7v1.7h-1.7zM538.2 120.1h1.7v1.7h-1.7zM538.3 122.1h1.7v1.7h-1.7zM538.5 100.1h1.7v1.7h-1.7zM538.7 113.3h1.7v1.7h-1.7zM538.8 123.8h1.7v1.7h-1.7zM539 113.3h1.7v1.7h-1.7zM539.2 122h1.7v1.7h-1.7zM539.3 114.2h1.7v1.7h-1.7zM539.5 104h1.7v1.7h-1.7zM539.6 112.6h1.7v1.7h-1.7zM539.6 118.9h1.7v1.7h-1.7zM539.8 116h1.7v1.7h-1.7zM539.9 113.5h1.7v1.7h-1.7zM540.1 109.7h1.7v1.7h-1.7zM540.2 127.8h1.7v1.7h-1.7zM540.3 116.4h1.7v1.7h-1.7zM540.4 107.4h1.7v1.7h-1.7zM540.6 112.4h1.7v1.7h-1.7zM540.7 114.4h1.7v1.7h-1.7zM540.9 101.6h1.7v1.7h-1.7zM541 113h1.7v1.7h-1.7zM541.2 109.3h1.7v1.7h-1.7zM541.3 97.4h1.7v1.7h-1.7zM541.4 99h1.7v1.7h-1.7zM541.6 99.3h1.7v1.7h-1.7zM541.7 109.7h1.7v1.7h-1.7zM541.8 102h1.7v1.7h-1.7zM541.9 107.9h1.7v1.7h-1.7zM541.9 95.1h1.7v1.7h-1.7zM542 91.2h1.7v1.7h-1.7zM542.2 94.5h1.7v1.7h-1.7zM542.2 106h1.7v1.7h-1.7zM542.3 107.1h1.7v1.7h-1.7zM542.5 116h1.7v1.7h-1.7zM542.6 101.4h1.7v1.7h-1.7zM542.8 105.3h1.7v1.7h-1.7zM542.9 95.9h1.7v1.7h-1.7zM543.1 107.8h1.7v1.7h-1.7zM543.2 94.6h1.7v1.7h-1.7zM543.4 102.5h1.7v1.7h-1.7zM543.5 90.2h1.7v1.7h-1.7zM543.6 89.8h1.7v1.7h-1.7zM543.8 91.2h1.7v1.7h-1.7zM543.9 100.7h1.7v1.7h-1.7zM543.9 102.1h1.7v1.7h-1.7zM544.1 97h1.7v1.7h-1.7zM544.2 91.7h1.7v1.7h-1.7zM544.3 102.6h1.7v1.7h-1.7zM544.5 98.2h1.7v1.7h-1.7zM544.7 98.4h1.7v1.7h-1.7zM544.8 88.8h1.7v1.7h-1.7zM544.9 85.4h1.7v1.7h-1.7zM545 101.5h1.7v1.7h-1.7zM545.2 85.2h1.7v1.7h-1.7zM545.3 96.7h1.7v1.7h-1.7zM545.5 91.2h1.7v1.7h-1.7zM545.6 91.8h1.7v1.7h-1.7zM545.8 92.7h1.7v1.7h-1.7zM545.9 99.9h1.7v1.7h-1.7zM546.1 96.8h1.7v1.7h-1.7zM546.1 99.9h1.7v1.7h-1.7zM546.3 95.2h1.7v1.7h-1.7zM546.4 101.1h1.7v1.7h-1.7zM546.6 102.6h1.7v1.7h-1.7zM546.7 92.8h1.7v1.7h-1.7zM546.8 88.2h1.7v1.7h-1.7zM547 99.4h1.7v1.7h-1.7zM547.1 98.2h1.7v1.7h-1.7zM547.3 99.6h1.7v1.7h-1.7zM547.5 104.3h1.7v1.7h-1.7zM547.5 98.9h1.7v1.7h-1.7zM547.7 103.3h1.7v1.7h-1.7zM547.9 114.5h1.7v1.7h-1.7zM548.1 104.4h1.7v1.7h-1.7zM548.2 98.1h1.7v1.7h-1.7zM548.4 97.4h1.7v1.7h-1.7zM548.5 108.3h1.7v1.7h-1.7zM548.7 104.1h1.7v1.7h-1.7zM548.8 101.3h1.7v1.7h-1.7zM549 95h1.7v1.7h-1.7zM549.1 90.8h1.7v1.7h-1.7zM549.2 111.7h1.7v1.7h-1.7zM549.3 88.3h1.7v1.7h-1.7zM549.5 102.6h1.7v1.7h-1.7zM549.6 109.8h1.7v1.7h-1.7zM549.7 103.9h1.7v1.7h-1.7zM549.8 91.4h1.7v1.7h-1.7zM550 96.6h1.7v1.7h-1.7zM550.1 106.7h1.7v1.7h-1.7zM550.3 113.7h1.7v1.7h-1.7zM550.4 104h1.7v1.7h-1.7zM550.5 114.5h1.7v1.7h-1.7zM550.6 99.5h1.7v1.7h-1.7zM550.7 102.4h1.7v1.7h-1.7zM550.8 105.7h1.7v1.7h-1.7zM550.9 108.6h1.7v1.7h-1.7zM551.1 101.7h1.7v1.7h-1.7zM551.2 101.3h1.7v1.7h-1.7zM551.4 96.2h1.7v1.7h-1.7zM551.5 115h1.7v1.7h-1.7zM551.6 85.6h1.7v1.7h-1.7zM551.8 106.9h1.7v1.7h-1.7zM551.9 114.8h1.7v1.7h-1.7zM552.1 110h1.7v1.7h-1.7zM552.2 99.3h1.7v1.7h-1.7zM552.3 107h1.7v1.7h-1.7zM552.4 110h1.7v1.7h-1.7zM552.5 103.2h1.7v1.7h-1.7zM552.7 106.1h1.7v1.7h-1.7zM552.8 108.2h1.7v1.7h-1.7zM553 100.4h1.7v1.7h-1.7zM553.1 93.7h1.7v1.7h-1.7zM553.2 94.5h1.7v1.7h-1.7zM553.3 98.6h1.7v1.7h-1.7zM553.4 99.1h1.7v1.7h-1.7zM553.5 111.9h1.7v1.7h-1.7zM553.6 110.5h1.7v1.7h-1.7zM553.8 90.5h1.7v1.7h-1.7zM553.8 92.8h1.7v1.7h-1.7zM553.9 100.7h1.7v1.7h-1.7zM554 89.9h1.7v1.7h-1.7zM554.1 105.6h1.7v1.7h-1.7zM554.2 99.4h1.7v1.7h-1.7zM554.4 109h1.7v1.7h-1.7zM554.5 93.8h1.7v1.7h-1.7zM554.7 102.3h1.7v1.7h-1.7zM554.8 108.9h1.7v1.7h-1.7zM554.9 103.1h1.7v1.7h-1.7zM555 107.7h1.7v1.7h-1.7zM555.2 97.5h1.7v1.7h-1.7zM555.3 108.7h1.7v1.7h-1.7zM555.4 117.5h1.7v1.7h-1.7zM555.6 113.1h1.7v1.7h-1.7zM555.7 98.3h1.7v1.7h-1.7zM555.8 104.1h1.7v1.7h-1.7zM556 109.4h1.7v1.7h-1.7zM556.1 103.4h1.7v1.7h-1.7zM556.3 101h1.7v1.7h-1.7zM556.4 103.9h1.7v1.7h-1.7zM556.5 104.1h1.7v1.7h-1.7zM556.6 99.1h1.7v1.7h-1.7zM556.8 103.1h1.7v1.7h-1.7zM556.9 97.7h1.7v1.7h-1.7zM557 95.7h1.7v1.7h-1.7zM557.1 90.5h1.7v1.7h-1.7zM557.2 87.9h1.7v1.7h-1.7zM557.4 92h1.7v1.7h-1.7zM557.5 96.9h1.7v1.7h-1.7zM557.6 97.8h1.7v1.7h-1.7zM557.8 102.6h1.7v1.7h-1.7zM557.9 90.8h1.7v1.7h-1.7zM558.1 88.9h1.7v1.7h-1.7zM558.2 94.3h1.7v1.7h-1.7zM558.3 96.9h1.7v1.7h-1.7zM558.4 89.5h1.7v1.7h-1.7zM558.5 88.3h1.7v1.7h-1.7zM558.7 96.8h1.7v1.7h-1.7zM558.9 89h1.7v1.7h-1.7zM559 94.7h1.7v1.7h-1.7zM559.2 98.5h1.7v1.7h-1.7zM559.3 93.7h1.7v1.7h-1.7zM559.4 97.7h1.7v1.7h-1.7zM559.5 92.6h1.7v1.7h-1.7zM559.7 99.5h1.7v1.7h-1.7zM559.8 91.7h1.7v1.7h-1.7zM559.9 102.5h1.7v1.7h-1.7zM560.1 90.8h1.7v1.7h-1.7zM560.2 93.1h1.7v1.7h-1.7zM560.4 94.1h1.7v1.7h-1.7zM560.6 104.4h1.7v1.7h-1.7zM560.7 96.8h1.7v1.7h-1.7zM560.8 91.2h1.7v1.7h-1.7zM560.9 88.7h1.7v1.7h-1.7zM561 85.8h1.7v1.7h-1.7zM561.2 95.4h1.7v1.7h-1.7zM561.3 101.8h1.7v1.7h-1.7zM561.5 98.3h1.7v1.7h-1.7zM561.7 107.6h1.7v1.7h-1.7zM561.8 93.9h1.7v1.7h-1.7zM561.9 102.2h1.7v1.7h-1.7zM562.1 103.9h1.7v1.7h-1.7zM562.1 96.9h1.7v1.7h-1.7zM562.3 94.3h1.7v1.7h-1.7zM562.4 106.5h1.7v1.7h-1.7zM562.5 100.2h1.7v1.7h-1.7zM562.7 101.5h1.7v1.7h-1.7zM562.8 96.9h1.7v1.7h-1.7zM563 93.7h1.7v1.7h-1.7zM563.1 98.8h1.7v1.7h-1.7zM563.3 100.5h1.7v1.7h-1.7zM563.4 99.1h1.7v1.7h-1.7zM563.5 93.9h1.7v1.7h-1.7zM563.7 113.6h1.7v1.7h-1.7zM563.8 101.2h1.7v1.7h-1.7zM563.9 99.1h1.7v1.7h-1.7zM564 90.1h1.7v1.7h-1.7zM564.1 93.7h1.7v1.7h-1.7zM564.2 101h1.7v1.7h-1.7zM564.4 102.7h1.7v1.7h-1.7zM564.5 93.6h1.7v1.7h-1.7zM564.6 108.1h1.7v1.7h-1.7zM564.7 110.3h1.7v1.7h-1.7zM564.8 111.8h1.7v1.7h-1.7zM565 120.2h1.7v1.7h-1.7zM565.1 112h1.7v1.7h-1.7zM565.2 116.9h1.7v1.7h-1.7zM565.4 114.7h1.7v1.7h-1.7zM565.5 125.7h1.7v1.7h-1.7zM565.6 110.4h1.7v1.7h-1.7zM565.7 117.4h1.7v1.7h-1.7zM565.8 110.6h1.7v1.7h-1.7zM566 110.2h1.7v1.7h-1.7zM566.1 112.7h1.7v1.7h-1.7zM566.2 119.5h1.7v1.7h-1.7zM566.4 110h1.7v1.7h-1.7zM566.5 120.5h1.7v1.7h-1.7zM566.6 107.2h1.7v1.7h-1.7zM566.8 115.9h1.7v1.7h-1.7zM566.9 112.7h1.7v1.7h-1.7zM567.1 112.3h1.7v1.7h-1.7zM567.2 109.9h1.7v1.7h-1.7zM567.3 110.3h1.7v1.7h-1.7zM567.4 115.3h1.7v1.7h-1.7zM567.5 121.6h1.7v1.7h-1.7zM567.7 123.7h1.7v1.7h-1.7zM567.8 120.8h1.7v1.7h-1.7zM568 113.7h1.7v1.7h-1.7zM568.1 114.7h1.7v1.7h-1.7zM568.3 116.8h1.7v1.7h-1.7zM568.5 116.7h1.7v1.7h-1.7zM568.6 104.3h1.7v1.7h-1.7zM568.7 128.5h1.7v1.7h-1.7zM568.9 123.6h1.7v1.7h-1.7zM569 116.9h1.7v1.7h-1.7zM569.1 116.6h1.7v1.7h-1.7zM569.2 116.2h1.7v1.7h-1.7zM569.3 112.9h1.7v1.7h-1.7zM569.4 117.4h1.7v1.7h-1.7zM569.6 122.5h1.7v1.7h-1.7zM569.7 116.7h1.7v1.7h-1.7zM569.9 103.7h1.7v1.7h-1.7zM570 127h1.7v1.7h-1.7zM570.1 119.7h1.7v1.7h-1.7zM570.3 115.7h1.7v1.7h-1.7zM570.4 120.1h1.7v1.7h-1.7zM570.6 120.8h1.7v1.7h-1.7zM570.7 109.5h1.7v1.7h-1.7zM570.8 103.4h1.7v1.7h-1.7zM570.9 107.7h1.7v1.7h-1.7zM571.1 110.3h1.7v1.7h-1.7zM571.3 104.9h1.7v1.7h-1.7zM571.3 111.6h1.7v1.7h-1.7zM571.5 109.3h1.7v1.7h-1.7zM571.7 113.7h1.7v1.7h-1.7zM571.8 113.9h1.7v1.7h-1.7zM571.8 105h1.7v1.7h-1.7zM572 110.7h1.7v1.7h-1.7zM572.1 116.7h1.7v1.7h-1.7zM572.2 112.2h1.7v1.7h-1.7zM572.3 106.1h1.7v1.7h-1.7zM572.4 117.5h1.7v1.7h-1.7zM572.6 116.7h1.7v1.7h-1.7zM572.7 116h1.7v1.7h-1.7zM572.9 106.1h1.7v1.7h-1.7zM573 120.6h1.7v1.7h-1.7zM573.2 119.9h1.7v1.7h-1.7zM573.4 120.8h1.7v1.7h-1.7zM573.5 116.3h1.7v1.7h-1.7zM573.6 116.7h1.7v1.7h-1.7zM573.8 122.5h1.7v1.7h-1.7zM574 113.8h1.7v1.7h-1.7zM574.1 116.3h1.7v1.7h-1.7zM574.3 112.6h1.7v1.7h-1.7zM574.4 126.2h1.7v1.7h-1.7zM574.6 118.1h1.7v1.7h-1.7zM574.7 113.7h1.7v1.7h-1.7zM574.9 112.6h1.7v1.7h-1.7zM575 117.4h1.7v1.7h-1.7zM575.2 103.2h1.7v1.7h-1.7zM575.3 111.8h1.7v1.7h-1.7zM575.5 107.2h1.7v1.7h-1.7zM575.6 111.7h1.7v1.7h-1.7zM575.7 119.7h1.7v1.7h-1.7zM575.8 127.4h1.7v1.7h-1.7zM576 115.2h1.7v1.7h-1.7zM576 120.1h1.7v1.7h-1.7zM576.2 121.9h1.7v1.7h-1.7zM576.3 119.7h1.7v1.7h-1.7zM576.5 120h1.7v1.7h-1.7zM576.6 120.7h1.7v1.7h-1.7zM576.8 133.6h1.7v1.7h-1.7zM577 122.2h1.7v1.7h-1.7zM577.1 109.5h1.7v1.7h-1.7zM577.3 120.1h1.7v1.7h-1.7zM577.4 122.7h1.7v1.7h-1.7zM577.5 124.7h1.7v1.7h-1.7zM577.7 116.4h1.7v1.7h-1.7zM577.8 118.2h1.7v1.7h-1.7zM578 119.4h1.7v1.7h-1.7zM578.1 126.9h1.7v1.7h-1.7zM578.2 118.6h1.7v1.7h-1.7zM578.3 121.9h1.7v1.7h-1.7zM578.5 120.2h1.7v1.7h-1.7zM578.6 122.5h1.7v1.7h-1.7zM578.8 126.3h1.7v1.7h-1.7zM578.9 116.6h1.7v1.7h-1.7zM579 114.5h1.7v1.7h-1.7zM579.1 126.8h1.7v1.7h-1.7zM579.2 131h1.7v1.7h-1.7zM579.3 129.1h1.7v1.7h-1.7zM579.5 123.4h1.7v1.7h-1.7zM579.7 112.1h1.7v1.7h-1.7zM579.7 125.7h1.7v1.7h-1.7zM579.9 121.8h1.7v1.7h-1.7zM580 130.6h1.7v1.7h-1.7zM580 109h1.7v1.7h-1.7zM580.1 115.6h1.7v1.7h-1.7zM580.3 123.5h1.7v1.7h-1.7zM580.4 114.8h1.7v1.7h-1.7zM580.5 110.9h1.7v1.7h-1.7zM580.7 119.3h1.7v1.7h-1.7zM580.7 117.6h1.7v1.7h-1.7zM580.9 115.6h1.7v1.7h-1.7zM581 121.9h1.7v1.7h-1.7zM581.2 113.6h1.7v1.7h-1.7zM581.4 121.8h1.7v1.7h-1.7zM581.5 123.2h1.7v1.7h-1.7zM581.6 112.8h1.7v1.7h-1.7zM581.7 128.4h1.7v1.7h-1.7zM581.8 115.4h1.7v1.7h-1.7zM582 122.1h1.7v1.7h-1.7zM582.1 131.7h1.7v1.7h-1.7zM582.2 96.8h1.7v1.7h-1.7zM582.3 117.4h1.7v1.7h-1.7zM582.5 118.4h1.7v1.7h-1.7zM582.7 116.3h1.7v1.7h-1.7zM582.8 119.1h1.7v1.7h-1.7zM583 128.1h1.7v1.7h-1.7zM583.2 120.1h1.7v1.7h-1.7zM583.3 122.1h1.7v1.7h-1.7zM583.3 119.8h1.7v1.7h-1.7zM583.5 117.6h1.7v1.7h-1.7zM583.7 128h1.7v1.7h-1.7zM583.8 111.1h1.7v1.7h-1.7zM584 119.3h1.7v1.7h-1.7zM584.1 122.3h1.7v1.7h-1.7zM584.3 132.3h1.7v1.7h-1.7zM584.4 127.7h1.7v1.7h-1.7zM584.5 115.5h1.7v1.7h-1.7zM584.7 129.2h1.7v1.7h-1.7zM584.8 121.8h1.7v1.7h-1.7zM584.9 132.2h1.7v1.7h-1.7zM585 129.9h1.7v1.7h-1.7zM585.2 134h1.7v1.7h-1.7zM585.3 123h1.7v1.7h-1.7zM585.5 128.3h1.7v1.7h-1.7zM585.6 123.5h1.7v1.7h-1.7zM585.7 124.4h1.7v1.7h-1.7zM585.9 139.3h1.7v1.7h-1.7zM586.1 115.2h1.7v1.7h-1.7zM586.2 130h1.7v1.7h-1.7zM586.3 116.6h1.7v1.7h-1.7zM586.5 130.5h1.7v1.7h-1.7zM586.6 121.4h1.7v1.7h-1.7zM586.7 123.6h1.7v1.7h-1.7zM586.8 128.4h1.7v1.7h-1.7zM586.9 116.2h1.7v1.7h-1.7zM587.1 120.5h1.7v1.7h-1.7zM587.2 113.2h1.7v1.7h-1.7zM587.3 119h1.7v1.7h-1.7zM587.5 124.3h1.7v1.7h-1.7zM587.7 108.3h1.7v1.7h-1.7zM587.9 114.9h1.7v1.7h-1.7zM588 107.6h1.7v1.7h-1.7zM588.1 118.8h1.7v1.7h-1.7zM588.2 119.1h1.7v1.7h-1.7zM588.3 111.1h1.7v1.7h-1.7zM588.4 108.3h1.7v1.7h-1.7zM588.6 128.3h1.7v1.7h-1.7zM588.7 112.3h1.7v1.7h-1.7zM588.8 122.1h1.7v1.7h-1.7zM589 117.8h1.7v1.7h-1.7zM589.1 122.8h1.7v1.7h-1.7zM589.3 121.3h1.7v1.7h-1.7zM589.4 122.2h1.7v1.7h-1.7zM589.5 120h1.7v1.7h-1.7zM589.7 113.3h1.7v1.7h-1.7zM589.8 113.3h1.7v1.7h-1.7zM589.9 116.6h1.7v1.7h-1.7zM590 111.1h1.7v1.7h-1.7zM590.1 120.6h1.7v1.7h-1.7zM590.2 124.6h1.7v1.7h-1.7zM590.3 113.9h1.7v1.7h-1.7zM590.4 118.2h1.7v1.7h-1.7zM590.5 113.8h1.7v1.7h-1.7zM590.6 107.5h1.7v1.7h-1.7zM590.7 125.7h1.7v1.7h-1.7zM590.9 120.4h1.7v1.7h-1.7zM591 115.3h1.7v1.7h-1.7zM591.1 118.5h1.7v1.7h-1.7zM591.3 118.4h1.7v1.7h-1.7zM591.4 116.7h1.7v1.7h-1.7zM591.6 114.4h1.7v1.7h-1.7zM591.7 128h1.7v1.7h-1.7zM591.8 123.1h1.7v1.7h-1.7zM591.9 127h1.7v1.7h-1.7zM592 117.8h1.7v1.7h-1.7zM592.2 127.7h1.7v1.7h-1.7zM592.3 120.1h1.7v1.7h-1.7zM592.4 121h1.7v1.7h-1.7zM592.6 108h1.7v1.7h-1.7zM592.7 119.8h1.7v1.7h-1.7zM592.8 124.4h1.7v1.7h-1.7zM593 127.8h1.7v1.7h-1.7zM593.1 124.3h1.7v1.7h-1.7zM593.3 130.2h1.7v1.7h-1.7zM593.4 117.3h1.7v1.7h-1.7zM593.5 118.7h1.7v1.7h-1.7zM593.7 122.2h1.7v1.7h-1.7zM593.8 121.5h1.7v1.7h-1.7zM593.9 124.8h1.7v1.7h-1.7zM594.1 130.4h1.7v1.7h-1.7zM594.2 115h1.7v1.7h-1.7zM594.4 123.3h1.7v1.7h-1.7zM594.5 122.9h1.7v1.7h-1.7zM594.7 130.4h1.7v1.7h-1.7zM594.9 138.8h1.7v1.7h-1.7zM594.9 125.8h1.7v1.7h-1.7zM595.1 126.6h1.7v1.7h-1.7zM595.2 119.6h1.7v1.7h-1.7zM595.3 126.1h1.7v1.7h-1.7zM595.4 123.6h1.7v1.7h-1.7zM595.5 120h1.7v1.7h-1.7zM595.6 125.4h1.7v1.7h-1.7zM595.8 128.9h1.7v1.7h-1.7zM595.8 125.1h1.7v1.7h-1.7zM596 131.9h1.7v1.7h-1.7zM596.2 116h1.7v1.7h-1.7zM596.3 128.8h1.7v1.7h-1.7zM596.5 127.4h1.7v1.7h-1.7zM596.6 125.3h1.7v1.7h-1.7zM596.7 113.6h1.7v1.7h-1.7zM596.8 115.1h1.7v1.7h-1.7zM596.9 128.1h1.7v1.7h-1.7zM597.1 116.1h1.7v1.7h-1.7zM597.2 129.5h1.7v1.7h-1.7zM597.3 129.6h1.7v1.7h-1.7zM597.4 132.7h1.7v1.7h-1.7zM597.6 127.4h1.7v1.7h-1.7zM597.7 134.9h1.7v1.7h-1.7zM597.9 140.4h1.7v1.7h-1.7zM598 127.2h1.7v1.7h-1.7zM598.2 126.4h1.7v1.7h-1.7zM598.2 131h1.7v1.7h-1.7zM598.4 125.8h1.7v1.7h-1.7zM598.6 134.7h1.7v1.7h-1.7zM598.7 146h1.7v1.7h-1.7zM598.9 136.5h1.7v1.7h-1.7zM599 146h1.7v1.7h-1.7zM599.2 144h1.7v1.7h-1.7zM599.4 122.4h1.7v1.7h-1.7zM599.5 130.1h1.7v1.7h-1.7zM599.6 120.9h1.7v1.7h-1.7zM599.8 135.9h1.7v1.7h-1.7zM599.9 125.7h1.7v1.7h-1.7zM600.1 147.6h1.7v1.7h-1.7zM600.3 148h1.7v1.7h-1.7zM600.3 130.3h1.7v1.7h-1.7zM600.4 143.7h1.7v1.7h-1.7zM600.5 147.6h1.7v1.7h-1.7zM600.7 136.8h1.7v1.7h-1.7zM600.9 140.2h1.7v1.7h-1.7zM601 137.2h1.7v1.7h-1.7zM601.1 140.2h1.7v1.7h-1.7zM601.2 140.8h1.7v1.7h-1.7zM601.4 134.9h1.7v1.7h-1.7zM601.6 141.3h1.7v1.7h-1.7zM601.8 136.4h1.7v1.7h-1.7zM601.8 129.1h1.7v1.7h-1.7zM602 129.6h1.7v1.7h-1.7zM602 136.3h1.7v1.7h-1.7zM602.2 122.4h1.7v1.7h-1.7zM602.3 144.9h1.7v1.7h-1.7zM602.4 145.7h1.7v1.7h-1.7zM602.5 132.9h1.7v1.7h-1.7zM602.7 143.4h1.7v1.7h-1.7zM602.8 141.1h1.7v1.7h-1.7zM602.9 142.2h1.7v1.7h-1.7zM603 131.3h1.7v1.7h-1.7zM603.1 133h1.7v1.7h-1.7zM603.2 130.9h1.7v1.7h-1.7zM603.4 131.8h1.7v1.7h-1.7zM603.5 131.8h1.7v1.7h-1.7zM603.6 143h1.7v1.7h-1.7zM603.8 143.6h1.7v1.7h-1.7zM603.9 145.8h1.7v1.7h-1.7zM604.1 141.5h1.7v1.7h-1.7zM604.3 139.9h1.7v1.7h-1.7zM604.4 138.8h1.7v1.7h-1.7zM604.5 153.3h1.7v1.7h-1.7zM604.7 135.8h1.7v1.7h-1.7zM604.9 136.3h1.7v1.7h-1.7zM605 141.3h1.7v1.7h-1.7zM605.2 142.1h1.7v1.7h-1.7zM605.3 137.2h1.7v1.7h-1.7zM605.4 151.7h1.7v1.7h-1.7zM605.6 132.2h1.7v1.7h-1.7zM605.7 148.1h1.7v1.7h-1.7zM605.9 134.9h1.7v1.7h-1.7zM606.1 131.7h1.7v1.7h-1.7zM606.2 144.6h1.7v1.7h-1.7zM606.3 147.6h1.7v1.7h-1.7zM606.5 141.8h1.7v1.7h-1.7zM606.6 141.2h1.7v1.7h-1.7zM606.7 148.7h1.7v1.7h-1.7zM606.8 146.1h1.7v1.7h-1.7zM607 153.1h1.7v1.7h-1.7zM607.1 153.7h1.7v1.7h-1.7zM607.2 149.2h1.7v1.7h-1.7zM607.3 151.6h1.7v1.7h-1.7zM607.4 144.2h1.7v1.7h-1.7zM607.6 161.3h1.7v1.7h-1.7zM607.8 141.3h1.7v1.7h-1.7zM608 146.2h1.7v1.7h-1.7zM608.1 152.5h1.7v1.7h-1.7zM608.3 158.2h1.7v1.7h-1.7zM608.4 147.7h1.7v1.7h-1.7zM608.5 150.6h1.7v1.7h-1.7zM608.7 152.1h1.7v1.7h-1.7zM608.9 140.4h1.7v1.7h-1.7zM609 149.5h1.7v1.7h-1.7zM609.1 151.9h1.7v1.7h-1.7zM609.2 139.2h1.7v1.7h-1.7zM609.4 145h1.7v1.7h-1.7zM609.5 156.2h1.7v1.7h-1.7zM609.6 152.8h1.7v1.7h-1.7zM609.7 159.6h1.7v1.7h-1.7zM609.8 147.2h1.7v1.7h-1.7zM609.9 150h1.7v1.7h-1.7zM610 141.6h1.7v1.7h-1.7zM610.1 153.5h1.7v1.7h-1.7zM610.3 155.8h1.7v1.7h-1.7zM610.4 156.3h1.7v1.7h-1.7zM610.5 139.9h1.7v1.7h-1.7zM610.6 158.1h1.7v1.7h-1.7zM610.7 160.7h1.7v1.7h-1.7zM610.9 148.2h1.7v1.7h-1.7zM611.1 155.5h1.7v1.7h-1.7zM611.2 145.1h1.7v1.7h-1.7zM611.3 157h1.7v1.7h-1.7zM611.4 143.7h1.7v1.7h-1.7zM611.6 155.7h1.7v1.7h-1.7zM611.7 157.1h1.7v1.7h-1.7zM611.8 155.4h1.7v1.7h-1.7zM611.9 145.7h1.7v1.7h-1.7zM612 161.1h1.7v1.7h-1.7zM612.2 154.6h1.7v1.7h-1.7zM612.3 156.2h1.7v1.7h-1.7zM612.5 152.9h1.7v1.7h-1.7zM612.6 156.1h1.7v1.7h-1.7zM612.7 153.9h1.7v1.7h-1.7zM612.8 150.4h1.7v1.7h-1.7zM612.9 152.9h1.7v1.7h-1.7zM613 159.9h1.7v1.7h-1.7zM613.1 164.3h1.7v1.7h-1.7zM613.2 158.8h1.7v1.7h-1.7zM613.4 158.7h1.7v1.7h-1.7zM613.5 158.3h1.7v1.7h-1.7zM613.6 160.2h1.7v1.7h-1.7zM613.7 159.7h1.7v1.7h-1.7zM613.8 160.8h1.7v1.7h-1.7zM613.9 163.3h1.7v1.7h-1.7zM614 162.7h1.7v1.7h-1.7zM614.2 156h1.7v1.7h-1.7zM614.3 164.4h1.7v1.7h-1.7zM614.5 162.4h1.7v1.7h-1.7zM614.6 164.9h1.7v1.7h-1.7zM614.7 161.1h1.7v1.7h-1.7zM614.9 163.3h1.7v1.7h-1.7zM615.1 161.8h1.7v1.7h-1.7zM615.2 165.5h1.7v1.7h-1.7zM615.4 163.9h1.7v1.7h-1.7zM615.5 163.7h1.7v1.7h-1.7zM615.6 166.4h1.7v1.7h-1.7zM615.7 163.4h1.7v1.7h-1.7zM615.9 165.1h1.7v1.7h-1.7zM616 166.8h1.7v1.7h-1.7zM616.1 166h1.7v1.7h-1.7zM616.2 167h1.7v1.7h-1.7zM616.3 167h1.7v1.7h-1.7zM616.4 166.6h1.7v1.7h-1.7zM616.6 167.3h1.7v1.7h-1.7zM616.7 166.5h1.7v1.7h-1.7zM616.8 167.2h1.7v1.7h-1.7zM616.9 167.1h1.7v1.7h-1.7zM617 167.2h1.7v1.7h-1.7zM617.1 166.6h1.7v1.7h-1.7zM617.3 167h1.7v1.7h-1.7zM617.4 166.8h1.7v1.7h-1.7zM617.5 166.7h1.7v1.7h-1.7zM617.6 165.8h1.7v1.7h-1.7zM617.7 166.6h1.7v1.7h-1.7zM617.8 167h1.7v1.7h-1.7zM618 167.4h1.7v1.7h-1.7zM618.1 167.5h1.7v1.7h-1.7zM618.3 166.4h1.7v1.7h-1.7zM618.4 166.8h1.7v1.7h-1.7zM618.5 167.6h1.7v1.7h-1.7zM618.6 167.5h1.7v1.7h-1.7zM618.7 166.5h1.7v1.7h-1.7zM618.9 167h1.7v1.7h-1.7zM619.1 165.7h1.7v1.7h-1.7zM619.2 166.6h1.7v1.7h-1.7zM619.3 166.6h1.7v1.7h-1.7zM619.5 167.2h1.7v1.7h-1.7zM619.6 165.9h1.7v1.7h-1.7zM619.8 166.9h1.7v1.7h-1.7zM619.8 167h1.7v1.7h-1.7zM620 166h1.7v1.7h-1.7zM620.1 166.8h1.7v1.7h-1.7zM620.2 167.1h1.7v1.7h-1.7zM620.4 167h1.7v1.7h-1.7zM620.5 166.4h1.7v1.7h-1.7zM620.7 167.3h1.7v1.7h-1.7zM620.8 166.6h1.7v1.7h-1.7zM620.9 167.4h1.7v1.7h-1.7zM621.1 165.9h1.7v1.7h-1.7zM621.2 165.7h1.7v1.7h-1.7zM621.3 166.2h1.7v1.7h-1.7zM621.5 166.3h1.7v1.7h-1.7zM621.6 167h1.7v1.7h-1.7zM621.7 166.6h1.7v1.7h-1.7zM621.8 166.3h1.7v1.7h-1.7zM622 165.6h1.7v1.7h-1.7zM622.2 166.9h1.7v1.7h-1.7zM622.2 166.8h1.7v1.7h-1.7zM622.4 166.3h1.7v1.7h-1.7zM622.5 166.1h1.7v1.7h-1.7zM622.6 166.4h1.7v1.7h-1.7zM622.7 166.2h1.7v1.7h-1.7zM622.9 166.9h1.7v1.7h-1.7zM623 165.7h1.7v1.7h-1.7zM623.1 166.9h1.7v1.7h-1.7zM623.2 167.1h1.7v1.7h-1.7zM623.3 167.6h1.7v1.7h-1.7zM623.5 167.2h1.7v1.7h-1.7zM623.6 167.5h1.7v1.7h-1.7zM623.8 167.1h1.7v1.7h-1.7zM623.9 167.3h1.7v1.7h-1.7zM623.9 166.7h1.7v1.7h-1.7zM624.1 167.3h1.7v1.7h-1.7zM624.2 167.3h1.7v1.7h-1.7zM624.3 167.6h1.7v1.7h-1.7zM624.5 167.4h1.7v1.7h-1.7zM624.6 166.8h1.7v1.7h-1.7zM624.8 167.3h1.7v1.7h-1.7zM624.9 166.4h1.7v1.7h-1.7zM625.1 166.7h1.7v1.7h-1.7zM625.2 167.3h1.7v1.7h-1.7zM625.3 167.1h1.7v1.7h-1.7zM625.4 167.1h1.7v1.7h-1.7zM625.6 166.6h1.7v1.7h-1.7zM625.7 167h1.7v1.7h-1.7zM625.9 166.6h1.7v1.7h-1.7zM626 166.7h1.7v1.7h-1.7zM626.1 166.1h1.7v1.7h-1.7zM626.2 165.9h1.7v1.7h-1.7zM626.3 167h1.7v1.7h-1.7zM626.5 166.8h1.7v1.7h-1.7zM626.6 165.4h1.7v1.7h-1.7zM626.8 166.3h1.7v1.7h-1.7zM626.9 165.8h1.7v1.7h-1.7zM627 165.8h1.7v1.7h-1.7zM627.1 164.9h1.7v1.7h-1.7zM627.3 166.6h1.7v1.7h-1.7zM627.5 166.9h1.7v1.7h-1.7zM627.6 167.4h1.7v1.7h-1.7zM627.7 167.2h1.7v1.7h-1.7zM627.8 166.8h1.7v1.7h-1.7zM627.9 167.5h1.7v1.7h-1.7zM628 166.8h1.7v1.7h-1.7zM628.1 166.9h1.7v1.7h-1.7zM628.3 166.5h1.7v1.7h-1.7zM628.4 165.7h1.7v1.7h-1.7zM628.6 166.8h1.7v1.7h-1.7zM628.7 166.3h1.7v1.7h-1.7zM628.8 166.6h1.7v1.7h-1.7zM629 167h1.7v1.7h-1.7zM629.1 165.8h1.7v1.7h-1.7zM629.3 166.9h1.7v1.7h-1.7zM629.4 166.2h1.7v1.7h-1.7zM629.5 167h1.7v1.7h-1.7zM629.6 165.9h1.7v1.7h-1.7zM629.7 165.6h1.7v1.7h-1.7zM629.8 166.5h1.7v1.7h-1.7zM630 166.8h1.7v1.7h-1.7zM630.1 165.7h1.7v1.7h-1.7zM630.3 167.1h1.7v1.7h-1.7zM630.4 166.6h1.7v1.7h-1.7zM630.5 165.4h1.7v1.7h-1.7zM630.6 166.5h1.7v1.7h-1.7zM630.7 167.1h1.7v1.7h-1.7zM630.9 167.1h1.7v1.7h-1.7zM631 167h1.7v1.7h-1.7zM631.1 166.6h1.7v1.7h-1.7zM631.2 167h1.7v1.7h-1.7zM631.3 166.3h1.7v1.7h-1.7zM631.4 166h1.7v1.7h-1.7zM631.6 166.5h1.7v1.7h-1.7zM631.7 167.3h1.7v1.7h-1.7zM631.8 167h1.7v1.7h-1.7zM631.9 166.8h1.7v1.7h-1.7zM632 167.2h1.7v1.7h-1.7zM632.1 166.6h1.7v1.7h-1.7zM632.3 166h1.7v1.7h-1.7zM632.5 166.5h1.7v1.7h-1.7zM632.6 167.2h1.7v1.7h-1.7zM632.7 166h1.7v1.7h-1.7zM632.9 167.5h1.7v1.7h-1.7zM633 167.3h1.7v1.7h-1.7zM633.2 166.8h1.7v1.7h-1.7zM633.2 166.8h1.7v1.7h-1.7zM633.4 167.2h1.7v1.7h-1.7zM633.5 166.7h1.7v1.7h-1.7zM633.7 167h1.7v1.7h-1.7zM633.9 166.3h1.7v1.7h-1.7zM634 167h1.7v1.7h-1.7zM634.2 166.7h1.7v1.7h-1.7zM634.3 166.7h1.7v1.7h-1.7zM634.5 167h1.7v1.7h-1.7zM634.6 166.6h1.7v1.7h-1.7zM634.7 166.1h1.7v1.7h-1.7zM634.8 166.4h1.7v1.7h-1.7zM635 167h1.7v1.7h-1.7zM635 166.6h1.7v1.7h-1.7zM635.2 166.7h1.7v1.7h-1.7zM635.3 166.3h1.7v1.7h-1.7zM635.5 165.8h1.7v1.7h-1.7zM635.6 165.8h1.7v1.7h-1.7zM635.7 166.6h1.7v1.7h-1.7zM635.9 166.6h1.7v1.7h-1.7zM636.1 166.6h1.7v1.7h-1.7zM636.2 165.9h1.7v1.7h-1.7zM636.4 166.7h1.7v1.7h-1.7zM636.5 165.5h1.7v1.7h-1.7zM636.6 166h1.7v1.7h-1.7zM636.7 166.9h1.7v1.7h-1.7zM636.8 165h1.7v1.7h-1.7zM637 165.1h1.7v1.7h-1.7zM637.1 165.9h1.7v1.7h-1.7zM637.3 166.6h1.7v1.7h-1.7zM637.4 166.6h1.7v1.7h-1.7zM637.5 167h1.7v1.7h-1.7zM637.6 166.6h1.7v1.7h-1.7zM637.6 166.9h1.7v1.7h-1.7zM637.7 166.9h1.7v1.7h-1.7zM637.8 166.4h1.7v1.7h-1.7zM637.9 165h1.7v1.7h-1.7zM638.1 165.6h1.7v1.7h-1.7zM638.2 166.4h1.7v1.7h-1.7zM638.4 166.1h1.7v1.7h-1.7zM638.5 166.4h1.7v1.7h-1.7zM638.6 166.8h1.7v1.7h-1.7zM638.8 166.1h1.7v1.7h-1.7zM638.9 165.9h1.7v1.7h-1.7zM639.1 165.5h1.7v1.7h-1.7zM639.2 165.3h1.7v1.7h-1.7zM639.4 162.2h1.7v1.7h-1.7zM639.5 163.7h1.7v1.7h-1.7zM639.6 164h1.7v1.7h-1.7zM639.7 163.8h1.7v1.7h-1.7zM639.8 162.5h1.7v1.7h-1.7zM639.9 165.8h1.7v1.7h-1.7zM640.1 163.1h1.7v1.7h-1.7zM640.2 164.9h1.7v1.7h-1.7zM640.3 165h1.7v1.7h-1.7zM640.4 164.5h1.7v1.7h-1.7zM640.5 163h1.7v1.7h-1.7zM640.6 164.2h1.7v1.7h-1.7zM640.8 163.6h1.7v1.7h-1.7zM640.9 163.3h1.7v1.7h-1.7zM641 163.9h1.7v1.7h-1.7zM641.1 158.7h1.7v1.7h-1.7zM641.2 164.2h1.7v1.7h-1.7zM641.3 157.7h1.7v1.7h-1.7zM641.4 164.7h1.7v1.7h-1.7zM641.5 161.5h1.7v1.7h-1.7zM641.7 164.2h1.7v1.7h-1.7zM641.8 164.1h1.7v1.7h-1.7zM641.9 164.9h1.7v1.7h-1.7zM642.1 164.1h1.7v1.7h-1.7zM642.2 165.2h1.7v1.7h-1.7zM642.4 162.3h1.7v1.7h-1.7zM642.5 164.4h1.7v1.7h-1.7zM642.7 164h1.7v1.7h-1.7zM642.8 163.5h1.7v1.7h-1.7zM642.9 165.7h1.7v1.7h-1.7zM643.1 165.6h1.7v1.7h-1.7zM643.2 164.3h1.7v1.7h-1.7zM643.3 163.4h1.7v1.7h-1.7zM643.4 163.8h1.7v1.7h-1.7zM643.6 164.9h1.7v1.7h-1.7zM643.6 161.3h1.7v1.7h-1.7zM643.7 164.4h1.7v1.7h-1.7zM643.9 162.4h1.7v1.7h-1.7zM644 164.6h1.7v1.7h-1.7zM644.1 165.1h1.7v1.7h-1.7zM644.2 164.5h1.7v1.7h-1.7zM644.3 161.2h1.7v1.7h-1.7zM644.4 163.8h1.7v1.7h-1.7zM644.6 161.8h1.7v1.7h-1.7zM644.8 164.4h1.7v1.7h-1.7zM644.9 161.5h1.7v1.7h-1.7zM645 161.5h1.7v1.7h-1.7zM645.1 163.1h1.7v1.7h-1.7zM645.2 163.4h1.7v1.7h-1.7zM645.4 162h1.7v1.7h-1.7zM645.5 160.6h1.7v1.7h-1.7zM645.6 160.3h1.7v1.7h-1.7zM645.7 163h1.7v1.7h-1.7zM645.9 161.9h1.7v1.7h-1.7zM646 162.9h1.7v1.7h-1.7zM646.2 157.4h1.7v1.7h-1.7zM646.3 163h1.7v1.7h-1.7zM646.5 161.5h1.7v1.7h-1.7zM646.7 161.7h1.7v1.7h-1.7zM646.8 163.6h1.7v1.7h-1.7zM647 161.3h1.7v1.7h-1.7zM647.2 161.3h1.7v1.7h-1.7zM647.3 162h1.7v1.7h-1.7zM647.4 159.6h1.7v1.7h-1.7zM647.6 160.4h1.7v1.7h-1.7zM647.8 160.7h1.7v1.7h-1.7zM647.9 162.1h1.7v1.7h-1.7zM648 160.3h1.7v1.7h-1.7zM648.1 157.5h1.7v1.7h-1.7zM648.3 161.3h1.7v1.7h-1.7zM648.4 163.4h1.7v1.7h-1.7zM648.5 160.2h1.7v1.7h-1.7zM648.7 163.4h1.7v1.7h-1.7zM648.8 160.7h1.7v1.7h-1.7zM649 163.2h1.7v1.7h-1.7zM649.1 158.3h1.7v1.7h-1.7zM649.2 157.8h1.7v1.7h-1.7zM649.3 155.8h1.7v1.7h-1.7zM649.4 161.9h1.7v1.7h-1.7zM649.6 161.7h1.7v1.7h-1.7zM649.7 160.3h1.7v1.7h-1.7zM649.8 161.3h1.7v1.7h-1.7zM650 161.1h1.7v1.7h-1.7zM650.2 157.8h1.7v1.7h-1.7zM650.3 158.6h1.7v1.7h-1.7zM650.5 159.7h1.7v1.7h-1.7zM650.6 162h1.7v1.7h-1.7zM650.7 157.5h1.7v1.7h-1.7zM650.9 159.8h1.7v1.7h-1.7zM651 159h1.7v1.7h-1.7zM651.2 160.3h1.7v1.7h-1.7zM651.3 161.6h1.7v1.7h-1.7zM651.5 162.7h1.7v1.7h-1.7zM651.6 161.8h1.7v1.7h-1.7zM651.7 158.9h1.7v1.7h-1.7zM651.9 158.9h1.7v1.7h-1.7zM652 162.7h1.7v1.7h-1.7zM652.1 161h1.7v1.7h-1.7zM652.3 162.1h1.7v1.7h-1.7zM652.4 161.3h1.7v1.7h-1.7zM652.5 160.3h1.7v1.7h-1.7zM652.6 159.8h1.7v1.7h-1.7zM652.7 162.5h1.7v1.7h-1.7zM652.8 161.6h1.7v1.7h-1.7zM652.9 162h1.7v1.7h-1.7zM653.1 162.4h1.7v1.7h-1.7zM653.3 161.2h1.7v1.7h-1.7zM653.4 162.8h1.7v1.7h-1.7zM653.5 163.6h1.7v1.7h-1.7zM653.7 161h1.7v1.7h-1.7zM653.8 160.3h1.7v1.7h-1.7zM653.9 164.2h1.7v1.7h-1.7zM654 161.4h1.7v1.7h-1.7zM654.1 164h1.7v1.7h-1.7zM654.2 164.2h1.7v1.7h-1.7zM654.3 161.9h1.7v1.7h-1.7zM654.4 164.3h1.7v1.7h-1.7zM654.5 165.5h1.7v1.7h-1.7zM654.6 165.4h1.7v1.7h-1.7zM654.8 166.4h1.7v1.7h-1.7zM654.9 166h1.7v1.7h-1.7zM655 164.5h1.7v1.7h-1.7zM655.1 164.9h1.7v1.7h-1.7zM655.2 160.5h1.7v1.7h-1.7zM655.3 165.3h1.7v1.7h-1.7zM655.4 162.9h1.7v1.7h-1.7zM655.6 162.9h1.7v1.7h-1.7zM655.7 162.8h1.7v1.7h-1.7zM655.8 164.7h1.7v1.7h-1.7zM655.9 166.2h1.7v1.7h-1.7zM656.1 166.6h1.7v1.7h-1.7zM656.3 164.9h1.7v1.7h-1.7zM656.4 165h1.7v1.7h-1.7zM656.5 164.6h1.7v1.7h-1.7zM656.6 161.3h1.7v1.7h-1.7zM467.5 111.1h1.7v1.7h-1.7zM467.8 109.3h1.7v1.7h-1.7zM468 107.5h1.7v1.7h-1.7zM467.9 105.8h1.7v1.7h-1.7zM468.9 104h1.7v1.7h-1.7zM467.8 102.3h1.7v1.7h-1.7zM468.3 100.5h1.7v1.7h-1.7zM467.8 98.7h1.7v1.7h-1.7zM478.6 121.3h1.7v1.7h-1.7zM477.9 118.5h1.7v1.7h-1.7zM478.7 115.6h1.7v1.7h-1.7zM478.5 112.8h1.7v1.7h-1.7zM478.2 109.9h1.7v1.7h-1.7zM477.9 107.1h1.7v1.7h-1.7zM479 104.2h1.7v1.7h-1.7zM478.2 101.4h1.7v1.7h-1.7zM478.9 98.5h1.7v1.7h-1.7zM477.5 95.7h1.7v1.7h-1.7zM490.1 147h1.7v1.7h-1.7zM491.2 143.3h1.7v1.7h-1.7zM491.2 139.6h1.7v1.7h-1.7zM490.6 135.9h1.7v1.7h-1.7zM490.9 132.2h1.7v1.7h-1.7zM490.8 128.5h1.7v1.7h-1.7zM504.5 114.1h1.7v1.7h-1.7zM504.7 110.8h1.7v1.7h-1.7zM504.2 107.5h1.7v1.7h-1.7zM504.1 104.2h1.7v1.7h-1.7zM504.6 100.9h1.7v1.7h-1.7zM504.9 97.6h1.7v1.7h-1.7zM504.7 94.3h1.7v1.7h-1.7zM504.1 91h1.7v1.7h-1.7zM504.9 87.7h1.7v1.7h-1.7zM504.6 84.4h1.7v1.7h-1.7zM518.5 103.9h1.7v1.7h-1.7zM518.1 101.6h1.7v1.7h-1.7zM518.1 99.3h1.7v1.7h-1.7zM518.6 97h1.7v1.7h-1.7zM518.7 94.7h1.7v1.7h-1.7zM517.7 92.5h1.7v1.7h-1.7zM517.8 90.2h1.7v1.7h-1.7zM518.5 87.9h1.7v1.7h-1.7zM518.3 85.6h1.7v1.7h-1.7zM518.2 83.3h1.7v1.7h-1.7zM542.1 100.8h1.7v1.7h-1.7zM542.9 97.6h1.7v1.7h-1.7zM542.6 94.3h1.7v1.7h-1.7zM542.6 91.1h1.7v1.7h-1.7zM542.7 87.9h1.7v1.7h-1.7zM542.3 84.7h1.7v1.7h-1.7zM542.7 81.4h1.7v1.7h-1.7zM542.6 78.2h1.7v1.7h-1.7zM561 95.7h1.7v1.7h-1.7zM560.9 92.7h1.7v1.7h-1.7zM560.3 89.8h1.7v1.7h-1.7zM560.5 86.9h1.7v1.7h-1.7zM560.7 83.9h1.7v1.7h-1.7zM561.2 81h1.7v1.7h-1.7zM560.5 78.1h1.7v1.7h-1.7zM561.2 75.1h1.7v1.7h-1.7zM565.8 152.1h1.7v1.7h-1.7zM565.8 148.7h1.7v1.7h-1.7zM566.3 145.3h1.7v1.7h-1.7zM565.4 141.9h1.7v1.7h-1.7zM565.6 138.5h1.7v1.7h-1.7zM565.9 135h1.7v1.7h-1.7zM565.6 131.6h1.7v1.7h-1.7zM565.8 128.2h1.7v1.7h-1.7zM565.4 124.8h1.7v1.7h-1.7zM566 121.3h1.7v1.7h-1.7zM581.5 142.9h1.7v1.7h-1.7zM580.6 139.2h1.7v1.7h-1.7zM581.8 135.5h1.7v1.7h-1.7zM581.3 131.8h1.7v1.7h-1.7zM581 128.1h1.7v1.7h-1.7zM581.2 124.4h1.7v1.7h-1.7zM589.7 116.2h1.7v1.7h-1.7zM590.2 113.5h1.7v1.7h-1.7zM589.9 110.7h1.7v1.7h-1.7zM589.8 108h1.7v1.7h-1.7zM532.2 137.8h1.7v1.7h-1.7zM531.9 135.5h1.7v1.7h-1.7zM532 133.1h1.7v1.7h-1.7zM532 130.8h1.7v1.7h-1.7zM532.1 128.5h1.7v1.7h-1.7zM543.5 82.2h2v2h-2zM543.7 78.1h2v2h-2zM543.9 69.1h2v2h-2zM543.8 60.6h2v2h-2zM543.8 44.2h2v2h-2zM543.8 42.1h2v2h-2zM543.7 23.1h2v2h-2zM543.5 17.5h2v2h-2zM543.9 12.3h2v2h-2zM544.2 10.3h2v2h-2zM543.9 8.2h2v2h-2zM543.9 5.1h2v2h-2zM544.2 3.1h2v2h-2z"/>
<path d="M464.6 168.4 V1.6 H658.9 M464.6 168.4 H658.9" fill="none" stroke="#555" stroke-width="0.9"/>
<path d="M658.9 1.2 V168.8" fill="none" stroke="#8a8a8a" stroke-width="1.1"/>
<line x1="462.4" y1="168.4" x2="464.6" y2="168.4" stroke="#444" stroke-width="0.7"/>
<text x="462.2" y="171.4" class="s" font-size="8" fill="#222" text-anchor="end">0</text>
<line x1="462.4" y1="147.9" x2="464.6" y2="147.9" stroke="#444" stroke-width="0.7"/>
<text x="462.2" y="150.9" class="s" font-size="8" fill="#222" text-anchor="end">2</text>
<line x1="462.4" y1="127.3" x2="464.6" y2="127.3" stroke="#444" stroke-width="0.7"/>
<text x="462.2" y="130.3" class="s" font-size="8" fill="#222" text-anchor="end">4</text>
<line x1="462.4" y1="106.8" x2="464.6" y2="106.8" stroke="#444" stroke-width="0.7"/>
<text x="462.2" y="109.8" class="s" font-size="8" fill="#222" text-anchor="end">6</text>
<line x1="462.4" y1="86.2" x2="464.6" y2="86.2" stroke="#444" stroke-width="0.7"/>
<text x="462.2" y="89.2" class="s" font-size="8" fill="#222" text-anchor="end">8</text>
<line x1="462.4" y1="65.7" x2="464.6" y2="65.7" stroke="#444" stroke-width="0.7"/>
<text x="462.2" y="68.7" class="s" font-size="8" fill="#222" text-anchor="end">10</text>
<line x1="462.4" y1="45.2" x2="464.6" y2="45.2" stroke="#444" stroke-width="0.7"/>
<text x="462.2" y="48.2" class="s" font-size="8" fill="#222" text-anchor="end">12</text>
<line x1="462.4" y1="24.6" x2="464.6" y2="24.6" stroke="#444" stroke-width="0.7"/>
<text x="462.2" y="27.6" class="s" font-size="8" fill="#222" text-anchor="end">14</text>
<line x1="462.4" y1="4.1" x2="464.6" y2="4.1" stroke="#444" stroke-width="0.7"/>
<text x="462.2" y="7.1" class="s" font-size="8" fill="#222" text-anchor="end">16</text>
<line x1="465.2" y1="168.4" x2="465.2" y2="170.6" stroke="#444" stroke-width="0.7"/>
<text x="465.2" y="176.8" class="s" font-size="8" fill="#222" text-anchor="middle">0</text>
<line x1="512" y1="168.4" x2="512" y2="170.6" stroke="#444" stroke-width="0.7"/>
<text x="512" y="176.8" class="s" font-size="8" fill="#222" text-anchor="middle">5</text>
<line x1="558.8" y1="168.4" x2="558.8" y2="170.6" stroke="#444" stroke-width="0.7"/>
<text x="558.8" y="176.8" class="s" font-size="8" fill="#222" text-anchor="middle">10</text>
<line x1="605.6" y1="168.4" x2="605.6" y2="170.6" stroke="#444" stroke-width="0.7"/>
<text x="605.6" y="176.8" class="s" font-size="8" fill="#222" text-anchor="middle">15</text>
<line x1="652.4" y1="168.4" x2="652.4" y2="170.6" stroke="#444" stroke-width="0.7"/>
<text x="652.4" y="176.8" class="s" font-size="8" fill="#222" text-anchor="middle">20</text>
<text x="562" y="185.2" class="s" font-size="9.2" fill="#222" text-anchor="middle">Chr18 (Mb)</text>
<text transform="translate(449.9 85.3) rotate(-90)" class="s" fill="#222" text-anchor="middle"><tspan font-size="9.3">Z(F</tspan><tspan font-size="6.8" dy="1.4">ST(female/male)</tspan><tspan font-size="9.3" dy="-1.4">)</tspan></text>
<text x="430" y="16" class="r" font-size="21" fill="#000">B</text>
<text x="5.8" y="214.3" class="r" font-size="22" fill="#000">C</text>
<rect x="37" y="214.6" width="288.8" height="286.8" fill="#ebebeb"/>
<line x1="82" y1="214.6" x2="82" y2="501.4" stroke="#f7f7f7" stroke-width="0.6"/>
<line x1="145.6" y1="214.6" x2="145.6" y2="501.4" stroke="#f7f7f7" stroke-width="0.6"/>
<line x1="209.2" y1="214.6" x2="209.2" y2="501.4" stroke="#f7f7f7" stroke-width="0.6"/>
<line x1="272.8" y1="214.6" x2="272.8" y2="501.4" stroke="#f7f7f7" stroke-width="0.6"/>
<line x1="37" y1="456.4" x2="325.8" y2="456.4" stroke="#f7f7f7" stroke-width="0.6"/>
<line x1="37" y1="392.7" x2="325.8" y2="392.7" stroke="#f7f7f7" stroke-width="0.6"/>
<line x1="37" y1="328.9" x2="325.8" y2="328.9" stroke="#f7f7f7" stroke-width="0.6"/>
<line x1="37" y1="265.2" x2="325.8" y2="265.2" stroke="#f7f7f7" stroke-width="0.6"/>
<line x1="50.2" y1="214.6" x2="50.2" y2="501.4" stroke="#fff" stroke-width="1.1"/>
<line x1="113.8" y1="214.6" x2="113.8" y2="501.4" stroke="#fff" stroke-width="1.1"/>
<line x1="177.4" y1="214.6" x2="177.4" y2="501.4" stroke="#fff" stroke-width="1.1"/>
<line x1="241" y1="214.6" x2="241" y2="501.4" stroke="#fff" stroke-width="1.1"/>
<line x1="304.6" y1="214.6" x2="304.6" y2="501.4" stroke="#fff" stroke-width="1.1"/>
<line x1="37" y1="488.3" x2="325.8" y2="488.3" stroke="#fff" stroke-width="1.1"/>
<line x1="37" y1="424.6" x2="325.8" y2="424.6" stroke="#fff" stroke-width="1.1"/>
<line x1="37" y1="360.8" x2="325.8" y2="360.8" stroke="#fff" stroke-width="1.1"/>
<line x1="37" y1="297.1" x2="325.8" y2="297.1" stroke="#fff" stroke-width="1.1"/>
<line x1="37" y1="233.3" x2="325.8" y2="233.3" stroke="#fff" stroke-width="1.1"/>
<line x1="50.2" y1="214.6" x2="50.2" y2="501.4" stroke="#555" stroke-width="0.7" stroke-dasharray="0.9 1.6"/>
<line x1="312.6" y1="214.6" x2="312.6" y2="501.4" stroke="#555" stroke-width="0.7" stroke-dasharray="0.9 1.6"/>
<line x1="37" y1="488.3" x2="325.8" y2="488.3" stroke="#555" stroke-width="0.7" stroke-dasharray="0.9 1.6"/>
<line x1="37" y1="227.4" x2="325.8" y2="227.4" stroke="#555" stroke-width="0.7" stroke-dasharray="0.9 1.6"/>
<path d="M50.2 488.3 L158.8 379.9 M156.9 379.8 L309.3 228.2 L312.8 228.2" stroke="#000" stroke-width="2.8" fill="none" stroke-linecap="butt"/>
<line x1="35.2" y1="488.3" x2="37" y2="488.3" stroke="#333" stroke-width="0.6"/>
<text x="32.3" y="490.7" class="r" font-size="7.4" fill="#222" text-anchor="end">0</text>
<line x1="50.2" y1="501.4" x2="50.2" y2="503.2" stroke="#333" stroke-width="0.6"/>
<text transform="translate(50.4 505.7) rotate(90)" class="r" font-size="7.4" fill="#222" dy="2.6">0</text>
<line x1="35.2" y1="424.6" x2="37" y2="424.6" stroke="#333" stroke-width="0.6"/>
<text x="32.3" y="426.9" class="r" font-size="7.4" fill="#222" text-anchor="end">5</text>
<line x1="113.8" y1="501.4" x2="113.8" y2="503.2" stroke="#333" stroke-width="0.6"/>
<text transform="translate(114 505.7) rotate(90)" class="r" font-size="7.4" fill="#222" dy="2.6">5</text>
<line x1="35.2" y1="360.8" x2="37" y2="360.8" stroke="#333" stroke-width="0.6"/>
<text x="32.3" y="363.2" class="r" font-size="7.4" fill="#222" text-anchor="end">10</text>
<line x1="177.4" y1="501.4" x2="177.4" y2="503.2" stroke="#333" stroke-width="0.6"/>
<text transform="translate(177.6 505.7) rotate(90)" class="r" font-size="7.4" fill="#222" dy="2.6">10</text>
<line x1="35.2" y1="297.1" x2="37" y2="297.1" stroke="#333" stroke-width="0.6"/>
<text x="32.3" y="299.4" class="r" font-size="7.4" fill="#222" text-anchor="end">15</text>
<line x1="241" y1="501.4" x2="241" y2="503.2" stroke="#333" stroke-width="0.6"/>
<text transform="translate(241.2 505.7) rotate(90)" class="r" font-size="7.4" fill="#222" dy="2.6">15</text>
<line x1="35.2" y1="233.3" x2="37" y2="233.3" stroke="#333" stroke-width="0.6"/>
<text x="32.3" y="235.7" class="r" font-size="7.4" fill="#222" text-anchor="end">20</text>
<line x1="304.6" y1="501.4" x2="304.6" y2="503.2" stroke="#333" stroke-width="0.6"/>
<text transform="translate(304.8 505.7) rotate(90)" class="r" font-size="7.4" fill="#222" dy="2.6">20</text>
<text transform="translate(313.4 505.7) rotate(90)" class="r" font-size="7.5" fill="#222" dy="2.6">20.62 Mb</text>
<text x="34.2" y="229.8" class="r" font-size="7.4" fill="#222" text-anchor="end">20.46</text>
<text x="34.2" y="220.6" class="r" font-size="7.4" fill="#222" text-anchor="end">Mb</text>
<text x="181.5" y="212" class="r" font-size="10" fill="#111" text-anchor="middle">Chr18 of female genome</text>
<text transform="translate(329.8 349.5) rotate(90)" class="r" font-size="10" fill="#111" text-anchor="middle">Chr18 of HapY genome</text>
<rect x="429" y="214.6" width="234" height="283.4" fill="#ebebeb"/>
<line x1="471.7" y1="214.6" x2="471.7" y2="498" stroke="#f7f7f7" stroke-width="0.6"/>
<line x1="535.7" y1="214.6" x2="535.7" y2="498" stroke="#f7f7f7" stroke-width="0.6"/>
<line x1="599.7" y1="214.6" x2="599.7" y2="498" stroke="#f7f7f7" stroke-width="0.6"/>
<line x1="429" y1="453.6" x2="663" y2="453.6" stroke="#f7f7f7" stroke-width="0.6"/>
<line x1="429" y1="391.1" x2="663" y2="391.1" stroke="#f7f7f7" stroke-width="0.6"/>
<line x1="429" y1="328.7" x2="663" y2="328.7" stroke="#f7f7f7" stroke-width="0.6"/>
<line x1="429" y1="266.2" x2="663" y2="266.2" stroke="#f7f7f7" stroke-width="0.6"/>
<line x1="439.7" y1="214.6" x2="439.7" y2="498" stroke="#fff" stroke-width="1.1"/>
<line x1="503.7" y1="214.6" x2="503.7" y2="498" stroke="#fff" stroke-width="1.1"/>
<line x1="567.7" y1="214.6" x2="567.7" y2="498" stroke="#fff" stroke-width="1.1"/>
<line x1="631.7" y1="214.6" x2="631.7" y2="498" stroke="#fff" stroke-width="1.1"/>
<line x1="429" y1="484.8" x2="663" y2="484.8" stroke="#fff" stroke-width="1.1"/>
<line x1="429" y1="422.4" x2="663" y2="422.4" stroke="#fff" stroke-width="1.1"/>
<line x1="429" y1="359.9" x2="663" y2="359.9" stroke="#fff" stroke-width="1.1"/>
<line x1="429" y1="297.5" x2="663" y2="297.5" stroke="#fff" stroke-width="1.1"/>
<line x1="429" y1="235" x2="663" y2="235" stroke="#fff" stroke-width="1.1"/>
<line x1="439.7" y1="214.6" x2="439.7" y2="498" stroke="#555" stroke-width="0.7" stroke-dasharray="0.9 1.6"/>
<line x1="652.3" y1="214.6" x2="652.3" y2="498" stroke="#555" stroke-width="0.7" stroke-dasharray="0.9 1.6"/>
<line x1="429" y1="484.8" x2="663" y2="484.8" stroke="#555" stroke-width="0.7" stroke-dasharray="0.9 1.6"/>
<line x1="429" y1="227.5" x2="663" y2="227.5" stroke="#555" stroke-width="0.7" stroke-dasharray="0.9 1.6"/>
<path d="M439.8 484.2 L485.2 439.7 M487.5 374.9 L550 435.3 M541.1 340 L652.3 226.9" stroke="#000" stroke-width="2.8" fill="none"/>
<line x1="427.2" y1="484.8" x2="429" y2="484.8" stroke="#333" stroke-width="0.6"/>
<text x="426.4" y="487.2" class="r" font-size="7.4" fill="#222" text-anchor="end">8.39</text>
<line x1="427.2" y1="422.4" x2="429" y2="422.4" stroke="#333" stroke-width="0.6"/>
<text x="426.4" y="424.8" class="r" font-size="7.4" fill="#222" text-anchor="end">8.49</text>
<line x1="427.2" y1="359.9" x2="429" y2="359.9" stroke="#333" stroke-width="0.6"/>
<text x="426.4" y="362.3" class="r" font-size="7.4" fill="#222" text-anchor="end">8.59</text>
<line x1="427.2" y1="297.5" x2="429" y2="297.5" stroke="#333" stroke-width="0.6"/>
<text x="426.4" y="299.9" class="r" font-size="7.4" fill="#222" text-anchor="end">8.69</text>
<line x1="427.2" y1="235" x2="429" y2="235" stroke="#333" stroke-width="0.6"/>
<text x="426.4" y="237.4" class="r" font-size="7.4" fill="#222" text-anchor="end">8.79</text>
<text x="426.4" y="229.9" class="r" font-size="7.4" fill="#222" text-anchor="end">8.80</text>
<text x="425.4" y="220.6" class="r" font-size="7.4" fill="#222" text-anchor="end">Mb</text>
<line x1="439.7" y1="498" x2="439.7" y2="499.8" stroke="#333" stroke-width="0.6"/>
<text transform="translate(439.7 501.8) rotate(90)" class="r" font-size="7.4" fill="#222" dy="2.4">8.36</text>
<line x1="503.7" y1="498" x2="503.7" y2="499.8" stroke="#333" stroke-width="0.6"/>
<text transform="translate(503.7 501.8) rotate(90)" class="r" font-size="7.4" fill="#222" dy="2.4">8.46</text>
<line x1="567.7" y1="498" x2="567.7" y2="499.8" stroke="#333" stroke-width="0.6"/>
<text transform="translate(567.7 501.8) rotate(90)" class="r" font-size="7.4" fill="#222" dy="2.4">8.56</text>
<line x1="631.7" y1="498" x2="631.7" y2="499.8" stroke="#333" stroke-width="0.6"/>
<text transform="translate(631.7 501.8) rotate(90)" class="r" font-size="7.4" fill="#222" dy="2.4">8.66</text>
<text transform="translate(652.3 501.8) rotate(90)" class="r" font-size="7.4" fill="#222" dy="2.4">8.69 Mb</text>
<text x="544" y="212" class="r" font-size="10" fill="#111" text-anchor="middle">Chr18 of female genome</text>
<text transform="translate(668.8 349.7) rotate(90)" class="r" font-size="10" fill="#111" text-anchor="middle">Chr18 of HapY genome</text>
<path d="M152.3 375.6 V372.4 H155.6 M162.6 372.4 H165.8 V375.6 M152.3 383.8 V387 H155.6 M162.6 387 H165.8 V383.8" fill="none" stroke="#f28a86" stroke-width="0.8"/>
<path d="M164.2 372.8 L408.6 228.4" stroke="#ee3b2f" stroke-width="1.5" fill="none" stroke-dasharray="7.6 7.3" stroke-dashoffset="3.1"/>
<path d="M164.2 386.1 L409.2 484.2" stroke="#ee3b2f" stroke-width="1.5" fill="none" stroke-dasharray="7.4 7.1" stroke-dashoffset="3"/>
<text x="9.8" y="538.4" class="r" font-size="22" fill="#000">D</text>
<text x="25.1" y="559.8" class="r" font-size="6.5" fill="#111">Male Chr18</text>
<rect x="62.8" y="556" width="621.2" height="3.6" rx="1.6" fill="#fff" stroke="#888" stroke-width="0.8"/>
<rect x="321" y="555.2" width="7.8" height="4.4" fill="none" stroke="#e02020" stroke-width="0.8"/>
<text x="683.8" y="564.9" class="r" font-size="4.1" fill="#111" text-anchor="end">20 Mb</text>
<path d="M321 560 L63 577.3 M328.8 560 L684 577.3" stroke="#666" stroke-width="0.65" fill="none" stroke-dasharray="4.4 3.6"/>
<path d="M62.8 577.4 L362 577.4 M382.5 577.4 L684 577.4" stroke="#555" stroke-width="0.7" fill="none"/>
<text x="374" y="578.8" class="r" font-size="4.4" fill="#111" text-anchor="middle">197 kb</text>
<line x1="70.6" y1="589.7" x2="70.6" y2="592.2" stroke="#444" stroke-width="0.5"/>
<line x1="102.1" y1="589.7" x2="102.1" y2="592.2" stroke="#444" stroke-width="0.5"/>
<text x="102.1" y="587.6" class="r" font-size="4.3" fill="#000" text-anchor="middle">8520 kb</text>
<line x1="133.6" y1="589.7" x2="133.6" y2="592.2" stroke="#444" stroke-width="0.5"/>
<line x1="165.1" y1="589.7" x2="165.1" y2="592.2" stroke="#444" stroke-width="0.5"/>
<text x="165.1" y="587.6" class="r" font-size="4.3" fill="#000" text-anchor="middle">8540 kb</text>
<line x1="196.7" y1="589.7" x2="196.7" y2="592.2" stroke="#444" stroke-width="0.5"/>
<line x1="228.2" y1="589.7" x2="228.2" y2="592.2" stroke="#444" stroke-width="0.5"/>
<text x="228.2" y="587.6" class="r" font-size="4.3" fill="#000" text-anchor="middle">8560 kb</text>
<line x1="259.7" y1="589.7" x2="259.7" y2="592.2" stroke="#444" stroke-width="0.5"/>
<line x1="291.2" y1="589.7" x2="291.2" y2="592.2" stroke="#444" stroke-width="0.5"/>
<text x="291.2" y="587.6" class="r" font-size="4.3" fill="#000" text-anchor="middle">8580 kb</text>
<line x1="322.8" y1="589.7" x2="322.8" y2="592.2" stroke="#444" stroke-width="0.5"/>
<line x1="354.3" y1="589.7" x2="354.3" y2="592.2" stroke="#444" stroke-width="0.5"/>
<text x="354.3" y="587.6" class="r" font-size="4.3" fill="#000" text-anchor="middle">8600 kb</text>
<line x1="385.8" y1="589.7" x2="385.8" y2="592.2" stroke="#444" stroke-width="0.5"/>
<line x1="417.4" y1="589.7" x2="417.4" y2="592.2" stroke="#444" stroke-width="0.5"/>
<text x="417.4" y="587.6" class="r" font-size="4.3" fill="#000" text-anchor="middle">8620 kb</text>
<line x1="448.9" y1="589.7" x2="448.9" y2="592.2" stroke="#444" stroke-width="0.5"/>
<line x1="480.4" y1="589.7" x2="480.4" y2="592.2" stroke="#444" stroke-width="0.5"/>
<text x="480.4" y="587.6" class="r" font-size="4.3" fill="#000" text-anchor="middle">8640 kb</text>
<line x1="511.9" y1="589.7" x2="511.9" y2="592.2" stroke="#444" stroke-width="0.5"/>
<line x1="543.4" y1="589.7" x2="543.4" y2="592.2" stroke="#444" stroke-width="0.5"/>
<text x="543.4" y="587.6" class="r" font-size="4.3" fill="#000" text-anchor="middle">8660 kb</text>
<line x1="575" y1="589.7" x2="575" y2="592.2" stroke="#444" stroke-width="0.5"/>
<line x1="606.5" y1="589.7" x2="606.5" y2="592.2" stroke="#444" stroke-width="0.5"/>
<text x="606.5" y="587.6" class="r" font-size="4.3" fill="#000" text-anchor="middle">8680 kb</text>
<line x1="638" y1="589.7" x2="638" y2="592.2" stroke="#444" stroke-width="0.5"/>
<line x1="669.5" y1="589.7" x2="669.5" y2="592.2" stroke="#444" stroke-width="0.5"/>
<text x="669.5" y="587.6" class="r" font-size="4.3" fill="#000" text-anchor="middle">8700 kb</text>
<rect x="62.8" y="592.3" width="621.2" height="3.5" rx="1.2" fill="#fff" stroke="#555" stroke-width="0.7"/>
<rect x="324" y="591.9" width="38" height="3.9" fill="#e8173c"/>
<text x="344" y="601" class="r" font-size="6.6" font-style="italic" font-weight="bold" fill="#ee1a3c" text-anchor="middle">dmrt1Y</text>
<rect x="62.6" y="601.5" width="621.6" height="57.2" fill="#fafafa" stroke="#aaa" stroke-width="0.5"/>
<line x1="62.6" y1="616.1" x2="684.2" y2="616.1" stroke="#ddd" stroke-width="0.4"/>
<line x1="62.6" y1="630" x2="684.2" y2="630" stroke="#ddd" stroke-width="0.4"/>
<line x1="62.6" y1="644.2" x2="684.2" y2="644.2" stroke="#ddd" stroke-width="0.4"/>
<text x="5.6" y="610.7" class="r" font-size="6.45" fill="#111">Female HiFi reads</text>
<text x="6.1" y="625.2" class="r" font-size="6.45" fill="#111">Male HiFi reads</text>
<text x="0.9" y="640.7" class="r" font-size="6.45" fill="#111">Female Illumina reads</text>
<text x="6.4" y="654.7" class="r" font-size="6.45" fill="#111">Male Illumina reads</text>
<text x="16.8" y="670.7" class="r" font-size="6.45" fill="#111">Class I TE</text>
<text x="15.7" y="685.4" class="r" font-size="6.45" fill="#111">Class II TE</text>
<path fill="#2000e4" d="M62.6 615.9 L62.6 608.6 L63.3 608.8 L64 608.8 L64.7 608.7 L65.4 608.3 L66.1 608.5 L66.8 608.8 L67.5 608.4 L68.2 608.5 L68.9 608.5 L69.6 608.4 L70.3 608.7 L71 609.2 L71.7 609.2 L72.4 609.3 L73.1 609.3 L73.8 609.1 L74.5 609.1 L75.2 609.4 L75.9 609 L76.6 608.9 L77.3 608.5 L78 608.1 L78.7 608.1 L79.4 608.6 L80.1 608.8 L80.8 608.8 L81.5 609.2 L82.2 608.5 L82.9 609 L83.6 608.9 L84.3 609 L85 609.3 L85.7 608.8 L86.4 608.5 L87.1 608.7 L87.8 608.7 L88.5 608.5 L89.2 608.6 L89.9 608.4 L90.6 608.5 L91.3 608.5 L92 609 L92.7 608.6 L93.4 608.8 L94.1 608.7 L94.8 609.1 L95.5 608.7 L96.2 608.5 L96.9 609 L97.6 608.7 L98.3 608.6 L99 608.5 L99.7 608.2 L100.4 608.7 L101.1 609.1 L101.8 608.8 L102.5 608.4 L103.2 608 L103.9 608.4 L104.6 608.2 L105.3 608.4 L106 607.7 L106.7 607.8 L107.4 608.1 L108.1 608.3 L108.8 607.4 L109.5 607.8 L110.2 607.9 L110.9 608 L111.6 607.9 L112.3 607.8 L113 607.9 L113.7 608 L114.4 607.1 L115.1 607.4 L115.8 607.8 L116.5 607.7 L117.2 608.1 L117.9 607.7 L118.6 608.2 L119.3 608.3 L120 607.9 L120.7 608.5 L121.4 608.5 L122.1 608.6 L122.8 607.8 L123.5 607.6 L124.2 607.7 L124.9 607.9 L125.6 607.7 L126.3 607.2 L127 607.6 L127.7 607.4 L128.4 607.4 L129.1 607.3 L129.8 607.2 L130.5 606.8 L131.2 607.1 L131.9 606.9 L132.6 606.6 L133.3 607 L134 607.2 L134.7 607.6 L135.4 607.8 L136.1 607.4 L136.8 607.5 L137.5 607.7 L138.2 607.8 L138.9 607.6 L139.6 607.8 L140.3 608.2 L141 608.6 L141.7 608.9 L142.4 608.9 L143.1 608 L143.8 608.2 L144.5 608.2 L145.2 607.6 L145.9 608.5 L146.6 608.9 L147.3 608.9 L148 609.1 L148.7 609.2 L149.4 609.2 L150.1 609.6 L150.8 610 L151.5 610 L152.2 609.7 L152.9 609.7 L153.6 609.9 L154.3 610 L155 609.6 L155.7 609.8 L156.4 609.9 L157.1 609.9 L157.8 609.6 L158.5 609.6 L159.2 609 L159.9 609.2 L160.6 609.2 L161.3 609.2 L162 609.3 L162.7 609.3 L163.4 609.4 L164.1 609.5 L164.8 609.3 L165.5 609.4 L166.2 609.4 L166.9 609.6 L167.6 609.7 L168.3 609.5 L169 609.3 L169.7 608.9 L170.4 608.8 L171.1 609.2 L171.8 609.1 L172.5 609.7 L173.2 609.6 L173.9 609.4 L174.6 609.4 L175.3 609.2 L176 609.1 L176.7 609.2 L177.4 608.8 L178.1 609 L178.8 609 L179.5 608.8 L180.2 609.2 L180.9 609.3 L181.6 609.5 L182.3 609.1 L183 608.7 L183.7 608.4 L184.4 608.2 L185.1 607.9 L185.8 608.7 L186.5 608.6 L187.2 608.7 L187.9 608.5 L188.6 608.5 L189.3 609 L190 608.3 L190.7 608.1 L191.4 608.3 L192.1 608.1 L192.8 608.4 L193.5 608.7 L194.2 608.8 L194.9 608.8 L195.6 608.6 L196.3 608.7 L197 608.4 L197.7 608 L198.4 608.1 L199.1 608.1 L199.8 608.6 L200.5 608.2 L201.2 608.6 L201.9 608.3 L202.6 608 L203.3 607.7 L204 608 L204.7 607.8 L205.4 608.1 L206.1 608.3 L206.8 608.2 L207.5 607.8 L208.2 607.9 L208.9 608.3 L209.6 607.9 L210.3 608.3 L211 608.4 L211.7 608.4 L212.4 608.5 L213.1 608.8 L213.8 608.7 L214.5 608.5 L215.2 608.8 L215.9 608.6 L216.6 608.8 L217.3 609.1 L218 609.3 L218.7 609.6 L219.4 609.6 L220.1 609.4 L220.8 609.1 L221.5 609.1 L222.2 609.2 L222.9 610 L223.6 609.8 L224.3 609.3 L225 609.6 L225.7 609 L226.4 609.3 L227.1 608.9 L227.8 608.7 L228.5 608.8 L229.2 608.9 L229.9 608.7 L230.6 609.1 L231.3 609.1 L232 609.6 L232.7 609.2 L233.4 608.8 L234.1 609.2 L234.8 609.2 L235.5 609.6 L236.2 609 L236.9 608.9 L237.6 609.3 L238.3 610.1 L239 609.7 L239.7 609.3 L240.4 609.5 L241.1 610.2 L241.8 610.7 L242.5 610.2 L243.2 610.1 L243.9 609.8 L244.6 609.9 L245.3 609.9 L246 610.4 L246.7 610.9 L247.4 611.6 L248.1 611.3 L248.8 611.4 L249.5 615.5 L250.2 615.4 L250.9 615.5 L251.6 615.5 L252.3 615.5 L253 608.5 L253.7 608.5 L254.4 608.4 L255.1 609.3 L255.8 609 L256.5 608.9 L257.2 608.9 L257.9 608.9 L258.6 608.8 L259.3 608.7 L260 609 L260.7 608.6 L261.4 608.2 L262.1 607.8 L262.8 607.9 L263.5 607.3 L264.2 607.4 L264.9 606.7 L265.6 607 L266.3 607 L267 606.7 L267.7 606.8 L268.4 607 L269.1 606.6 L269.8 606.5 L270.5 606.7 L271.2 606.6 L271.9 606.5 L272.6 606.5 L273.3 606.7 L274 606.9 L274.7 607.2 L275.4 611.1 L276.1 611.8 L276.8 611.4 L277.5 611.8 L278.2 611.5 L278.9 610.9 L279.6 610.9 L280.3 611 L281 611.4 L281.7 610.8 L282.4 610.9 L283.1 611.1 L283.8 611.4 L284.5 611.6 L285.2 611.8 L285.9 611.7 L286.6 611.7 L287.3 612 L288 612.5 L288.7 612.3 L289.4 612.2 L290.1 611.9 L290.8 612.6 L291.5 612.5 L292.2 612.6 L292.9 612 L293.6 612.3 L294.3 613 L295 612.7 L295.7 612.6 L296.4 613 L297.1 612.8 L297.8 613 L298.5 613.4 L299.2 612.9 L299.9 612.6 L300.6 613 L301.3 613.1 L302 613.1 L302.7 613.1 L303.4 613.3 L304.1 613.5 L304.8 613.4 L305.5 613.4 L306.2 613.6 L306.9 613.4 L307.6 613.7 L308.3 613.2 L309 613.8 L309.7 613.9 L310.4 613.7 L311.1 614.4 L311.8 614.1 L312.5 614.8 L313.2 614.6 L313.9 615 L314.6 614.9 L315.3 615.4 L316 615.2 L316.7 615.4 L317.4 615.2 L318.1 614.6 L318.8 614.9 L319.5 615.1 L320.2 615.1 L320.9 615.5 L321.6 615.1 L322.3 614.7 L323 614.9 L323.7 614.7 L324.4 614.8 L325.1 614.9 L325.8 614.7 L326.5 615.1 L327.2 615 L327.9 615.5 L328.6 615.4 L329.3 615.5 L330 615.2 L330.7 615 L331.4 614.8 L332.1 614.7 L332.8 614.9 L333.5 615 L334.2 614.7 L334.9 614.4 L335.6 614.4 L336.3 614.1 L337 614.2 L337.7 614.1 L338.4 614.7 L339.1 614.5 L339.8 614.5 L340.5 614.7 L341.2 614.8 L341.9 615 L342.6 615.2 L343.3 615.3 L344 615.1 L344.7 615.4 L345.4 615.3 L346.1 615 L346.8 615.4 L347.5 614.9 L348.2 615.1 L348.9 615.4 L349.6 615.3 L350.3 615.3 L351 615.2 L351.7 615.3 L352.4 615.2 L353.1 615.1 L353.8 615.3 L354.5 614.6 L355.2 614.9 L355.9 614.8 L356.6 615.4 L357.3 615.3 L358 615 L358.7 615.2 L359.4 615 L360.1 614.7 L360.8 614.7 L361.5 615 L362.2 615.3 L362.9 615.5 L363.6 615.4 L364.3 615.2 L365 615.2 L365.7 615.4 L366.4 615.2 L367.1 615.5 L367.8 615.1 L368.5 615 L369.2 615.2 L369.9 615.3 L370.6 615.3 L371.3 615 L372 614.5 L372.7 614.6 L373.4 614.5 L374.1 614.6 L374.8 615.2 L375.5 614.9 L376.2 615.2 L376.9 615.1 L377.6 614.8 L378.3 614.9 L379 615.1 L379.7 614.8 L380.4 614.5 L381.1 614.6 L381.8 615 L382.5 614.8 L383.2 615 L383.9 615.1 L384.6 615.1 L385.3 615.2 L386 615.5 L386.7 615.2 L387.4 615.2 L388.1 614.8 L388.8 614.7 L389.5 614.8 L390.2 615.1 L390.9 614.9 L391.6 614.5 L392.3 615 L393 615.5 L393.7 614.7 L394.4 614.5 L395.1 614.7 L395.8 615 L396.5 614.7 L397.2 614.9 L397.9 615.3 L398.6 615.1 L399.3 615.3 L400 615.2 L400.7 614.9 L401.4 614.7 L402.1 614.7 L402.8 615.2 L403.5 615.4 L404.2 615.3 L404.9 614.8 L405.6 614.7 L406.3 614.7 L407 614.3 L407.7 614.6 L408.4 614.8 L409.1 614.5 L409.8 614.6 L410.5 614.6 L411.2 613.7 L411.9 613.6 L412.6 613.6 L413.3 613.3 L414 612.7 L414.7 613 L415.4 612.6 L416.1 612 L416.8 612.3 L417.5 612.1 L418.2 612.1 L418.9 612.2 L419.6 612 L420.3 612 L421 612.2 L421.7 611.8 L422.4 611.5 L423.1 611.4 L423.8 611.4 L424.5 611.1 L425.2 611 L425.9 610.7 L426.6 610.7 L427.3 610.7 L428 610.4 L428.7 610.3 L429.4 609.8 L430.1 609.7 L430.8 609.8 L431.5 609.9 L432.2 609.5 L432.9 609.5 L433.6 609.2 L434.3 609.3 L435 609.3 L435.7 609.3 L436.4 609.1 L437.1 608.6 L437.8 608.5 L438.5 608.2 L439.2 608.1 L439.9 608.2 L440.6 608.6 L441.3 608.5 L442 608.4 L442.7 608.6 L443.4 608.2 L444.1 609 L444.8 608.6 L445.5 609.1 L446.2 609.4 L446.9 609.6 L447.6 609.4 L448.3 609.6 L449 609.4 L449.7 609.7 L450.4 609.5 L451.1 609.3 L451.8 609.6 L452.5 609.5 L453.2 609.8 L453.9 609.6 L454.6 609.8 L455.3 609.6 L456 609.8 L456.7 610.5 L457.4 610.1 L458.1 609.8 L458.8 609.6 L459.5 609.8 L460.2 610.5 L460.9 610.4 L461.6 610.7 L462.3 610.6 L463 610.5 L463.7 611.2 L464.4 611.3 L465.1 610.6 L465.8 610.4 L466.5 610.7 L467.2 610.9 L467.9 610.8 L468.6 610.9 L469.3 605.8 L470 605.7 L470.7 606 L471.4 605.6 L472.1 605.9 L472.8 606.1 L473.5 606.1 L474.2 606.3 L474.9 607.1 L475.6 607.4 L476.3 608.5 L477 608.7 L477.7 608.5 L478.4 608 L479.1 606.9 L479.8 606.2 L480.5 606.3 L481.2 605.9 L481.9 605.8 L482.6 606 L483.3 606.3 L484 606.3 L484.7 606 L485.4 606 L486.1 606.2 L486.8 605.9 L487.5 606 L488.2 606 L488.9 605.6 L489.6 606.4 L490.3 606.6 L491 606.4 L491.7 608.3 L492.4 609.6 L493.1 610 L493.8 606.3 L494.5 606.3 L495.2 606.1 L495.9 606.2 L496.6 606.3 L497.3 611.5 L498 611.1 L498.7 611.3 L499.4 611.3 L500.1 611.2 L500.8 611.3 L501.5 610.9 L502.2 611.1 L502.9 610.8 L503.6 611.1 L504.3 610.7 L505 610.4 L505.7 610.4 L506.4 610.5 L507.1 610.7 L507.8 610.3 L508.5 609.9 L509.2 610 L509.9 610.2 L510.6 610.1 L511.3 609.7 L512 609.9 L512.7 609.6 L513.4 609.5 L514.1 609.5 L514.8 609.1 L515.5 608.4 L516.2 608.6 L516.9 608.8 L517.6 608.8 L518.3 608.9 L519 608.7 L519.7 608.8 L520.4 608.7 L521.1 609 L521.8 608.8 L522.5 609 L523.2 608.7 L523.9 608.7 L524.6 608.8 L525.3 608.8 L526 609.2 L526.7 609.1 L527.4 609.3 L528.1 609.2 L528.8 609.4 L529.5 608.9 L530.2 608.9 L530.9 609.2 L531.6 608.9 L532.3 609.1 L533 609.2 L533.7 609.3 L534.4 609.3 L535.1 609.4 L535.8 609.3 L536.5 609.4 L537.2 609.2 L537.9 609.2 L538.6 608.8 L539.3 609 L540 608.7 L540.7 609 L541.4 609.3 L542.1 609.1 L542.8 609.3 L543.5 609.5 L544.2 609.5 L544.9 609.2 L545.6 609.3 L546.3 609.5 L547 609.7 L547.7 610.1 L548.4 609.3 L549.1 609.4 L549.8 609.5 L550.5 609.3 L551.2 609.4 L551.9 609.9 L552.6 609.7 L553.3 609.9 L554 609.9 L554.7 609.5 L555.4 608.7 L556.1 609.2 L556.8 609.6 L557.5 608.9 L558.2 608.9 L558.9 608.8 L559.6 608.9 L560.3 609 L561 609.3 L561.7 609 L562.4 609.5 L563.1 608.8 L563.8 608.9 L564.5 609.6 L565.2 609.2 L565.9 609.2 L566.6 608.9 L567.3 609.8 L568 609.6 L568.7 609.1 L569.4 608.4 L570.1 608.6 L570.8 608.8 L571.5 608.1 L572.2 608.1 L572.9 608 L573.6 607 L574.3 606.9 L575 606.2 L575.7 605.8 L576.4 606 L577.1 606.5 L577.8 606.7 L578.5 606.4 L579.2 606.5 L579.9 605.9 L580.6 605.7 L581.3 606.1 L582 606.1 L582.7 605.9 L583.4 605.5 L584.1 605.7 L584.8 606.5 L585.5 605.9 L586.2 605.7 L586.9 606.2 L587.6 605.7 L588.3 605.7 L589 605.9 L589.7 606.3 L590.4 606.2 L591.1 606.7 L591.8 606.5 L592.5 606.3 L593.2 606.3 L593.9 606.3 L594.6 605.8 L595.3 605.7 L596 605.7 L596.7 606 L597.4 605.7 L598.1 605.6 L598.8 605.6 L599.5 605.8 L600.2 605.8 L600.9 606 L601.6 606.1 L602.3 605.8 L603 605.8 L603.7 605.6 L604.4 605.8 L605.1 606.1 L605.8 605.8 L606.5 605.4 L607.2 605.8 L607.9 605.9 L608.6 605.9 L609.3 606.1 L610 606.2 L610.7 606.4 L611.4 606.2 L612.1 605.6 L612.8 605.7 L613.5 605.8 L614.2 605.8 L614.9 606.1 L615.6 606 L616.3 606.4 L617 606.2 L617.7 606.2 L618.4 606.1 L619.1 606.7 L619.8 606.2 L620.5 606 L621.2 606 L621.9 606.3 L622.6 606.3 L623.3 606.3 L624 606 L624.7 605.6 L625.4 605.9 L626.1 606.1 L626.8 606.8 L627.5 606.9 L628.2 606.9 L628.9 607.1 L629.6 606.7 L630.3 606.4 L631 606.5 L631.7 607.1 L632.4 607.3 L633.1 607 L633.8 606.7 L634.5 607.1 L635.2 607.4 L635.9 607 L636.6 607.5 L637.3 607.2 L638 607.5 L638.7 607.4 L639.4 607.3 L640.1 607.2 L640.8 607.5 L641.5 607.7 L642.2 607.9 L642.9 607.7 L643.6 607.5 L644.3 608.2 L645 608.5 L645.7 608.1 L646.4 607.7 L647.1 608.2 L647.8 608.1 L648.5 608.1 L649.2 608.3 L649.9 608.3 L650.6 608.2 L651.3 608.8 L652 608 L652.7 608.3 L653.4 608 L654.1 608.2 L654.8 608.2 L655.5 608.4 L656.2 607.7 L656.9 608.2 L657.6 609 L658.3 608.7 L659 608.9 L659.7 609 L660.4 609 L661.1 608.8 L661.8 609 L662.5 609 L663.2 609.4 L663.9 609.4 L664.6 609.1 L665.3 608.2 L666 609 L666.7 609.2 L667.4 609.2 L668.1 609.1 L668.8 609.8 L669.5 610 L670.2 609.8 L670.9 609.5 L671.6 609.7 L672.3 610 L673 609.9 L673.7 610.1 L674.4 610 L675.1 610 L675.8 609.5 L676.5 609.7 L677.2 609.7 L677.9 609.8 L678.6 609.8 L679.3 609.9 L680 609.8 L680.7 609.8 L681.4 609.6 L682.1 610.4 L682.8 610.1 L683.5 609.8 L684.2 609.8 L684.2 615.9 Z"/>
<path fill="#2000e4" d="M62.6 629.8 L62.6 620 L63.3 619.7 L64 619.1 L64.7 619.9 L65.4 620.1 L66.1 619.9 L66.8 620 L67.5 619.6 L68.2 619.1 L68.9 619.4 L69.6 619.6 L70.3 619.4 L71 619.4 L71.7 618.5 L72.4 618.8 L73.1 619.3 L73.8 619.3 L74.5 619.3 L75.2 619.4 L75.9 618.7 L76.6 618.5 L77.3 618.3 L78 618.6 L78.7 618.6 L79.4 618.1 L80.1 618.6 L80.8 618.6 L81.5 618.9 L82.2 619.4 L82.9 618.6 L83.6 618.2 L84.3 618.6 L85 618.9 L85.7 618.8 L86.4 618.7 L87.1 618.7 L87.8 618.7 L88.5 618.2 L89.2 618.4 L89.9 618.7 L90.6 618.4 L91.3 618.1 L92 618 L92.7 618 L93.4 618.3 L94.1 618.5 L94.8 618.4 L95.5 618.3 L96.2 617.8 L96.9 617.9 L97.6 617.8 L98.3 617.8 L99 618.1 L99.7 618.2 L100.4 619.2 L101.1 618.6 L101.8 618.3 L102.5 618 L103.2 618.1 L103.9 618.1 L104.6 618.4 L105.3 617.8 L106 618.3 L106.7 618.5 L107.4 618.3 L108.1 618.1 L108.8 618.2 L109.5 618.4 L110.2 618.3 L110.9 618.3 L111.6 618.3 L112.3 618 L113 618.2 L113.7 618.4 L114.4 618.4 L115.1 618 L115.8 618.1 L116.5 618.2 L117.2 618.3 L117.9 618.2 L118.6 618.5 L119.3 618.7 L120 618.8 L120.7 618.6 L121.4 618.8 L122.1 618.6 L122.8 618.4 L123.5 618 L124.2 618.1 L124.9 618.5 L125.6 618.2 L126.3 618.4 L127 618 L127.7 618.4 L128.4 619 L129.1 619 L129.8 618.7 L130.5 619 L131.2 619.1 L131.9 619.5 L132.6 619.4 L133.3 619.1 L134 619.3 L134.7 619.7 L135.4 620.2 L136.1 620.3 L136.8 620.4 L137.5 620.7 L138.2 620.6 L138.9 620.6 L139.6 620.8 L140.3 621.3 L141 621.2 L141.7 621.4 L142.4 621.3 L143.1 621.3 L143.8 621.6 L144.5 621.4 L145.2 621.4 L145.9 621.5 L146.6 621.7 L147.3 621.8 L148 622.8 L148.7 622.8 L149.4 622.7 L150.1 622.2 L150.8 621.6 L151.5 622 L152.2 621.9 L152.9 622.3 L153.6 622.1 L154.3 621.8 L155 621.7 L155.7 621.4 L156.4 621.3 L157.1 621.8 L157.8 621.7 L158.5 622 L159.2 621.8 L159.9 621.7 L160.6 621.7 L161.3 621.6 L162 621.5 L162.7 622.1 L163.4 622 L164.1 621.4 L164.8 622.1 L165.5 622.4 L166.2 622.5 L166.9 622.2 L167.6 622 L168.3 621.9 L169 621.9 L169.7 622 L170.4 622 L171.1 621.7 L171.8 621.5 L172.5 622.1 L173.2 622.5 L173.9 621.9 L174.6 621.7 L175.3 621.8 L176 622 L176.7 621.9 L177.4 622 L178.1 622 L178.8 622.3 L179.5 621.8 L180.2 622.1 L180.9 622.2 L181.6 622.2 L182.3 621.7 L183 621.7 L183.7 621.7 L184.4 622 L185.1 622.1 L185.8 622.2 L186.5 621.7 L187.2 622.1 L187.9 622.1 L188.6 622.3 L189.3 622.1 L190 621.8 L190.7 622.6 L191.4 622.5 L192.1 622.5 L192.8 622.1 L193.5 622 L194.2 622.2 L194.9 622.2 L195.6 622.6 L196.3 622.6 L197 622 L197.7 621.6 L198.4 622 L199.1 622.1 L199.8 622 L200.5 621.9 L201.2 621.7 L201.9 622.3 L202.6 622.1 L203.3 621.6 L204 622 L204.7 621.9 L205.4 622 L206.1 621.9 L206.8 621.9 L207.5 621.4 L208.2 621.7 L208.9 621.6 L209.6 621.6 L210.3 621.8 L211 622.2 L211.7 621.5 L212.4 621.6 L213.1 621.9 L213.8 622.2 L214.5 621.8 L215.2 621.9 L215.9 622 L216.6 622.2 L217.3 621.9 L218 621.9 L218.7 621.8 L219.4 622.2 L220.1 622.5 L220.8 622.2 L221.5 622.2 L222.2 622.3 L222.9 622 L223.6 622.1 L224.3 622.5 L225 622.7 L225.7 622.4 L226.4 622.3 L227.1 622.3 L227.8 622.1 L228.5 622.4 L229.2 622.5 L229.9 622.2 L230.6 622.4 L231.3 622.4 L232 622.5 L232.7 622.4 L233.4 623 L234.1 622.7 L234.8 623.1 L235.5 623.1 L236.2 623.5 L236.9 623.3 L237.6 623.2 L238.3 623.2 L239 622.6 L239.7 623.5 L240.4 623.3 L241.1 623.1 L241.8 622.8 L242.5 622.9 L243.2 623.4 L243.9 623.1 L244.6 623.3 L245.3 623.5 L246 623.6 L246.7 623.4 L247.4 622.8 L248.1 623.1 L248.8 623.3 L249.5 623.2 L250.2 623.1 L250.9 623.7 L251.6 623.1 L252.3 623 L253 618.1 L253.7 617.8 L254.4 617.8 L255.1 617.8 L255.8 618.4 L256.5 617.9 L257.2 617.7 L257.9 618.1 L258.6 617.8 L259.3 621.1 L260 617.7 L260.7 617.6 L261.4 617.7 L262.1 617.9 L262.8 618.2 L263.5 618.1 L264.2 618.2 L264.9 618.4 L265.6 618.4 L266.3 618.6 L267 618.4 L267.7 618.5 L268.4 618.8 L269.1 618.3 L269.8 619.1 L270.5 618.7 L271.2 618.5 L271.9 618.4 L272.6 618.5 L273.3 618.1 L274 618.3 L274.7 618.1 L275.4 621.9 L276.1 621.1 L276.8 621.3 L277.5 621.1 L278.2 620.7 L278.9 620.7 L279.6 620.6 L280.3 620.5 L281 620.4 L281.7 620.6 L282.4 620.2 L283.1 620.4 L283.8 619.4 L284.5 619.9 L285.2 620 L285.9 620.3 L286.6 620.2 L287.3 620.2 L288 619.9 L288.7 620.3 L289.4 620 L290.1 619.9 L290.8 620.1 L291.5 620.3 L292.2 620.5 L292.9 620.3 L293.6 620.4 L294.3 620.7 L295 621.1 L295.7 621.3 L296.4 621.4 L297.1 621.2 L297.8 621.1 L298.5 621.1 L299.2 621.3 L299.9 621.5 L300.6 621.5 L301.3 622.2 L302 621.9 L302.7 622.2 L303.4 622.2 L304.1 622.2 L304.8 622.2 L305.5 622.8 L306.2 622.7 L306.9 622.9 L307.6 622.9 L308.3 623.2 L309 623.3 L309.7 623.8 L310.4 623.4 L311.1 623.2 L311.8 623.9 L312.5 624.2 L313.2 624.1 L313.9 624 L314.6 624.1 L315.3 624.5 L316 624.2 L316.7 624.7 L317.4 624.7 L318.1 624.5 L318.8 624.4 L319.5 623.9 L320.2 624.2 L320.9 624 L321.6 624.1 L322.3 624 L323 624.3 L323.7 624.6 L324.4 624.6 L325.1 624.7 L325.8 624.8 L326.5 625.2 L327.2 625.1 L327.9 625.4 L328.6 625.1 L329.3 625 L330 624.7 L330.7 624.9 L331.4 624.6 L332.1 624.8 L332.8 624.6 L333.5 624.6 L334.2 625 L334.9 624.9 L335.6 625.1 L336.3 624.9 L337 624.4 L337.7 625 L338.4 624.9 L339.1 624.7 L339.8 625 L340.5 624.6 L341.2 624.5 L341.9 625 L342.6 624.8 L343.3 625.2 L344 625 L344.7 624.9 L345.4 625 L346.1 624.8 L346.8 625.2 L347.5 625.4 L348.2 625.3 L348.9 625.3 L349.6 625.4 L350.3 625.7 L351 625 L351.7 625.3 L352.4 625.5 L353.1 625.2 L353.8 625.2 L354.5 625 L355.2 625.4 L355.9 625 L356.6 625.2 L357.3 625.5 L358 625.5 L358.7 625.3 L359.4 625.1 L360.1 624.5 L360.8 624.5 L361.5 625.1 L362.2 624.9 L362.9 624.6 L363.6 624.8 L364.3 624.6 L365 625 L365.7 624.8 L366.4 625.3 L367.1 625.3 L367.8 624.9 L368.5 624.9 L369.2 624.9 L369.9 624.8 L370.6 625.4 L371.3 625.1 L372 625.3 L372.7 625.2 L373.4 625.4 L374.1 625 L374.8 624.8 L375.5 625.2 L376.2 625.7 L376.9 625.2 L377.6 625.2 L378.3 625.2 L379 625.1 L379.7 625.5 L380.4 625.5 L381.1 625.1 L381.8 625.2 L382.5 625.6 L383.2 625.3 L383.9 625.2 L384.6 625 L385.3 625.2 L386 625.1 L386.7 625.4 L387.4 625.1 L388.1 624.7 L388.8 625 L389.5 624.2 L390.2 624.3 L390.9 624.7 L391.6 624.9 L392.3 624.8 L393 624.8 L393.7 625 L394.4 626 L395.1 625.4 L395.8 625.2 L396.5 624.9 L397.2 625.1 L397.9 625 L398.6 625.1 L399.3 625.4 L400 625.1 L400.7 624.9 L401.4 625 L402.1 625.5 L402.8 625.1 L403.5 625.4 L404.2 625.4 L404.9 624.4 L405.6 624.2 L406.3 624.1 L407 624.4 L407.7 624.8 L408.4 624.7 L409.1 624.7 L409.8 625.2 L410.5 625 L411.2 622.5 L411.9 621.8 L412.6 622.1 L413.3 621.7 L414 620.9 L414.7 620.8 L415.4 620.8 L416.1 621 L416.8 621.2 L417.5 621.3 L418.2 621.4 L418.9 621 L419.6 621.4 L420.3 621.5 L421 621.3 L421.7 620.9 L422.4 620.8 L423.1 620.7 L423.8 620.5 L424.5 620.5 L425.2 620.3 L425.9 620.6 L426.6 620.3 L427.3 620.5 L428 620.5 L428.7 620.4 L429.4 620.5 L430.1 620.1 L430.8 620.8 L431.5 620.3 L432.2 620.4 L432.9 620.2 L433.6 620 L434.3 620.4 L435 620.4 L435.7 620.1 L436.4 620.1 L437.1 620.1 L437.8 620.3 L438.5 620.3 L439.2 619.9 L439.9 619.6 L440.6 619.3 L441.3 619.5 L442 619.8 L442.7 619.7 L443.4 619.9 L444.1 619.9 L444.8 619.8 L445.5 619.5 L446.2 620 L446.9 620.7 L447.6 620.6 L448.3 620.1 L449 619.9 L449.7 620.1 L450.4 620.3 L451.1 620.7 L451.8 619.9 L452.5 620.6 L453.2 620.6 L453.9 620.6 L454.6 620.7 L455.3 620.5 L456 620.5 L456.7 620.8 L457.4 620.3 L458.1 620.5 L458.8 620.8 L459.5 620.3 L460.2 620.5 L460.9 621.1 L461.6 621.2 L462.3 621.3 L463 621.4 L463.7 621.3 L464.4 621.4 L465.1 621.1 L465.8 621.1 L466.5 621.7 L467.2 621.2 L467.9 621.2 L468.6 621 L469.3 618 L470 618 L470.7 617.8 L471.4 618.1 L472.1 618 L472.8 618.3 L473.5 618.8 L474.2 618 L474.9 618.1 L475.6 617.7 L476.3 617.9 L477 618.2 L477.7 618.3 L478.4 618.7 L479.1 618.6 L479.8 618.1 L480.5 618.6 L481.2 618.3 L481.9 618.3 L482.6 618.4 L483.3 618.2 L484 618.3 L484.7 618.8 L485.4 618.2 L486.1 617.8 L486.8 617.9 L487.5 618.1 L488.2 617.9 L488.9 617.4 L489.6 618.1 L490.3 618.3 L491 618 L491.7 618.3 L492.4 618.3 L493.1 618.4 L493.8 618.1 L494.5 618.1 L495.2 618.4 L495.9 617.9 L496.6 617.8 L497.3 623 L498 623.6 L498.7 623.5 L499.4 623.3 L500.1 622.9 L500.8 622.8 L501.5 622.8 L502.2 623 L502.9 622.9 L503.6 623.6 L504.3 623.7 L505 622.8 L505.7 622.5 L506.4 622.7 L507.1 623 L507.8 623.1 L508.5 622.2 L509.2 622 L509.9 622.7 L510.6 622.9 L511.3 623.6 L512 623.5 L512.7 623.3 L513.4 623.5 L514.1 623 L514.8 622.8 L515.5 622.4 L516.2 622.6 L516.9 622.7 L517.6 622.9 L518.3 623.2 L519 623.1 L519.7 623.3 L520.4 622.9 L521.1 622.4 L521.8 622.6 L522.5 622.7 L523.2 622.9 L523.9 622.5 L524.6 622.2 L525.3 622 L526 622.1 L526.7 622 L527.4 621.9 L528.1 621.9 L528.8 621.7 L529.5 621.8 L530.2 621.5 L530.9 621.1 L531.6 621.2 L532.3 621.8 L533 621.4 L533.7 621.6 L534.4 621.8 L535.1 621.4 L535.8 621.3 L536.5 620.5 L537.2 620.9 L537.9 621.3 L538.6 621.1 L539.3 620.4 L540 620.4 L540.7 620.3 L541.4 620.4 L542.1 620.5 L542.8 620.4 L543.5 620.3 L544.2 620.1 L544.9 620.4 L545.6 620.4 L546.3 620.5 L547 620.3 L547.7 620.5 L548.4 620.3 L549.1 620.4 L549.8 620.3 L550.5 620.1 L551.2 619.9 L551.9 619.5 L552.6 619.5 L553.3 619.9 L554 620.9 L554.7 620.2 L555.4 620 L556.1 620.1 L556.8 621.1 L557.5 620.7 L558.2 620.2 L558.9 620.3 L559.6 620.8 L560.3 619.8 L561 619.6 L561.7 620.2 L562.4 619.9 L563.1 619.9 L563.8 619.9 L564.5 620.2 L565.2 619.8 L565.9 620 L566.6 620.1 L567.3 620.3 L568 620.3 L568.7 620.3 L569.4 619.7 L570.1 619.8 L570.8 619.6 L571.5 619.9 L572.2 619.9 L572.9 620 L573.6 620.3 L574.3 620.2 L575 620.5 L575.7 620.6 L576.4 619.9 L577.1 619.8 L577.8 620.2 L578.5 620 L579.2 620.3 L579.9 620 L580.6 619.9 L581.3 620.2 L582 619.7 L582.7 619.8 L583.4 619.7 L584.1 619.8 L584.8 620.3 L585.5 620.3 L586.2 619.7 L586.9 620.1 L587.6 619.8 L588.3 619.9 L589 620.2 L589.7 619.9 L590.4 620.1 L591.1 620.1 L591.8 619.7 L592.5 619.7 L593.2 619.3 L593.9 619.8 L594.6 619.8 L595.3 620.1 L596 619.6 L596.7 619.9 L597.4 619.5 L598.1 619.7 L598.8 619.7 L599.5 619.5 L600.2 619.7 L600.9 619.7 L601.6 619.5 L602.3 619.3 L603 619.1 L603.7 619.7 L604.4 619.8 L605.1 619.6 L605.8 619.9 L606.5 619.5 L607.2 619.3 L607.9 619.6 L608.6 620 L609.3 620 L610 619.9 L610.7 620.3 L611.4 619.7 L612.1 620.5 L612.8 619.9 L613.5 619.8 L614.2 619.4 L614.9 619.2 L615.6 619.3 L616.3 620.2 L617 619.7 L617.7 619.5 L618.4 619.7 L619.1 619.4 L619.8 619.5 L620.5 619.8 L621.2 619.1 L621.9 619.1 L622.6 619.1 L623.3 619 L624 619 L624.7 618.4 L625.4 618.4 L626.1 618.4 L626.8 618.2 L627.5 618.6 L628.2 619.1 L628.9 619.2 L629.6 618.8 L630.3 619.2 L631 619.3 L631.7 619 L632.4 619.2 L633.1 619.1 L633.8 619.3 L634.5 619.6 L635.2 619.9 L635.9 619.5 L636.6 619.5 L637.3 619.6 L638 619.4 L638.7 619.7 L639.4 620.1 L640.1 619.7 L640.8 619.7 L641.5 619.5 L642.2 619.4 L642.9 619.3 L643.6 620 L644.3 619.8 L645 619.8 L645.7 620.2 L646.4 620.4 L647.1 620.6 L647.8 619.8 L648.5 620.1 L649.2 619.6 L649.9 619.6 L650.6 619.7 L651.3 619.7 L652 620.4 L652.7 620.2 L653.4 620.5 L654.1 620.3 L654.8 620.2 L655.5 620.3 L656.2 620.3 L656.9 620.4 L657.6 619.8 L658.3 620 L659 620.2 L659.7 620.3 L660.4 620.2 L661.1 620.3 L661.8 619.9 L662.5 620.3 L663.2 619.9 L663.9 620.4 L664.6 620.5 L665.3 620.4 L666 620.2 L666.7 620.4 L667.4 620.2 L668.1 619.8 L668.8 620 L669.5 619.7 L670.2 619.8 L670.9 620.4 L671.6 620.5 L672.3 620.3 L673 620.2 L673.7 620 L674.4 620.1 L675.1 619.7 L675.8 620.1 L676.5 620.1 L677.2 620 L677.9 619.9 L678.6 620.7 L679.3 620.4 L680 620.2 L680.7 620 L681.4 620 L682.1 620.4 L682.8 620.5 L683.5 620.5 L684.2 620.5 L684.2 629.8 Z"/>
<path fill="#2000e4" d="M62.6 644 L62.6 639.3 L63.1 637.7 L63.6 641 L64.1 638.3 L64.6 638.4 L65.1 637.7 L65.6 637.4 L66.1 643.6 L66.6 636.8 L67.1 639.9 L67.6 637.4 L68.1 638.4 L68.6 636.9 L69.1 634.2 L69.6 631.2 L70.1 634.7 L70.6 638.7 L71.1 640.3 L71.6 636.4 L72.1 638.6 L72.6 640 L73.1 639.9 L73.6 639.8 L74.1 640.9 L74.6 640 L75.1 635.4 L75.6 640 L76.1 634.4 L76.6 640.2 L77.1 640.8 L77.6 642.1 L78.1 639.3 L78.6 641.4 L79.1 641.4 L79.6 638.7 L80.1 640.3 L80.6 638.9 L81.1 640.7 L81.6 639.7 L82.1 639.8 L82.6 642.1 L83.1 637.7 L83.6 639.3 L84.1 642.3 L84.6 641.1 L85.1 643.3 L85.6 639.3 L86.1 639.4 L86.6 643.6 L87.1 641.9 L87.6 640.6 L88.1 642.5 L88.6 640.9 L89.1 641.9 L89.6 640.1 L90.1 641.2 L90.6 639.2 L91.1 636.9 L91.6 639.2 L92.1 637.7 L92.6 640.8 L93.1 639.5 L93.6 636.4 L94.1 637.8 L94.6 640.1 L95.1 638.2 L95.6 636.4 L96.1 639.1 L96.6 638.7 L97.1 635.9 L97.6 636.6 L98.1 638.4 L98.6 634 L99.1 637.3 L99.6 634.4 L100.1 640.1 L100.6 638.7 L101.1 636.3 L101.6 635.8 L102.1 638.5 L102.6 636.4 L103.1 640.7 L103.6 641.8 L104.1 640.4 L104.6 640.7 L105.1 637.6 L105.6 631.2 L106.1 636 L106.6 637.3 L107.1 639.5 L107.6 640.4 L108.1 636.1 L108.6 637.6 L109.1 636.2 L109.6 635.6 L110.1 636.3 L110.6 642.1 L111.1 637.9 L111.6 637.9 L112.1 636.4 L112.6 635.1 L113.1 637.6 L113.6 641.5 L114.1 639.7 L114.6 638.3 L115.1 633.5 L115.6 637.9 L116.1 637.5 L116.6 638 L117.1 638.7 L117.6 640.2 L118.1 637.5 L118.6 637.7 L119.1 637.2 L119.6 639.3 L120.1 641.1 L120.6 637.5 L121.1 638.8 L121.6 635.3 L122.1 639.5 L122.6 641 L123.1 635.9 L123.6 636.8 L124.1 639 L124.6 641.1 L125.1 641.9 L125.6 638.3 L126.1 640.9 L126.6 642.7 L127.1 643.1 L127.6 642.1 L128.1 642.3 L128.6 643.2 L129.1 643.6 L129.6 640.8 L130.1 642 L130.6 638 L131.1 640.4 L131.6 641.6 L132.1 634.9 L132.6 640 L133.1 640.9 L133.6 639.5 L134.1 639.5 L134.6 638.5 L135.1 638 L135.6 639.9 L136.1 639.2 L136.6 635.2 L137.1 635 L137.6 638.3 L138.1 637.4 L138.6 638.3 L139.1 636.5 L139.6 638.7 L140.1 639.5 L140.6 639.9 L141.1 637.7 L141.6 635.8 L142.1 639.6 L142.6 638.8 L143.1 637.5 L143.6 637 L144.1 640.5 L144.6 636.8 L145.1 638.7 L145.6 639.6 L146.1 636.9 L146.6 638.3 L147.1 637.1 L147.6 640.1 L148.1 638.6 L148.6 642.6 L149.1 638.8 L149.6 640 L150.1 640.3 L150.6 639.1 L151.1 638.3 L151.6 640.7 L152.1 642.1 L152.6 637.4 L153.1 636.9 L153.6 638.5 L154.1 641.1 L154.6 640.9 L155.1 639.7 L155.6 640 L156.1 638.3 L156.6 637.9 L157.1 635.2 L157.6 640 L158.1 633.3 L158.6 638.3 L159.1 638.5 L159.6 641.2 L160.1 641 L160.6 637.5 L161.1 638.3 L161.6 637.1 L162.1 637.7 L162.6 637.5 L163.1 635.6 L163.6 636.6 L164.1 636.4 L164.6 638.9 L165.1 640.8 L165.6 631.6 L166.1 634.8 L166.6 638.7 L167.1 639.6 L167.6 639.7 L168.1 638.5 L168.6 638.9 L169.1 637.7 L169.6 634 L170.1 638.8 L170.6 640.2 L171.1 636.4 L171.6 635.8 L172.1 637.4 L172.6 637 L173.1 638.5 L173.6 637 L174.1 635.2 L174.6 636.3 L175.1 638.6 L175.6 637.4 L176.1 639.6 L176.6 635.7 L177.1 634.3 L177.6 639.9 L178.1 639.1 L178.6 638.5 L179.1 641.8 L179.6 635.9 L180.1 638.5 L180.6 637.3 L181.1 634.8 L181.6 635.5 L182.1 639.6 L182.6 637.2 L183.1 636.7 L183.6 636.1 L184.1 637.7 L184.6 641.1 L185.1 639.6 L185.6 634.6 L186.1 639.9 L186.6 638.9 L187.1 636.6 L187.6 638.7 L188.1 641.9 L188.6 634.9 L189.1 640.7 L189.6 638.7 L190.1 638.7 L190.6 634.7 L191.1 640.1 L191.6 639.6 L192.1 637.2 L192.6 636.6 L193.1 640.9 L193.6 639.8 L194.1 639.8 L194.6 635.7 L195.1 639 L195.6 639.1 L196.1 638.8 L196.6 635 L197.1 637.6 L197.6 637.9 L198.1 636.9 L198.6 635.5 L199.1 632.7 L199.6 632.5 L200.1 637.3 L200.6 636.7 L201.1 638.7 L201.6 637.1 L202.1 637.2 L202.6 641.4 L203.1 638.9 L203.6 634.7 L204.1 640.2 L204.6 636.8 L205.1 638.2 L205.6 641.5 L206.1 641.5 L206.6 635.6 L207.1 635.6 L207.6 637 L208.1 639.4 L208.6 641 L209.1 639.2 L209.6 638.7 L210.1 637.8 L210.6 637.8 L211.1 642.3 L211.6 643.3 L212.1 637.6 L212.6 640.1 L213.1 637.8 L213.6 637.5 L214.1 636.8 L214.6 638.3 L215.1 636.2 L215.6 642.3 L216.1 638.6 L216.6 637.1 L217.1 637.7 L217.6 635.1 L218.1 640.5 L218.6 637.7 L219.1 635.2 L219.6 637.7 L220.1 638.4 L220.6 639.5 L221.1 638.1 L221.6 643.5 L222.1 639.5 L222.6 640.3 L223.1 641.4 L223.6 641.3 L224.1 643.2 L224.6 643.1 L225.1 642.5 L225.6 643.4 L226.1 642 L226.6 640.6 L227.1 638.2 L227.6 639 L228.1 639.9 L228.6 634.8 L229.1 637.1 L229.6 637.3 L230.1 635.4 L230.6 637.3 L231.1 638.3 L231.6 638.1 L232.1 637.7 L232.6 636.8 L233.1 638.8 L233.6 642.1 L234.1 639.2 L234.6 640.6 L235.1 639.9 L235.6 638.9 L236.1 641.2 L236.6 638 L237.1 636.2 L237.6 639.2 L238.1 640.5 L238.6 638.1 L239.1 641.1 L239.6 635.6 L240.1 639.7 L240.6 638 L241.1 642.7 L241.6 639.1 L242.1 641.9 L242.6 640.2 L243.1 639.9 L243.6 639 L244.1 637.9 L244.6 633.7 L245.1 637.6 L245.6 640 L246.1 636.3 L246.6 636.9 L247.1 636.8 L247.6 639.4 L248.1 636.8 L248.6 639.4 L249.1 639.9 L249.6 638.5 L250.1 640.7 L250.6 638.2 L251.1 639 L251.6 633 L252.1 639.7 L252.6 639.1 L253.1 638.4 L253.6 639.2 L254.1 642.2 L254.6 640.8 L255.1 642 L255.6 633.8 L256.1 640.9 L256.6 640.7 L257.1 637.2 L257.6 637.8 L258.1 637 L258.6 639.6 L259.1 637.1 L259.6 642.6 L260.1 639.4 L260.6 639.7 L261.1 639.9 L261.6 639.9 L262.1 639.8 L262.6 633.8 L263.1 637.7 L263.6 640.3 L264.1 636 L264.6 637.1 L265.1 638.5 L265.6 638.5 L266.1 639.7 L266.6 642.1 L267.1 640.8 L267.6 638.6 L268.1 638.8 L268.6 639.9 L269.1 638 L269.6 636.9 L270.1 640 L270.6 640 L271.1 639.2 L271.6 637.1 L272.1 640 L272.6 641.1 L273.1 640.1 L273.6 640.1 L274.1 639.4 L274.6 640.9 L275.1 642.8 L275.6 642.5 L276.1 637 L276.6 637.4 L277.1 638.7 L277.6 640.9 L278.1 640.1 L278.6 640.4 L279.1 641.9 L279.6 643.6 L280.1 643.6 L280.6 643.6 L281.1 643.6 L281.6 641.5 L282.1 641 L282.6 638.7 L283.1 642.5 L283.6 639.8 L284.1 643.6 L284.6 641.9 L285.1 640.6 L285.6 641 L286.1 639.6 L286.6 635.9 L287.1 639.9 L287.6 638.2 L288.1 639.3 L288.6 642.3 L289.1 638.4 L289.6 641.3 L290.1 640.7 L290.6 637.3 L291.1 639.4 L291.6 641.6 L292.1 643.6 L292.6 641.4 L293.1 643.6 L293.6 640.8 L294.1 643 L294.6 643.5 L295.1 641.8 L295.6 641 L296.1 640.5 L296.6 641.3 L297.1 641.1 L297.6 640.1 L298.1 640.9 L298.6 635.5 L299.1 639.2 L299.6 637.2 L300.1 637.9 L300.6 638.1 L301.1 641.6 L301.6 638.2 L302.1 638.7 L302.6 638.6 L303.1 638.7 L303.6 641 L304.1 641.5 L304.6 637.4 L305.1 634.5 L305.6 639.4 L306.1 637.1 L306.6 641 L307.1 639.7 L307.6 640.4 L308.1 640.5 L308.6 635.4 L309.1 641.5 L309.6 638.7 L310.1 640.7 L310.6 637.7 L311.1 636.6 L311.6 638.6 L312.1 638.5 L312.6 638.8 L313.1 637.6 L313.6 639.6 L314.1 640 L314.6 638.4 L315.1 634.7 L315.6 637.4 L316.1 637.9 L316.6 637.4 L317.1 632.6 L317.6 636.6 L318.1 643.3 L318.6 643.6 L319.1 643.3 L319.6 643.3 L320.1 643.5 L320.6 643.6 L321.1 643.5 L321.6 643.2 L322.1 643.6 L322.6 643.6 L323.1 640.5 L323.6 643 L324.1 643.6 L324.6 643.6 L325.1 643.3 L325.6 643.5 L326.1 643.4 L326.6 643.6 L327.1 643.6 L327.6 643.6 L328.1 643.6 L328.6 643.6 L329.1 643.5 L329.6 643.6 L330.1 643.6 L330.6 643.6 L331.1 643.6 L331.6 643.6 L332.1 643.6 L332.6 643.6 L333.1 643.6 L333.6 643.2 L334.1 643.6 L334.6 643.6 L335.1 643.6 L335.6 643.6 L336.1 643.6 L336.6 643.6 L337.1 643.6 L337.6 643.6 L338.1 643.6 L338.6 643.6 L339.1 643.4 L339.6 643.6 L340.1 643.6 L340.6 640.1 L341.1 643.6 L341.6 643.6 L342.1 643.6 L342.6 643.6 L343.1 643.6 L343.6 643.6 L344.1 643.6 L344.6 643.6 L345.1 643.6 L345.6 643 L346.1 643.5 L346.6 643.4 L347.1 643.6 L347.6 643.6 L348.1 643.6 L348.6 643.6 L349.1 643.6 L349.6 643.2 L350.1 643.6 L350.6 643.2 L351.1 643.6 L351.6 643.5 L352.1 643.6 L352.6 643.6 L353.1 643.6 L353.6 643.6 L354.1 643.6 L354.6 641.4 L355.1 643.6 L355.6 643.6 L356.1 643.6 L356.6 643.6 L357.1 643.6 L357.6 643.6 L358.1 643.6 L358.6 643.6 L359.1 643.6 L359.6 643.6 L360.1 643.6 L360.6 643.6 L361.1 643.5 L361.6 643.6 L362.1 643.6 L362.6 643.6 L363.1 643.6 L363.6 643.6 L364.1 643.5 L364.6 643.6 L365.1 643.6 L365.6 643.6 L366.1 643.6 L366.6 643.2 L367.1 643.6 L367.6 643.6 L368.1 643.6 L368.6 643.3 L369.1 643.6 L369.6 643.1 L370.1 643.6 L370.6 643.6 L371.1 643.6 L371.6 643.6 L372.1 643.6 L372.6 643.6 L373.1 643.6 L373.6 643.6 L374.1 643.6 L374.6 643.6 L375.1 643.6 L375.6 643.6 L376.1 643.6 L376.6 643.6 L377.1 643.6 L377.6 643.6 L378.1 643.6 L378.6 643.3 L379.1 643.6 L379.6 643.6 L380.1 643.6 L380.6 643.6 L381.1 643.6 L381.6 643.6 L382.1 643.6 L382.6 643.6 L383.1 643.6 L383.6 643.6 L384.1 643.6 L384.6 643.6 L385.1 643.6 L385.6 643.6 L386.1 643.6 L386.6 643.6 L387.1 643.6 L387.6 643.6 L388.1 643.6 L388.6 643.6 L389.1 643.6 L389.6 643.6 L390.1 640.2 L390.6 643.6 L391.1 643.6 L391.6 643.6 L392.1 643.6 L392.6 643.5 L393.1 643.6 L393.6 643.6 L394.1 643.4 L394.6 643.6 L395.1 643.6 L395.6 643.6 L396.1 643.6 L396.6 643.5 L397.1 643.4 L397.6 640.7 L398.1 643.4 L398.6 643.4 L399.1 641.7 L399.6 643.6 L400.1 643.6 L400.6 643.6 L401.1 643.6 L401.6 643.6 L402.1 643.6 L402.6 643.6 L403.1 641 L403.6 643.6 L404.1 643.6 L404.6 643.6 L405.1 643.5 L405.6 643.4 L406.1 643 L406.6 643.6 L407.1 643.6 L407.6 643.4 L408.1 643.6 L408.6 643.6 L409.1 643.6 L409.6 643.6 L410.1 643.3 L410.6 643.4 L411.1 638.5 L411.6 637.5 L412.1 640.6 L412.6 641.5 L413.1 640.7 L413.6 639.2 L414.1 639.9 L414.6 638.3 L415.1 641.2 L415.6 641.6 L416.1 639.3 L416.6 638.4 L417.1 641.4 L417.6 638.2 L418.1 639.4 L418.6 640 L419.1 637.6 L419.6 638 L420.1 637.5 L420.6 638.8 L421.1 638.6 L421.6 641.2 L422.1 641.6 L422.6 639.5 L423.1 639.3 L423.6 636 L424.1 639.7 L424.6 638.9 L425.1 638.7 L425.6 640.1 L426.1 638.9 L426.6 636.1 L427.1 639.4 L427.6 641.1 L428.1 641.1 L428.6 641.4 L429.1 639.4 L429.6 640.9 L430.1 641.9 L430.6 640.6 L431.1 639.1 L431.6 639.9 L432.1 642.4 L432.6 640.1 L433.1 640.8 L433.6 640.6 L434.1 640.2 L434.6 641.2 L435.1 640.4 L435.6 640.5 L436.1 642.2 L436.6 642.9 L437.1 639 L437.6 639.8 L438.1 638.8 L438.6 638.7 L439.1 638.6 L439.6 639.8 L440.1 641.3 L440.6 641.5 L441.1 640.2 L441.6 638.8 L442.1 643.1 L442.6 641.1 L443.1 643.5 L443.6 642.9 L444.1 639.5 L444.6 641.1 L445.1 643.1 L445.6 640.4 L446.1 638.6 L446.6 643.1 L447.1 635.7 L447.6 637.9 L448.1 640 L448.6 639 L449.1 638.7 L449.6 639.6 L450.1 641.6 L450.6 643.6 L451.1 640.1 L451.6 639.6 L452.1 641.7 L452.6 640.7 L453.1 641 L453.6 641.8 L454.1 640.1 L454.6 639.7 L455.1 640.9 L455.6 642.1 L456.1 643 L456.6 640.2 L457.1 642 L457.6 643.6 L458.1 641.2 L458.6 639.9 L459.1 639.3 L459.6 640.6 L460.1 638.2 L460.6 640.1 L461.1 639.7 L461.6 640.4 L462.1 639.2 L462.6 641 L463.1 639.1 L463.6 639.1 L464.1 638.4 L464.6 635.4 L465.1 642 L465.6 640.6 L466.1 641.8 L466.6 640.9 L467.1 643.2 L467.6 643.6 L468.1 638.7 L468.6 641.9 L469.1 641.9 L469.6 640.8 L470.1 640.7 L470.6 642.3 L471.1 640.3 L471.6 642.2 L472.1 641.4 L472.6 640.5 L473.1 638.7 L473.6 639.8 L474.1 639.3 L474.6 639 L475.1 639.3 L475.6 640.9 L476.1 639 L476.6 641.1 L477.1 640.8 L477.6 640.7 L478.1 639.5 L478.6 640.3 L479.1 640.5 L479.6 638.9 L480.1 640.4 L480.6 640.6 L481.1 639.5 L481.6 637.8 L482.1 639.9 L482.6 639.3 L483.1 641.8 L483.6 639 L484.1 640.6 L484.6 637.9 L485.1 635.8 L485.6 637.4 L486.1 636.3 L486.6 639 L487.1 639.6 L487.6 636.5 L488.1 638.7 L488.6 633.8 L489.1 637.9 L489.6 638.4 L490.1 640.3 L490.6 635.8 L491.1 637.5 L491.6 636.8 L492.1 638.8 L492.6 637.4 L493.1 637.7 L493.6 639.1 L494.1 642.2 L494.6 642.7 L495.1 642.8 L495.6 643.6 L496.1 639.9 L496.6 638.3 L497.1 636.2 L497.6 640.3 L498.1 633.8 L498.6 636.7 L499.1 638.7 L499.6 636.3 L500.1 637.8 L500.6 637.4 L501.1 639.7 L501.6 639.6 L502.1 638.7 L502.6 638.5 L503.1 642.4 L503.6 638.4 L504.1 637.8 L504.6 638.2 L505.1 639.7 L505.6 632.4 L506.1 637.9 L506.6 637.8 L507.1 637 L507.6 636.5 L508.1 639 L508.6 636.7 L509.1 637.1 L509.6 634.1 L510.1 641.7 L510.6 635 L511.1 643.6 L511.6 638.4 L512.1 636.1 L512.6 637.2 L513.1 638.6 L513.6 643 L514.1 635.1 L514.6 636.7 L515.1 639.5 L515.6 640.5 L516.1 635.3 L516.6 631.4 L517.1 636.7 L517.6 637.2 L518.1 640.3 L518.6 636.9 L519.1 636.1 L519.6 638.9 L520.1 640 L520.6 639 L521.1 638.4 L521.6 634.9 L522.1 636 L522.6 638.4 L523.1 634.8 L523.6 637.8 L524.1 636.7 L524.6 637 L525.1 639.6 L525.6 640.7 L526.1 640.9 L526.6 638 L527.1 638.1 L527.6 639 L528.1 635.7 L528.6 638.1 L529.1 643.3 L529.6 636.4 L530.1 636.9 L530.6 632.6 L531.1 638.5 L531.6 640.7 L532.1 637.7 L532.6 641.4 L533.1 639.6 L533.6 638.7 L534.1 641.1 L534.6 640.5 L535.1 635.8 L535.6 639.2 L536.1 640.7 L536.6 641.7 L537.1 638.7 L537.6 638 L538.1 639.5 L538.6 637.2 L539.1 638.5 L539.6 639.1 L540.1 637.1 L540.6 640.7 L541.1 641.6 L541.6 637.9 L542.1 637.8 L542.6 633.5 L543.1 637.5 L543.6 637.7 L544.1 638.5 L544.6 638.1 L545.1 636.6 L545.6 633.2 L546.1 636.5 L546.6 637.3 L547.1 636.7 L547.6 640.3 L548.1 637.9 L548.6 640 L549.1 639 L549.6 641.7 L550.1 642.1 L550.6 640.3 L551.1 638.8 L551.6 634.7 L552.1 641.1 L552.6 635.3 L553.1 634.8 L553.6 638.3 L554.1 639.8 L554.6 638.3 L555.1 638 L555.6 634.8 L556.1 634.9 L556.6 638.1 L557.1 635.6 L557.6 634.6 L558.1 638.7 L558.6 638.9 L559.1 641.2 L559.6 635.6 L560.1 640.1 L560.6 636.9 L561.1 640.2 L561.6 639 L562.1 639.9 L562.6 642 L563.1 639.5 L563.6 638.6 L564.1 637.5 L564.6 641.8 L565.1 636.8 L565.6 637 L566.1 641.3 L566.6 641.1 L567.1 640.9 L567.6 641 L568.1 639.1 L568.6 641.9 L569.1 637.7 L569.6 637.8 L570.1 636.5 L570.6 631.7 L571.1 639 L571.6 634.8 L572.1 637.8 L572.6 641.1 L573.1 640.6 L573.6 638.1 L574.1 640.2 L574.6 640.9 L575.1 639.1 L575.6 637.5 L576.1 642.3 L576.6 637.4 L577.1 643 L577.6 640.7 L578.1 643.6 L578.6 641 L579.1 643.3 L579.6 643.1 L580.1 641.9 L580.6 640.7 L581.1 639.8 L581.6 640.2 L582.1 636.1 L582.6 640.4 L583.1 638.2 L583.6 641.6 L584.1 639.6 L584.6 639.1 L585.1 639 L585.6 642.3 L586.1 636.8 L586.6 639.8 L587.1 638.8 L587.6 635.3 L588.1 637.2 L588.6 636.3 L589.1 639.4 L589.6 638.4 L590.1 639.4 L590.6 642.6 L591.1 641.7 L591.6 640.9 L592.1 641.2 L592.6 636.7 L593.1 637.2 L593.6 639.2 L594.1 637.6 L594.6 637.9 L595.1 636.8 L595.6 638.6 L596.1 639.2 L596.6 640.9 L597.1 639.8 L597.6 637.8 L598.1 637.2 L598.6 639.1 L599.1 635.8 L599.6 637.5 L600.1 639.1 L600.6 638 L601.1 640.4 L601.6 638.6 L602.1 639.9 L602.6 637.6 L603.1 637 L603.6 639.7 L604.1 638.7 L604.6 638.4 L605.1 640.2 L605.6 639 L606.1 640.3 L606.6 636.8 L607.1 637.9 L607.6 639 L608.1 640.8 L608.6 636.8 L609.1 641.8 L609.6 640.6 L610.1 642.9 L610.6 636.9 L611.1 637.7 L611.6 641.7 L612.1 639.8 L612.6 636.5 L613.1 638.2 L613.6 634.6 L614.1 631.2 L614.6 636 L615.1 639.3 L615.6 637.6 L616.1 639.3 L616.6 638.2 L617.1 637.6 L617.6 639.7 L618.1 640.6 L618.6 636.8 L619.1 639.2 L619.6 637 L620.1 635.9 L620.6 641.6 L621.1 641.7 L621.6 636.1 L622.1 640.7 L622.6 639.3 L623.1 639.7 L623.6 638 L624.1 632.7 L624.6 638.6 L625.1 639.1 L625.6 639.7 L626.1 643.6 L626.6 639.4 L627.1 641.4 L627.6 640.1 L628.1 640.4 L628.6 635.3 L629.1 642.8 L629.6 637.1 L630.1 637.6 L630.6 641.3 L631.1 639.6 L631.6 638.4 L632.1 637.7 L632.6 637.7 L633.1 639 L633.6 636.6 L634.1 638.3 L634.6 639.6 L635.1 637.1 L635.6 635.6 L636.1 639.7 L636.6 639.7 L637.1 637.7 L637.6 639.3 L638.1 634.3 L638.6 635.6 L639.1 639.2 L639.6 637.5 L640.1 634.7 L640.6 639.7 L641.1 639.2 L641.6 641.7 L642.1 638 L642.6 637.9 L643.1 637.9 L643.6 639.6 L644.1 636.4 L644.6 638.3 L645.1 637.6 L645.6 640 L646.1 639.5 L646.6 642 L647.1 633.1 L647.6 637.7 L648.1 634.2 L648.6 637.4 L649.1 642 L649.6 639.7 L650.1 636.7 L650.6 638.8 L651.1 641.1 L651.6 636.3 L652.1 639.5 L652.6 639.9 L653.1 641 L653.6 642.9 L654.1 637.5 L654.6 639.7 L655.1 641.2 L655.6 639.3 L656.1 638.6 L656.6 635.7 L657.1 642.2 L657.6 632.1 L658.1 641 L658.6 641.2 L659.1 641.2 L659.6 637.3 L660.1 641.1 L660.6 638.7 L661.1 636.5 L661.6 636.8 L662.1 638.9 L662.6 637.9 L663.1 641.8 L663.6 639.4 L664.1 640.3 L664.6 640.4 L665.1 641.4 L665.6 640.5 L666.1 638.9 L666.6 635.4 L667.1 641 L667.6 637.8 L668.1 638.1 L668.6 637.1 L669.1 637.5 L669.6 637.1 L670.1 636.1 L670.6 637.2 L671.1 638.7 L671.6 634.5 L672.1 637.6 L672.6 640.3 L673.1 641.8 L673.6 640.5 L674.1 636.4 L674.6 642 L675.1 638 L675.6 637.2 L676.1 639.1 L676.6 639.3 L677.1 639.4 L677.6 638.3 L678.1 638.7 L678.6 640 L679.1 642 L679.6 637.5 L680.1 643.6 L680.6 636.9 L681.1 642.4 L681.6 638.2 L682.1 640.6 L682.6 640.9 L683.1 639.8 L683.6 639.9 L684.1 637.3 L684.2 644 Z"/>
<path fill="#2000e4" d="M62.6 658.6 L62.6 652.8 L63.1 655.5 L63.6 650.8 L64.1 651.1 L64.6 651.6 L65.1 648.7 L65.6 653.1 L66.1 650.2 L66.6 652.1 L67.1 652.1 L67.6 648.2 L68.1 653.5 L68.6 651.7 L69.1 652.3 L69.6 653.2 L70.1 655.3 L70.6 653.1 L71.1 651.8 L71.6 651.9 L72.1 651.5 L72.6 654.5 L73.1 651.4 L73.6 652.4 L74.1 657 L74.6 649.8 L75.1 653.5 L75.6 651.3 L76.1 648.8 L76.6 647.8 L77.1 652.2 L77.6 653.3 L78.1 653.9 L78.6 651.2 L79.1 653.7 L79.6 653 L80.1 650.7 L80.6 652 L81.1 655.9 L81.6 655.2 L82.1 651.3 L82.6 653.6 L83.1 647.8 L83.6 652.3 L84.1 652.3 L84.6 655 L85.1 656.5 L85.6 653 L86.1 651.2 L86.6 658 L87.1 653.4 L87.6 657.1 L88.1 655.6 L88.6 655.5 L89.1 656.5 L89.6 648.1 L90.1 656.7 L90.6 655.5 L91.1 656 L91.6 655.8 L92.1 656.8 L92.6 649.9 L93.1 654 L93.6 653.9 L94.1 655.4 L94.6 652.8 L95.1 655.1 L95.6 655.1 L96.1 653.2 L96.6 656.8 L97.1 653.3 L97.6 657.4 L98.1 654.1 L98.6 653.1 L99.1 655.3 L99.6 648.2 L100.1 655.1 L100.6 653.5 L101.1 653 L101.6 651.2 L102.1 655.2 L102.6 654.1 L103.1 654.6 L103.6 651.1 L104.1 651 L104.6 649.9 L105.1 653.4 L105.6 651.3 L106.1 653.4 L106.6 648 L107.1 649.9 L107.6 652.5 L108.1 649.8 L108.6 651.8 L109.1 649.7 L109.6 649.5 L110.1 649.4 L110.6 646.3 L111.1 647.7 L111.6 651.1 L112.1 646.5 L112.6 651.9 L113.1 652.5 L113.6 651 L114.1 655.6 L114.6 654.7 L115.1 655.3 L115.6 657 L116.1 653.4 L116.6 657.3 L117.1 657.4 L117.6 653.3 L118.1 650.2 L118.6 652.2 L119.1 654 L119.6 652.7 L120.1 654.2 L120.6 652.3 L121.1 654.1 L121.6 656.7 L122.1 653.6 L122.6 656.9 L123.1 652.6 L123.6 653.9 L124.1 651.3 L124.6 655.8 L125.1 653.8 L125.6 655.9 L126.1 654.9 L126.6 649.8 L127.1 655.4 L127.6 654.3 L128.1 658.2 L128.6 656.2 L129.1 658.2 L129.6 652.7 L130.1 652.9 L130.6 654.7 L131.1 653.7 L131.6 657.2 L132.1 650.7 L132.6 651.8 L133.1 653.2 L133.6 649.2 L134.1 658.2 L134.6 651.2 L135.1 648.8 L135.6 651.7 L136.1 650.8 L136.6 650.9 L137.1 651.7 L137.6 654.3 L138.1 653.4 L138.6 650.8 L139.1 650.8 L139.6 652.3 L140.1 653.2 L140.6 651.1 L141.1 652.7 L141.6 650.3 L142.1 655.9 L142.6 652 L143.1 658 L143.6 653.7 L144.1 654.8 L144.6 655.1 L145.1 654.9 L145.6 646.2 L146.1 651 L146.6 656.6 L147.1 654.3 L147.6 654.6 L148.1 652.9 L148.6 651.3 L149.1 648.4 L149.6 650.8 L150.1 654.2 L150.6 657 L151.1 655.1 L151.6 653.9 L152.1 654.4 L152.6 652.4 L153.1 653.1 L153.6 653.7 L154.1 656.7 L154.6 654.7 L155.1 658.2 L155.6 653 L156.1 650 L156.6 657.5 L157.1 656.6 L157.6 652.1 L158.1 650.2 L158.6 653.7 L159.1 651.6 L159.6 652.6 L160.1 652.8 L160.6 652.7 L161.1 654.7 L161.6 653.4 L162.1 653 L162.6 654.5 L163.1 658.2 L163.6 654.9 L164.1 653.8 L164.6 651.8 L165.1 652.1 L165.6 654.8 L166.1 653.2 L166.6 653 L167.1 648 L167.6 654.5 L168.1 653.1 L168.6 652.7 L169.1 657.6 L169.6 658 L170.1 656.5 L170.6 657.9 L171.1 655.1 L171.6 656 L172.1 653.4 L172.6 657.2 L173.1 655.6 L173.6 654.6 L174.1 656.5 L174.6 652 L175.1 654.4 L175.6 653 L176.1 649.9 L176.6 653.1 L177.1 658.2 L177.6 653 L178.1 658 L178.6 654 L179.1 656.5 L179.6 656.3 L180.1 654.5 L180.6 649 L181.1 656.8 L181.6 654.3 L182.1 653.4 L182.6 654 L183.1 654.3 L183.6 654 L184.1 652 L184.6 656 L185.1 653.2 L185.6 654.4 L186.1 655.1 L186.6 653.7 L187.1 658.2 L187.6 657.6 L188.1 657.5 L188.6 652.9 L189.1 654 L189.6 654.1 L190.1 650.9 L190.6 653 L191.1 654.7 L191.6 654.8 L192.1 652.6 L192.6 652.6 L193.1 649.8 L193.6 652.3 L194.1 652.5 L194.6 655.3 L195.1 652.4 L195.6 648.8 L196.1 651.9 L196.6 651.8 L197.1 648.6 L197.6 650.9 L198.1 649.7 L198.6 653.2 L199.1 652.7 L199.6 652.3 L200.1 656.8 L200.6 656.2 L201.1 655.8 L201.6 657.9 L202.1 651.7 L202.6 652.7 L203.1 651.7 L203.6 653.3 L204.1 651 L204.6 645.5 L205.1 655.4 L205.6 654 L206.1 654.5 L206.6 657.3 L207.1 652.3 L207.6 654.3 L208.1 654.8 L208.6 652.3 L209.1 651 L209.6 650.5 L210.1 651.9 L210.6 658.2 L211.1 656.3 L211.6 652.8 L212.1 654 L212.6 656.3 L213.1 645.4 L213.6 657.6 L214.1 656.7 L214.6 655.8 L215.1 652.4 L215.6 655.6 L216.1 654 L216.6 655.4 L217.1 656.9 L217.6 652.8 L218.1 653 L218.6 658.2 L219.1 655.4 L219.6 654.6 L220.1 654.4 L220.6 651.3 L221.1 652.3 L221.6 651.9 L222.1 650.5 L222.6 651.8 L223.1 651.2 L223.6 651.3 L224.1 652.5 L224.6 650.2 L225.1 654.5 L225.6 651.7 L226.1 651 L226.6 651.6 L227.1 654.1 L227.6 657.9 L228.1 655.4 L228.6 655.3 L229.1 657.2 L229.6 656.1 L230.1 655 L230.6 655.7 L231.1 653.3 L231.6 653.2 L232.1 653.8 L232.6 657.7 L233.1 655.4 L233.6 658.2 L234.1 652.3 L234.6 656.6 L235.1 654.1 L235.6 653.6 L236.1 652.5 L236.6 657.1 L237.1 649.6 L237.6 656.2 L238.1 653.6 L238.6 652.3 L239.1 656.6 L239.6 658.2 L240.1 658.2 L240.6 655.2 L241.1 654.1 L241.6 654.8 L242.1 653.2 L242.6 652.7 L243.1 652.8 L243.6 655.4 L244.1 651.6 L244.6 656.6 L245.1 651.6 L245.6 656 L246.1 654.7 L246.6 655.8 L247.1 658.2 L247.6 656.7 L248.1 653.5 L248.6 656.1 L249.1 657.4 L249.6 657.4 L250.1 658.2 L250.6 658.2 L251.1 654.7 L251.6 653.7 L252.1 655.2 L252.6 657.2 L253.1 655.3 L253.6 652.5 L254.1 657.8 L254.6 652.8 L255.1 656.3 L255.6 653.1 L256.1 654.7 L256.6 652.7 L257.1 658.2 L257.6 656.5 L258.1 654.9 L258.6 653.6 L259.1 655.1 L259.6 652.8 L260.1 657.6 L260.6 655.1 L261.1 653.9 L261.6 651.5 L262.1 648.3 L262.6 653.6 L263.1 656.6 L263.6 656.3 L264.1 651.8 L264.6 654.6 L265.1 651.8 L265.6 657.7 L266.1 654 L266.6 656.9 L267.1 655.8 L267.6 655 L268.1 654 L268.6 653.4 L269.1 653 L269.6 650.8 L270.1 649.9 L270.6 651.2 L271.1 651.9 L271.6 653.6 L272.1 651.8 L272.6 656 L273.1 651.8 L273.6 650.8 L274.1 653.8 L274.6 652.6 L275.1 654.1 L275.6 649.7 L276.1 647 L276.6 651.1 L277.1 652.8 L277.6 647.3 L278.1 652.7 L278.6 646.2 L279.1 650.5 L279.6 651.9 L280.1 655.3 L280.6 647 L281.1 653.4 L281.6 650.3 L282.1 649.3 L282.6 649.8 L283.1 649.4 L283.6 652.9 L284.1 647.4 L284.6 651.9 L285.1 650.2 L285.6 648.7 L286.1 653.4 L286.6 651.8 L287.1 651.9 L287.6 655 L288.1 652.6 L288.6 654.6 L289.1 655.6 L289.6 653.6 L290.1 656.5 L290.6 653.2 L291.1 657.7 L291.6 655.5 L292.1 651.1 L292.6 652 L293.1 650.8 L293.6 650.4 L294.1 656.2 L294.6 651.6 L295.1 653.1 L295.6 655 L296.1 655.4 L296.6 653 L297.1 654 L297.6 651.2 L298.1 651.1 L298.6 649.9 L299.1 652.5 L299.6 653.2 L300.1 654 L300.6 654.2 L301.1 648.7 L301.6 653.9 L302.1 657.2 L302.6 654.5 L303.1 655.3 L303.6 653.9 L304.1 653.8 L304.6 653.2 L305.1 647.9 L305.6 649.4 L306.1 654.2 L306.6 655.1 L307.1 652.9 L307.6 656.2 L308.1 652.8 L308.6 649.9 L309.1 649.2 L309.6 650.7 L310.1 650.7 L310.6 650.5 L311.1 654 L311.6 652.8 L312.1 651.1 L312.6 652.1 L313.1 654.8 L313.6 656.2 L314.1 652.8 L314.6 655.7 L315.1 645.4 L315.6 648.4 L316.1 652.9 L316.6 654.2 L317.1 652.5 L317.6 649.9 L318.1 655.2 L318.6 652.8 L319.1 655.9 L319.6 653.7 L320.1 655.2 L320.6 655.6 L321.1 656.5 L321.6 656.8 L322.1 654.1 L322.6 650.5 L323.1 654.5 L323.6 653.6 L324.1 653.9 L324.6 656 L325.1 654.1 L325.6 656.6 L326.1 650.9 L326.6 654.9 L327.1 655.3 L327.6 655.3 L328.1 656.4 L328.6 649.7 L329.1 656.4 L329.6 656.3 L330.1 655.9 L330.6 651.8 L331.1 656.4 L331.6 658.2 L332.1 652.5 L332.6 656.7 L333.1 656.1 L333.6 655.9 L334.1 655 L334.6 656.3 L335.1 654.3 L335.6 655.2 L336.1 655.1 L336.6 651.6 L337.1 654.3 L337.6 658.2 L338.1 652.3 L338.6 649.2 L339.1 655 L339.6 657 L340.1 654.8 L340.6 656.9 L341.1 654.3 L341.6 652.7 L342.1 652.8 L342.6 655.1 L343.1 654.8 L343.6 656.9 L344.1 653.9 L344.6 654.3 L345.1 655.2 L345.6 656.1 L346.1 656.9 L346.6 655.9 L347.1 653.7 L347.6 653.3 L348.1 654.7 L348.6 657.6 L349.1 655.3 L349.6 656.7 L350.1 658.2 L350.6 658.2 L351.1 656.5 L351.6 654.3 L352.1 655.2 L352.6 654.9 L353.1 655.8 L353.6 653.6 L354.1 657.3 L354.6 655.4 L355.1 654.6 L355.6 656.6 L356.1 656.7 L356.6 654.6 L357.1 654.9 L357.6 653 L358.1 654.6 L358.6 655.8 L359.1 655 L359.6 655.3 L360.1 655.3 L360.6 657.1 L361.1 655.3 L361.6 654 L362.1 652.6 L362.6 653.9 L363.1 652.8 L363.6 655.6 L364.1 655.6 L364.6 653.9 L365.1 654.5 L365.6 654.7 L366.1 653.5 L366.6 652.6 L367.1 656.4 L367.6 654 L368.1 655.5 L368.6 653.9 L369.1 655.7 L369.6 652.1 L370.1 655.7 L370.6 654.6 L371.1 646.9 L371.6 654.4 L372.1 653.8 L372.6 654 L373.1 655.4 L373.6 653 L374.1 656.5 L374.6 655.2 L375.1 653.1 L375.6 658.2 L376.1 653 L376.6 656.6 L377.1 654.9 L377.6 654 L378.1 656.2 L378.6 657.3 L379.1 656 L379.6 655.7 L380.1 655.7 L380.6 653 L381.1 655 L381.6 657.1 L382.1 656 L382.6 652.9 L383.1 655.3 L383.6 656.1 L384.1 655.3 L384.6 653.6 L385.1 654.6 L385.6 657.9 L386.1 654.1 L386.6 656.6 L387.1 657.6 L387.6 656.9 L388.1 655.6 L388.6 657.2 L389.1 656.2 L389.6 656.2 L390.1 654.3 L390.6 655.7 L391.1 652.7 L391.6 655.4 L392.1 652.8 L392.6 654.5 L393.1 655.5 L393.6 652.8 L394.1 653.8 L394.6 656.5 L395.1 656.4 L395.6 654.5 L396.1 655.4 L396.6 657.1 L397.1 654.2 L397.6 657.6 L398.1 657.6 L398.6 655.7 L399.1 656.3 L399.6 658.2 L400.1 652 L400.6 654.5 L401.1 657.4 L401.6 652 L402.1 655 L402.6 653.2 L403.1 654.6 L403.6 654.3 L404.1 655.5 L404.6 657 L405.1 654.7 L405.6 656 L406.1 653.8 L406.6 654.6 L407.1 654.3 L407.6 655.3 L408.1 653.7 L408.6 654.1 L409.1 653.6 L409.6 654.2 L410.1 657.5 L410.6 655.5 L411.1 655.2 L411.6 653.6 L412.1 650.5 L412.6 654.2 L413.1 653.1 L413.6 652.1 L414.1 652.4 L414.6 654.1 L415.1 652.5 L415.6 655 L416.1 656.3 L416.6 654.6 L417.1 652.2 L417.6 652.7 L418.1 651.6 L418.6 655.7 L419.1 652.9 L419.6 653.3 L420.1 652.8 L420.6 651.6 L421.1 655.6 L421.6 655.3 L422.1 656.9 L422.6 651.5 L423.1 653.3 L423.6 653.2 L424.1 652.3 L424.6 651.4 L425.1 653 L425.6 652.9 L426.1 656.9 L426.6 656.8 L427.1 650.8 L427.6 655.7 L428.1 655.4 L428.6 650.9 L429.1 652.8 L429.6 653.3 L430.1 653.9 L430.6 653 L431.1 653.4 L431.6 654.5 L432.1 653.1 L432.6 652.6 L433.1 652.5 L433.6 652.7 L434.1 650.9 L434.6 655.1 L435.1 655.8 L435.6 652.6 L436.1 654.8 L436.6 652.4 L437.1 652.5 L437.6 654.2 L438.1 653 L438.6 653.3 L439.1 652.4 L439.6 652.5 L440.1 650.7 L440.6 653.1 L441.1 653.6 L441.6 651.2 L442.1 652.7 L442.6 653.5 L443.1 658.2 L443.6 652.3 L444.1 654.3 L444.6 656.6 L445.1 651.9 L445.6 657.2 L446.1 656.6 L446.6 654.1 L447.1 652.3 L447.6 658.2 L448.1 657.5 L448.6 655.2 L449.1 654.1 L449.6 658.2 L450.1 654.3 L450.6 649 L451.1 654.7 L451.6 655.1 L452.1 655.4 L452.6 648.9 L453.1 652.9 L453.6 653.3 L454.1 655 L454.6 651.4 L455.1 655.6 L455.6 654.6 L456.1 656.7 L456.6 656.3 L457.1 653.8 L457.6 651.6 L458.1 653.3 L458.6 654.7 L459.1 652.5 L459.6 652.2 L460.1 653.7 L460.6 655.2 L461.1 651.2 L461.6 655 L462.1 654.4 L462.6 657.1 L463.1 652.8 L463.6 655.6 L464.1 655.8 L464.6 652.8 L465.1 651.6 L465.6 653.8 L466.1 650.2 L466.6 651.3 L467.1 653 L467.6 653.9 L468.1 655.3 L468.6 653.2 L469.1 654.2 L469.6 655.4 L470.1 656.7 L470.6 649 L471.1 653.8 L471.6 654.5 L472.1 654 L472.6 656.4 L473.1 654.7 L473.6 655.1 L474.1 652.2 L474.6 653.5 L475.1 653.6 L475.6 657.1 L476.1 654.3 L476.6 655 L477.1 655.8 L477.6 651.9 L478.1 657.4 L478.6 654.7 L479.1 657.9 L479.6 657.6 L480.1 654.3 L480.6 647.4 L481.1 650.4 L481.6 648.8 L482.1 654.3 L482.6 657.9 L483.1 655.6 L483.6 656.1 L484.1 653.4 L484.6 653.1 L485.1 654.1 L485.6 654.2 L486.1 651 L486.6 652.2 L487.1 653.6 L487.6 648.2 L488.1 651.5 L488.6 652.4 L489.1 652.4 L489.6 651.6 L490.1 653 L490.6 654.7 L491.1 652.9 L491.6 652.1 L492.1 651.1 L492.6 647.9 L493.1 652.7 L493.6 650.9 L494.1 650.8 L494.6 651.2 L495.1 652.7 L495.6 653.1 L496.1 653.6 L496.6 655 L497.1 655.9 L497.6 651 L498.1 649.9 L498.6 651.5 L499.1 653.4 L499.6 652.7 L500.1 652.8 L500.6 655.7 L501.1 653.1 L501.6 653.6 L502.1 652.8 L502.6 654.2 L503.1 652.3 L503.6 650.5 L504.1 654.6 L504.6 653.6 L505.1 649.6 L505.6 650.2 L506.1 651.8 L506.6 653.3 L507.1 653.1 L507.6 657.7 L508.1 654.3 L508.6 650.9 L509.1 652.2 L509.6 655.3 L510.1 655.6 L510.6 651.7 L511.1 652.8 L511.6 649 L512.1 652.1 L512.6 651.8 L513.1 652.5 L513.6 650.6 L514.1 650 L514.6 652.4 L515.1 645.4 L515.6 651 L516.1 652 L516.6 649.6 L517.1 652 L517.6 648.5 L518.1 651.5 L518.6 653.3 L519.1 652.4 L519.6 650.4 L520.1 654 L520.6 652.3 L521.1 654.9 L521.6 652 L522.1 653 L522.6 654 L523.1 655.1 L523.6 652.3 L524.1 657 L524.6 649.4 L525.1 654.3 L525.6 654.1 L526.1 652.3 L526.6 652.4 L527.1 650.8 L527.6 651.5 L528.1 652.3 L528.6 647.9 L529.1 651.2 L529.6 651.7 L530.1 655.1 L530.6 652.1 L531.1 656 L531.6 653.4 L532.1 655 L532.6 653.2 L533.1 653.7 L533.6 647.6 L534.1 652 L534.6 652.4 L535.1 648.2 L535.6 650.5 L536.1 651.3 L536.6 651.7 L537.1 654.5 L537.6 651.6 L538.1 652.8 L538.6 651.4 L539.1 652 L539.6 650.7 L540.1 650.9 L540.6 653.7 L541.1 652.3 L541.6 651.8 L542.1 653 L542.6 650.1 L543.1 645.4 L543.6 648.9 L544.1 652.1 L544.6 650.1 L545.1 655.6 L545.6 656 L546.1 655.7 L546.6 658.2 L547.1 654.6 L547.6 654.1 L548.1 656 L548.6 652.6 L549.1 653.4 L549.6 655.1 L550.1 658.2 L550.6 655.6 L551.1 657 L551.6 656.8 L552.1 656.6 L552.6 653 L553.1 656.2 L553.6 655.1 L554.1 648.4 L554.6 651.5 L555.1 649.3 L555.6 653 L556.1 648.9 L556.6 647.6 L557.1 652.2 L557.6 654.5 L558.1 655.2 L558.6 653.3 L559.1 653.5 L559.6 645.4 L560.1 652.3 L560.6 653.3 L561.1 650.9 L561.6 651.1 L562.1 651.6 L562.6 653.4 L563.1 654.9 L563.6 653.2 L564.1 654.2 L564.6 655 L565.1 652.2 L565.6 652.2 L566.1 653.4 L566.6 652.9 L567.1 654.4 L567.6 654.1 L568.1 657 L568.6 657.2 L569.1 651.2 L569.6 654.8 L570.1 657.8 L570.6 652.9 L571.1 654.6 L571.6 654.1 L572.1 650.3 L572.6 649.3 L573.1 646.6 L573.6 650.9 L574.1 654 L574.6 651.7 L575.1 648.3 L575.6 651 L576.1 650.2 L576.6 653.9 L577.1 651.9 L577.6 647.5 L578.1 649.1 L578.6 655.9 L579.1 656.6 L579.6 653.2 L580.1 651.2 L580.6 650 L581.1 652.6 L581.6 653.4 L582.1 650.8 L582.6 654.2 L583.1 651.8 L583.6 652.6 L584.1 652.7 L584.6 653.3 L585.1 650.5 L585.6 654.1 L586.1 653.6 L586.6 651.2 L587.1 654.9 L587.6 655.6 L588.1 651.5 L588.6 651.5 L589.1 652.7 L589.6 653.2 L590.1 652.5 L590.6 651.8 L591.1 651.8 L591.6 654.8 L592.1 651.1 L592.6 648.5 L593.1 651.4 L593.6 654.7 L594.1 649.7 L594.6 651.6 L595.1 651.3 L595.6 651.2 L596.1 652.6 L596.6 651.7 L597.1 646.6 L597.6 650 L598.1 654.7 L598.6 651.8 L599.1 652.4 L599.6 652.6 L600.1 654 L600.6 654.8 L601.1 651.8 L601.6 654.4 L602.1 656.2 L602.6 651.8 L603.1 651.9 L603.6 648.6 L604.1 650.7 L604.6 650.2 L605.1 649.7 L605.6 650.5 L606.1 651.3 L606.6 651.1 L607.1 651.9 L607.6 652.3 L608.1 652.7 L608.6 652.1 L609.1 645.4 L609.6 649.9 L610.1 652.9 L610.6 651.6 L611.1 655.8 L611.6 653.8 L612.1 654.6 L612.6 655.6 L613.1 656.7 L613.6 658.2 L614.1 651.9 L614.6 653.3 L615.1 652.6 L615.6 656.1 L616.1 645.4 L616.6 654.7 L617.1 651 L617.6 651.7 L618.1 649.2 L618.6 648.9 L619.1 657.8 L619.6 657.6 L620.1 652.3 L620.6 650.4 L621.1 657.4 L621.6 655.7 L622.1 651.4 L622.6 651 L623.1 650.4 L623.6 651.5 L624.1 654.9 L624.6 651.4 L625.1 653.2 L625.6 655.9 L626.1 651.3 L626.6 651.4 L627.1 651.1 L627.6 646.3 L628.1 653.3 L628.6 653.3 L629.1 650.1 L629.6 651.9 L630.1 651.9 L630.6 654.2 L631.1 652.2 L631.6 654.5 L632.1 657.5 L632.6 656.3 L633.1 650.7 L633.6 651.1 L634.1 655.6 L634.6 655.6 L635.1 655.2 L635.6 653.6 L636.1 653.2 L636.6 649.2 L637.1 652.7 L637.6 657 L638.1 658.2 L638.6 649.1 L639.1 652.5 L639.6 648.9 L640.1 655.4 L640.6 654.3 L641.1 651.9 L641.6 653.2 L642.1 651.9 L642.6 653.5 L643.1 654.4 L643.6 652 L644.1 653.1 L644.6 655.4 L645.1 655.4 L645.6 654.6 L646.1 657.2 L646.6 653.2 L647.1 651.1 L647.6 653.7 L648.1 654 L648.6 653.6 L649.1 652 L649.6 648.6 L650.1 650.2 L650.6 653.1 L651.1 648.7 L651.6 653.7 L652.1 651.5 L652.6 653.2 L653.1 650.4 L653.6 655.3 L654.1 658 L654.6 656.4 L655.1 654.4 L655.6 651.4 L656.1 649 L656.6 653.8 L657.1 652.4 L657.6 650.2 L658.1 654.3 L658.6 651 L659.1 646.2 L659.6 645.8 L660.1 651.4 L660.6 651.7 L661.1 654.6 L661.6 652.4 L662.1 656.8 L662.6 657.3 L663.1 653.8 L663.6 652.4 L664.1 652.7 L664.6 655.7 L665.1 654.5 L665.6 652.2 L666.1 655 L666.6 652.9 L667.1 651.4 L667.6 654.3 L668.1 651.5 L668.6 655.9 L669.1 656.1 L669.6 656.2 L670.1 653.5 L670.6 650.9 L671.1 654.3 L671.6 655.2 L672.1 656.8 L672.6 653.4 L673.1 651.6 L673.6 649 L674.1 655 L674.6 648.7 L675.1 652.6 L675.6 651.6 L676.1 650.3 L676.6 646.8 L677.1 649.9 L677.6 650.1 L678.1 655.1 L678.6 654.2 L679.1 652.6 L679.6 649.2 L680.1 655.8 L680.6 649.1 L681.1 653.9 L681.6 654.2 L682.1 650.7 L682.6 650.7 L683.1 651.6 L683.6 648.3 L684.1 655.1 L684.2 658.6 Z"/>
<text x="63.9" y="604.7" class="s" font-size="3.1" fill="#444">[0 - 40]</text>
<text x="63.9" y="619.5" class="s" font-size="3.1" fill="#444">[0 - 40]</text>
<text x="63.9" y="633.4" class="s" font-size="3.1" fill="#444">[0 - 20]</text>
<text x="63.9" y="647.6" class="s" font-size="3.1" fill="#444">[0 - 20]</text>
<text x="343.3" y="606.2" class="r" font-size="4.36" fill="#111" text-anchor="middle">(8,590,644 bp-8,602,581 bp)</text>
<rect x="62.6" y="665.4" width="621.6" height="30" fill="#f8f8f8"/>
<rect x="62.6" y="692.9" width="621.6" height="1.4" fill="#efefef"/>
<path d="M62.6 695 V665.4 H684.2 V695" fill="none" stroke="#a8a8a8" stroke-width="0.7"/>
<line x1="62.6" y1="679.2" x2="684.2" y2="679.2" stroke="#d4d4d4" stroke-width="0.7"/>
<path fill="#3ef000" d="M64.4 667.7H65V671.3H64.4zM68.6 667.7H69.2V671.3H68.6zM84.4 667.7H85V671.3H84.4zM105.4 667.7H106V671.3H105.4zM106.5 667.7H107.1V671.3H106.5zM109.9 667.7H110.5V671.3H109.9zM114.6 667.7H115.2V671.3H114.6zM120.4 667.7H121V671.3H120.4zM130.8 667.7H131.5V671.3H130.8zM144.2 667.7H144.9V671.3H144.2zM148 667.7H148.7V671.3H148zM148.7 667.7H149.3V671.3H148.7zM158.5 667.7H159.2V671.3H158.5zM186.1 667.7H186.8V671.3H186.1zM190 667.7H190.7V671.3H190zM196.6 667.7H197.2V671.3H196.6zM208.8 667.7H209.5V671.3H208.8zM218.1 667.7H218.8V671.3H218.1zM249.2 667.7H251.9V671.3H249.2zM254.5 667.7H272.7V671.3H254.5zM274.3 667.7H275.1V671.3H274.3zM288.4 667.7H289.2V671.3H288.4zM319.7 667.7H322.4V671.3H319.7zM325 667.7H329.8V671.3H325zM335.1 667.7H337.5V671.3H335.1zM340.4 667.7H341.2V671.3H340.4zM342.8 667.7H343.6V671.3H342.8zM347.2 667.7H348V671.3H347.2zM352.2 667.7H353V671.3H352.2zM358.9 667.7H359.7V671.3H358.9zM362.3 667.7H363.1V671.3H362.3zM366.7 667.7H372V671.3H366.7zM373.5 667.7H382.8V671.3H373.5zM385.1 667.7H385.9V671.3H385.1zM388.5 667.7H389.2V671.3H388.5zM402.6 667.7H403.4V671.3H402.6zM421.4 667.7H423V671.3H421.4zM425 667.7H426.5V671.3H425zM448.3 667.7H450.5V671.3H448.3zM451.8 667.7H455V671.3H451.8zM456 667.7H459V671.3H456zM467.8 667.7H476.5V671.3H467.8zM481.8 667.7H499.3V671.3H481.8zM507.8 667.7H508.5V671.3H507.8zM529.8 667.7H530.5V671.3H529.8zM532.9 667.7H533.6V671.3H532.9zM535.8 667.7H536.5V671.3H535.8zM542.8 667.7H543.5V671.3H542.8zM546.9 667.7H547.6V671.3H546.9zM597.8 667.7H598.5V671.3H597.8zM619.1 667.7H619.9V671.3H619.1zM629.6 667.7H630.4V671.3H629.6zM642.6 667.7H643.4V671.3H642.6zM648.2 667.7H653.5V671.3H648.2z"/>
<path fill="#ff1c1c" d="M82.8 682H83.4V685.9H82.8zM88.1 682H88.8V685.9H88.1zM105.4 682H106V685.9H105.4zM126.4 682H127V685.9H126.4zM131.7 682H132.3V685.9H131.7zM147.2 682H147.8V685.9H147.2zM148.2 682H148.8V685.9H148.2zM153.2 682H153.8V685.9H153.2zM155.8 682H156.5V685.9H155.8zM171.1 682H171.8V685.9H171.1zM178.2 682H178.8V685.9H178.2zM186.6 682H187.2V685.9H186.6zM189.7 682H190.3V685.9H189.7zM200.5 682H201.2V685.9H200.5zM209.2 682H209.8V685.9H209.2zM218.1 682H218.8V685.9H218.1zM222.1 682H222.8V685.9H222.1zM245.8 682H250.2V685.9H245.8zM254.2 682H254.8V685.9H254.2zM274.3 682H275.1V685.9H274.3zM276.6 682H277.4V685.9H276.6zM279 682H279.8V685.9H279zM288.4 682H289.2V685.9H288.4zM290.8 682H291.6V685.9H290.8zM294.4 682H295.2V685.9H294.4zM316.3 682H318.4V685.9H316.3zM319.7 682H321.7V685.9H319.7zM324 682H328.4V685.9H324zM340.4 682H341.2V685.9H340.4zM345.5 682H346.2V685.9H345.5zM354.9 682H355.7V685.9H354.9zM358.2 682H359V685.9H358.2zM361.6 682H362.4V685.9H361.6zM365.6 682H366.4V685.9H365.6zM383.5 682H386.2V685.9H383.5zM389.5 682H404.6V685.9H389.5zM423.8 682H426.5V685.9H423.8zM449.5 682H452V685.9H449.5zM455.5 682H462.5V685.9H455.5zM465.3 682H468.8V685.9H465.3zM497.6 682H500V685.9H497.6zM507.8 682H508.5V685.9H507.8zM518.9 682H519.6V685.9H518.9zM528.8 682H529.5V685.9H528.8zM536.4 682H537.1V685.9H536.4zM543.4 682H544.1V685.9H543.4zM546.2 682H547V685.9H546.2zM562 682H562.8V685.9H562zM564.4 682H565.1V685.9H564.4zM571.4 682H572.1V685.9H571.4zM576 682H576.8V685.9H576zM581.2 682H582V685.9H581.2zM597.4 682H598.5V685.9H597.4zM619.5 682H621V685.9H619.5zM622.5 682H624.4V685.9H622.5zM650 682H652.4V685.9H650zM662.6 682H663.4V685.9H662.6zM678.6 682H679.4V685.9H678.6z"/>
</svg></body></html>
